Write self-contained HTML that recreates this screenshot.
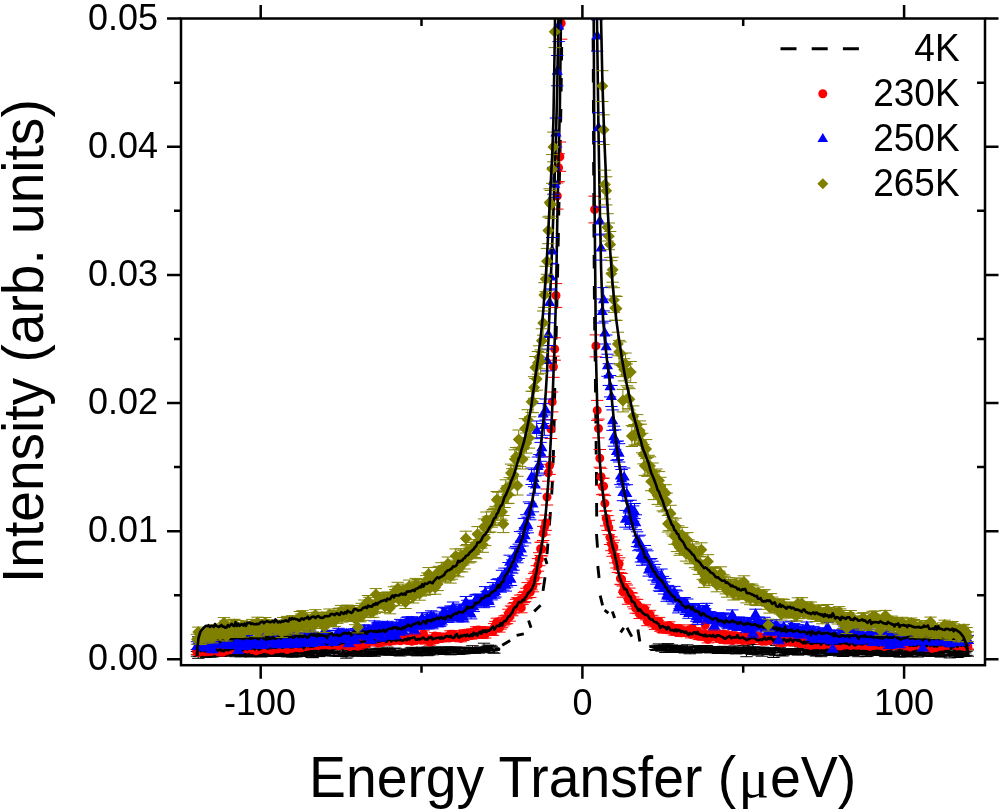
<!DOCTYPE html>
<html><head><meta charset="utf-8"><title>Intensity vs Energy Transfer</title>
<style>
html,body{margin:0;padding:0;background:#fff;}
svg{display:block;will-change:transform;}
text{font-family:"Liberation Sans",Arial,sans-serif;fill:#000;}
</style></head>
<body>
<svg width="1000" height="811" viewBox="0 0 1000 811">
<rect width="1000" height="811" fill="#fff"/>
<defs><clipPath id="c"><rect x="181.0" y="18.5" width="804.0" height="646.7"/></clipPath></defs>
<g clip-path="url(#c)">
<path d="M197 651.4V656.2M190.8 651.4h12.4M190.8 656.2h12.4M198.3 651.9V658.3M192.1 651.9h12.4M192.1 658.3h12.4M199.6 653.4V656.6M193.4 653.4h12.4M193.4 656.6h12.4M200.9 650.6V655.9M194.7 650.6h12.4M194.7 655.9h12.4M202.2 650.5V656.3M196 650.5h12.4M196 656.3h12.4M203.4 650.6V655.8M197.2 650.6h12.4M197.2 655.8h12.4M204.7 652.3V656.2M198.5 652.3h12.4M198.5 656.2h12.4M206 649.8V657.4M199.8 649.8h12.4M199.8 657.4h12.4M207.3 652.8V656M201.1 652.8h12.4M201.1 656h12.4M208.6 649.2V654.4M202.4 649.2h12.4M202.4 654.4h12.4M209.9 653.4V657.1M203.7 653.4h12.4M203.7 657.1h12.4M211.2 650.8V656.3M205 650.8h12.4M205 656.3h12.4M212.4 651.7V657M206.2 651.7h12.4M206.2 657h12.4M213.7 651.2V655.8M207.5 651.2h12.4M207.5 655.8h12.4M215 651.3V655.1M208.8 651.3h12.4M208.8 655.1h12.4M216.3 651.9V656.2M210.1 651.9h12.4M210.1 656.2h12.4M217.6 652.6V656.3M211.4 652.6h12.4M211.4 656.3h12.4M218.9 650.6V656.2M212.7 650.6h12.4M212.7 656.2h12.4M220.2 651.7V655.2M214 651.7h12.4M214 655.2h12.4M221.5 652.3V656.2M215.3 652.3h12.4M215.3 656.2h12.4M222.7 649.8V655.6M216.5 649.8h12.4M216.5 655.6h12.4M224 649.3V654.8M217.8 649.3h12.4M217.8 654.8h12.4M225.3 651.6V656.2M219.1 651.6h12.4M219.1 656.2h12.4M226.6 651V654.7M220.4 651h12.4M220.4 654.7h12.4M227.9 649.8V653.4M221.7 649.8h12.4M221.7 653.4h12.4M229.2 650.1V655.3M223 650.1h12.4M223 655.3h12.4M230.5 650.4V655.7M224.3 650.4h12.4M224.3 655.7h12.4M231.7 649.9V654.7M225.5 649.9h12.4M225.5 654.7h12.4M233 650.1V653.9M226.8 650.1h12.4M226.8 653.9h12.4M234.3 651.7V655.3M228.1 651.7h12.4M228.1 655.3h12.4M235.6 652V656.7M229.4 652h12.4M229.4 656.7h12.4M236.9 650.9V655.5M230.7 650.9h12.4M230.7 655.5h12.4M238.2 650.3V655.1M232 650.3h12.4M232 655.1h12.4M239.5 652.1V655.5M233.3 652.1h12.4M233.3 655.5h12.4M240.8 651.5V656.8M234.6 651.5h12.4M234.6 656.8h12.4M242 651.3V654.9M235.8 651.3h12.4M235.8 654.9h12.4M243.3 652.3V655.6M237.1 652.3h12.4M237.1 655.6h12.4M244.6 652.4V656.5M238.4 652.4h12.4M238.4 656.5h12.4M245.9 651.6V654.7M239.7 651.6h12.4M239.7 654.7h12.4M247.2 650.2V654.9M241 650.2h12.4M241 654.9h12.4M248.5 650.8V656.6M242.3 650.8h12.4M242.3 656.6h12.4M249.8 650.5V656.7M243.6 650.5h12.4M243.6 656.7h12.4M251 652.1V656.8M244.8 652.1h12.4M244.8 656.8h12.4M252.3 650.4V653.7M246.1 650.4h12.4M246.1 653.7h12.4M253.6 649.7V655.7M247.4 649.7h12.4M247.4 655.7h12.4M254.9 650.3V654.7M248.7 650.3h12.4M248.7 654.7h12.4M256.2 648.7V654.5M250 648.7h12.4M250 654.5h12.4M257.5 650.8V656.1M251.3 650.8h12.4M251.3 656.1h12.4M258.8 651.4V656.2M252.6 651.4h12.4M252.6 656.2h12.4M260.1 649.3V655.8M253.9 649.3h12.4M253.9 655.8h12.4M261.3 652.3V657M255.1 652.3h12.4M255.1 657h12.4M262.6 652.1V656.1M256.4 652.1h12.4M256.4 656.1h12.4M263.9 651.4V656.4M257.7 651.4h12.4M257.7 656.4h12.4M265.2 650.9V656.4M259 650.9h12.4M259 656.4h12.4M266.5 652.5V655.9M260.3 652.5h12.4M260.3 655.9h12.4M267.8 650.4V653.4M261.6 650.4h12.4M261.6 653.4h12.4M269.1 651.8V655.9M262.9 651.8h12.4M262.9 655.9h12.4M270.4 651.3V656.4M264.2 651.3h12.4M264.2 656.4h12.4M271.6 648.9V653.9M265.4 648.9h12.4M265.4 653.9h12.4M272.9 651.1V656M266.7 651.1h12.4M266.7 656h12.4M274.2 650.9V655M268 650.9h12.4M268 655h12.4M275.5 652.1V655.8M269.3 652.1h12.4M269.3 655.8h12.4M276.8 650.6V654.9M270.6 650.6h12.4M270.6 654.9h12.4M278.1 650.5V655.8M271.9 650.5h12.4M271.9 655.8h12.4M279.4 650.5V656.5M273.2 650.5h12.4M273.2 656.5h12.4M280.6 650.1V654.4M274.4 650.1h12.4M274.4 654.4h12.4M281.9 652.1V655.4M275.7 652.1h12.4M275.7 655.4h12.4M283.2 650V656M277 650h12.4M277 656h12.4M284.5 651.5V655.7M278.3 651.5h12.4M278.3 655.7h12.4M285.8 650V655.2M279.6 650h12.4M279.6 655.2h12.4M287.1 651.5V656.9M280.9 651.5h12.4M280.9 656.9h12.4M288.4 651V656.4M282.2 651h12.4M282.2 656.4h12.4M289.7 651.3V654.4M283.5 651.3h12.4M283.5 654.4h12.4M290.9 652V655.4M284.7 652h12.4M284.7 655.4h12.4M292.2 651.6V657M286 651.6h12.4M286 657h12.4M293.5 652.9V656.7M287.3 652.9h12.4M287.3 656.7h12.4M294.8 649.6V653.3M288.6 649.6h12.4M288.6 653.3h12.4M296.1 651V656.9M289.9 651h12.4M289.9 656.9h12.4M297.4 651.6V655.4M291.2 651.6h12.4M291.2 655.4h12.4M298.7 650.7V655.1M292.5 650.7h12.4M292.5 655.1h12.4M299.9 650.5V653.5M293.7 650.5h12.4M293.7 653.5h12.4M301.2 652.1V656.4M295 652.1h12.4M295 656.4h12.4M302.5 649.7V653.7M296.3 649.7h12.4M296.3 653.7h12.4M303.8 651.8V655.2M297.6 651.8h12.4M297.6 655.2h12.4M305.1 652.1V656.4M298.9 652.1h12.4M298.9 656.4h12.4M306.4 648.1V654.6M300.2 648.1h12.4M300.2 654.6h12.4M307.7 650.2V655.1M301.5 650.2h12.4M301.5 655.1h12.4M309 649.9V653.3M302.8 649.9h12.4M302.8 653.3h12.4M310.2 650.6V655.6M304 650.6h12.4M304 655.6h12.4M311.5 651.4V657.4M305.3 651.4h12.4M305.3 657.4h12.4M312.8 652V657.7M306.6 652h12.4M306.6 657.7h12.4M314.1 648.5V653.6M307.9 648.5h12.4M307.9 653.6h12.4M315.4 650.5V653.9M309.2 650.5h12.4M309.2 653.9h12.4M316.7 650.9V656.1M310.5 650.9h12.4M310.5 656.1h12.4M318 652.6V656.1M311.8 652.6h12.4M311.8 656.1h12.4M319.2 649.8V656.6M313 649.8h12.4M313 656.6h12.4M320.5 650.3V653.7M314.3 650.3h12.4M314.3 653.7h12.4M321.8 650.1V655.9M315.6 650.1h12.4M315.6 655.9h12.4M323.1 650.9V654.5M316.9 650.9h12.4M316.9 654.5h12.4M324.4 649.8V655.2M318.2 649.8h12.4M318.2 655.2h12.4M325.7 650.2V653.7M319.5 650.2h12.4M319.5 653.7h12.4M327 650.5V655.6M320.8 650.5h12.4M320.8 655.6h12.4M328.3 650.6V655.3M322.1 650.6h12.4M322.1 655.3h12.4M329.5 649.8V655.3M323.3 649.8h12.4M323.3 655.3h12.4M330.8 649.5V655.4M324.6 649.5h12.4M324.6 655.4h12.4M332.1 649.2V653.5M325.9 649.2h12.4M325.9 653.5h12.4M333.4 648.4V655.8M327.2 648.4h12.4M327.2 655.8h12.4M334.7 651.4V656.2M328.5 651.4h12.4M328.5 656.2h12.4M336 649.2V655.6M329.8 649.2h12.4M329.8 655.6h12.4M337.3 648.7V653.5M331.1 648.7h12.4M331.1 653.5h12.4M338.6 651.3V656.5M332.4 651.3h12.4M332.4 656.5h12.4M339.8 649.6V656.5M333.6 649.6h12.4M333.6 656.5h12.4M341.1 652.8V656.4M334.9 652.8h12.4M334.9 656.4h12.4M342.4 649.2V655.9M336.2 649.2h12.4M336.2 655.9h12.4M343.7 650V654M337.5 650h12.4M337.5 654h12.4M345 647.5V654.5M338.8 647.5h12.4M338.8 654.5h12.4M346.3 649.4V658.2M340.1 649.4h12.4M340.1 658.2h12.4M347.6 653.1V656.9M341.4 653.1h12.4M341.4 656.9h12.4M348.8 647.6V655.6M342.6 647.6h12.4M342.6 655.6h12.4M350.1 649.6V653.9M343.9 649.6h12.4M343.9 653.9h12.4M351.4 650.6V655.4M345.2 650.6h12.4M345.2 655.4h12.4M352.7 649.9V653.2M346.5 649.9h12.4M346.5 653.2h12.4M354 650.2V653.9M347.8 650.2h12.4M347.8 653.9h12.4M355.3 649.8V654.2M349.1 649.8h12.4M349.1 654.2h12.4M356.6 649.2V655.8M350.4 649.2h12.4M350.4 655.8h12.4M357.9 650.5V656.3M351.7 650.5h12.4M351.7 656.3h12.4M359.1 650.2V654.4M352.9 650.2h12.4M352.9 654.4h12.4M360.4 651.3V655.1M354.2 651.3h12.4M354.2 655.1h12.4M361.7 648.8V654.9M355.5 648.8h12.4M355.5 654.9h12.4M363 649.3V655.8M356.8 649.3h12.4M356.8 655.8h12.4M364.3 646.4V653.7M358.1 646.4h12.4M358.1 653.7h12.4M365.6 648.2V653.3M359.4 648.2h12.4M359.4 653.3h12.4M366.9 649.6V656.4M360.7 649.6h12.4M360.7 656.4h12.4M368.1 650V653.2M361.9 650h12.4M361.9 653.2h12.4M369.4 651.1V654.4M363.2 651.1h12.4M363.2 654.4h12.4M370.7 649.5V655.8M364.5 649.5h12.4M364.5 655.8h12.4M372 651.7V655.2M365.8 651.7h12.4M365.8 655.2h12.4M373.3 651.1V654.8M367.1 651.1h12.4M367.1 654.8h12.4M374.6 650V656.3M368.4 650h12.4M368.4 656.3h12.4M375.9 649.1V654.9M369.7 649.1h12.4M369.7 654.9h12.4M377.2 648.9V653.9M371 648.9h12.4M371 653.9h12.4M378.4 648.3V654.4M372.2 648.3h12.4M372.2 654.4h12.4M379.7 648.3V654.8M373.5 648.3h12.4M373.5 654.8h12.4M381 648.2V653.6M374.8 648.2h12.4M374.8 653.6h12.4M382.3 648.9V654M376.1 648.9h12.4M376.1 654h12.4M383.6 650.2V653.6M377.4 650.2h12.4M377.4 653.6h12.4M384.9 649.6V654.9M378.7 649.6h12.4M378.7 654.9h12.4M386.2 649.9V653.3M380 649.9h12.4M380 653.3h12.4M387.4 647.1V652.9M381.2 647.1h12.4M381.2 652.9h12.4M388.7 648.6V655.2M382.5 648.6h12.4M382.5 655.2h12.4M390 649.5V654.8M383.8 649.5h12.4M383.8 654.8h12.4M391.3 651.4V654.6M385.1 651.4h12.4M385.1 654.6h12.4M392.6 650.8V654.2M386.4 650.8h12.4M386.4 654.2h12.4M393.9 648.4V654.1M387.7 648.4h12.4M387.7 654.1h12.4M395.2 648.1V654.2M389 648.1h12.4M389 654.2h12.4M396.5 652.3V655.4M390.3 652.3h12.4M390.3 655.4h12.4M397.7 650.9V654.3M391.5 650.9h12.4M391.5 654.3h12.4M399 651.6V655.7M392.8 651.6h12.4M392.8 655.7h12.4M400.3 651.9V655.9M394.1 651.9h12.4M394.1 655.9h12.4M401.6 648.9V653M395.4 648.9h12.4M395.4 653h12.4M402.9 650.3V653.9M396.7 650.3h12.4M396.7 653.9h12.4M404.2 650.2V654.1M398 650.2h12.4M398 654.1h12.4M405.5 650.2V654.2M399.3 650.2h12.4M399.3 654.2h12.4M406.8 650.6V653.8M400.6 650.6h12.4M400.6 653.8h12.4M408 649.6V654M401.8 649.6h12.4M401.8 654h12.4M409.3 650.2V653.3M403.1 650.2h12.4M403.1 653.3h12.4M410.6 648.1V651.9M404.4 648.1h12.4M404.4 651.9h12.4M411.9 647.3V655.3M405.7 647.3h12.4M405.7 655.3h12.4M413.2 648.7V652.8M407 648.7h12.4M407 652.8h12.4M414.5 649.7V653.4M408.3 649.7h12.4M408.3 653.4h12.4M415.8 647.8V654M409.6 647.8h12.4M409.6 654h12.4M417 648.2V655.8M410.8 648.2h12.4M410.8 655.8h12.4M418.3 648.7V655.6M412.1 648.7h12.4M412.1 655.6h12.4M419.6 648.8V654.4M413.4 648.8h12.4M413.4 654.4h12.4M420.9 650V653.2M414.7 650h12.4M414.7 653.2h12.4M422.2 647.2V655.5M416 647.2h12.4M416 655.5h12.4M423.5 648.8V652.7M417.3 648.8h12.4M417.3 652.7h12.4M424.8 648.2V653.8M418.6 648.2h12.4M418.6 653.8h12.4M426.1 648.9V652.4M419.9 648.9h12.4M419.9 652.4h12.4M427.3 647.3V655.7M421.1 647.3h12.4M421.1 655.7h12.4M428.6 647.1V655.1M422.4 647.1h12.4M422.4 655.1h12.4M429.9 649V654.3M423.7 649h12.4M423.7 654.3h12.4M431.2 648V651.4M425 648h12.4M425 651.4h12.4M432.5 648.9V654.8M426.3 648.9h12.4M426.3 654.8h12.4M433.8 647.5V652.9M427.6 647.5h12.4M427.6 652.9h12.4M435.1 647V653.4M428.9 647h12.4M428.9 653.4h12.4M436.3 647.9V653.4M430.1 647.9h12.4M430.1 653.4h12.4M437.6 647.2V653.4M431.4 647.2h12.4M431.4 653.4h12.4M438.9 648.8V653.5M432.7 648.8h12.4M432.7 653.5h12.4M440.2 647.5V652.9M434 647.5h12.4M434 652.9h12.4M441.5 647.3V652.1M435.3 647.3h12.4M435.3 652.1h12.4M442.8 647.2V652.6M436.6 647.2h12.4M436.6 652.6h12.4M444.1 649.6V654.5M437.9 649.6h12.4M437.9 654.5h12.4M445.4 647.9V653.5M439.2 647.9h12.4M439.2 653.5h12.4M446.6 647.1V651.9M440.4 647.1h12.4M440.4 651.9h12.4M447.9 649V652.2M441.7 649h12.4M441.7 652.2h12.4M449.2 647V651M443 647h12.4M443 651h12.4M450.5 649.8V654.8M444.3 649.8h12.4M444.3 654.8h12.4M451.8 647.2V650.7M445.6 647.2h12.4M445.6 650.7h12.4M453.1 647.4V654.5M446.9 647.4h12.4M446.9 654.5h12.4M454.4 649.2V652.8M448.2 649.2h12.4M448.2 652.8h12.4M455.7 647V650.9M449.5 647h12.4M449.5 650.9h12.4M456.9 648.4V652.9M450.7 648.4h12.4M450.7 652.9h12.4M458.2 648.5V654.2M452 648.5h12.4M452 654.2h12.4M459.5 647.4V654.2M453.3 647.4h12.4M453.3 654.2h12.4M460.8 648.7V652.4M454.6 648.7h12.4M454.6 652.4h12.4M462.1 648.4V653.9M455.9 648.4h12.4M455.9 653.9h12.4M463.4 647.4V653.4M457.2 647.4h12.4M457.2 653.4h12.4M464.7 647.2V653.8M458.5 647.2h12.4M458.5 653.8h12.4M465.9 648.3V651.7M459.7 648.3h12.4M459.7 651.7h12.4M467.2 648.3V653.2M461 648.3h12.4M461 653.2h12.4M468.5 647.6V650.7M462.3 647.6h12.4M462.3 650.7h12.4M469.8 648.6V653.1M463.6 648.6h12.4M463.6 653.1h12.4M471.1 647.7V651.4M464.9 647.7h12.4M464.9 651.4h12.4M472.4 645.7V652.1M466.2 645.7h12.4M466.2 652.1h12.4M473.7 648.4V652.3M467.5 648.4h12.4M467.5 652.3h12.4M475 650V653.3M468.8 650h12.4M468.8 653.3h12.4M476.2 649V652.7M470 649h12.4M470 652.7h12.4M477.5 647.8V650.9M471.3 647.8h12.4M471.3 650.9h12.4M478.8 648.1V653M472.6 648.1h12.4M472.6 653h12.4M480.1 646.9V651.8M473.9 646.9h12.4M473.9 651.8h12.4M481.4 647.7V651.5M475.2 647.7h12.4M475.2 651.5h12.4M482.7 648.2V651.4M476.5 648.2h12.4M476.5 651.4h12.4M484 643.2V651.5M477.8 643.2h12.4M477.8 651.5h12.4M485.2 647.9V651.8M479 647.9h12.4M479 651.8h12.4M486.5 646.9V650.3M480.3 646.9h12.4M480.3 650.3h12.4M487.8 645.2V652.7M481.6 645.2h12.4M481.6 652.7h12.4M489.1 646.6V649.6M482.9 646.6h12.4M482.9 649.6h12.4M490.4 645.3V650.7M484.2 645.3h12.4M484.2 650.7h12.4M491.7 646.3V650.8M485.5 646.3h12.4M485.5 650.8h12.4M493 647.8V652.8M486.8 647.8h12.4M486.8 652.8h12.4M494.3 649.1V653.2M488.1 649.1h12.4M488.1 653.2h12.4M655.1 645.9V649.6M648.9 645.9h12.4M648.9 649.6h12.4M656.4 647.2V650.5M650.2 647.2h12.4M650.2 650.5h12.4M657.7 645.2V649.9M651.5 645.2h12.4M651.5 649.9h12.4M659 643.9V648.1M652.8 643.9h12.4M652.8 648.1h12.4M660.3 645.9V650.2M654.1 645.9h12.4M654.1 650.2h12.4M661.5 645.7V651.2M655.3 645.7h12.4M655.3 651.2h12.4M662.8 645.3V649.9M656.6 645.3h12.4M656.6 649.9h12.4M664.1 646.3V650.5M657.9 646.3h12.4M657.9 650.5h12.4M665.4 645V652.5M659.2 645h12.4M659.2 652.5h12.4M666.7 645.2V649.4M660.5 645.2h12.4M660.5 649.4h12.4M668 643.6V649.9M661.8 643.6h12.4M661.8 649.9h12.4M669.3 645.1V651M663.1 645.1h12.4M663.1 651h12.4M670.5 646.5V649.8M664.3 646.5h12.4M664.3 649.8h12.4M671.8 645V651.1M665.6 645h12.4M665.6 651.1h12.4M673.1 647.4V651.4M666.9 647.4h12.4M666.9 651.4h12.4M674.4 648V652.5M668.2 648h12.4M668.2 652.5h12.4M675.7 645.6V650.7M669.5 645.6h12.4M669.5 650.7h12.4M677 647.7V650.9M670.8 647.7h12.4M670.8 650.9h12.4M678.3 646.8V652.4M672.1 646.8h12.4M672.1 652.4h12.4M679.6 646.4V652.4M673.4 646.4h12.4M673.4 652.4h12.4M680.8 647.1V652.5M674.6 647.1h12.4M674.6 652.5h12.4M682.1 645.3V651.5M675.9 645.3h12.4M675.9 651.5h12.4M683.4 647.9V651.3M677.2 647.9h12.4M677.2 651.3h12.4M684.7 648.8V653M678.5 648.8h12.4M678.5 653h12.4M686 647.9V651.6M679.8 647.9h12.4M679.8 651.6h12.4M687.3 644.8V651.9M681.1 644.8h12.4M681.1 651.9h12.4M688.6 647.1V652.2M682.4 647.1h12.4M682.4 652.2h12.4M689.8 646.9V653.8M683.6 646.9h12.4M683.6 653.8h12.4M691.1 647.9V651.1M684.9 647.9h12.4M684.9 651.1h12.4M692.4 647V650.3M686.2 647h12.4M686.2 650.3h12.4M693.7 649.1V652.5M687.5 649.1h12.4M687.5 652.5h12.4M695 646V650.1M688.8 646h12.4M688.8 650.1h12.4M696.3 646.8V653M690.1 646.8h12.4M690.1 653h12.4M697.6 646.9V651.8M691.4 646.9h12.4M691.4 651.8h12.4M698.9 645.7V650.8M692.7 645.7h12.4M692.7 650.8h12.4M700.1 648.8V652.6M693.9 648.8h12.4M693.9 652.6h12.4M701.4 647.7V652M695.2 647.7h12.4M695.2 652h12.4M702.7 646.1V650.7M696.5 646.1h12.4M696.5 650.7h12.4M704 647.9V652.5M697.8 647.9h12.4M697.8 652.5h12.4M705.3 647.3V651.1M699.1 647.3h12.4M699.1 651.1h12.4M706.6 645.5V650M700.4 645.5h12.4M700.4 650h12.4M707.9 646.4V651.5M701.7 646.4h12.4M701.7 651.5h12.4M709.1 647.9V652M702.9 647.9h12.4M702.9 652h12.4M710.4 647.8V652.9M704.2 647.8h12.4M704.2 652.9h12.4M711.7 648.3V651.5M705.5 648.3h12.4M705.5 651.5h12.4M713 648V651.6M706.8 648h12.4M706.8 651.6h12.4M714.3 648.4V652.1M708.1 648.4h12.4M708.1 652.1h12.4M715.6 647.8V651.4M709.4 647.8h12.4M709.4 651.4h12.4M716.9 649.3V652.8M710.7 649.3h12.4M710.7 652.8h12.4M718.2 646.5V653.5M712 646.5h12.4M712 653.5h12.4M719.4 646.9V653.5M713.2 646.9h12.4M713.2 653.5h12.4M720.7 648.1V652.8M714.5 648.1h12.4M714.5 652.8h12.4M722 646.8V651M715.8 646.8h12.4M715.8 651h12.4M723.3 646.3V652.2M717.1 646.3h12.4M717.1 652.2h12.4M724.6 649.8V653.3M718.4 649.8h12.4M718.4 653.3h12.4M725.9 648.8V651.9M719.7 648.8h12.4M719.7 651.9h12.4M727.2 647.6V651.9M721 647.6h12.4M721 651.9h12.4M728.5 647.2V653.6M722.3 647.2h12.4M722.3 653.6h12.4M729.7 647.9V651.3M723.5 647.9h12.4M723.5 651.3h12.4M731 647.6V653.2M724.8 647.6h12.4M724.8 653.2h12.4M732.3 647V652M726.1 647h12.4M726.1 652h12.4M733.6 647.4V653.4M727.4 647.4h12.4M727.4 653.4h12.4M734.9 645.9V651.4M728.7 645.9h12.4M728.7 651.4h12.4M736.2 649.2V653.9M730 649.2h12.4M730 653.9h12.4M737.5 647.7V651.8M731.3 647.7h12.4M731.3 651.8h12.4M738.7 647.2V650.2M732.5 647.2h12.4M732.5 650.2h12.4M740 647.8V652.3M733.8 647.8h12.4M733.8 652.3h12.4M741.3 647.6V652.3M735.1 647.6h12.4M735.1 652.3h12.4M742.6 647.9V653.1M736.4 647.9h12.4M736.4 653.1h12.4M743.9 645.7V652.8M737.7 645.7h12.4M737.7 652.8h12.4M745.2 648V653.6M739 648h12.4M739 653.6h12.4M746.5 651.4V656.7M740.3 651.4h12.4M740.3 656.7h12.4M747.8 646.1V652.2M741.6 646.1h12.4M741.6 652.2h12.4M749 649V652.7M742.8 649h12.4M742.8 652.7h12.4M750.3 648V652.4M744.1 648h12.4M744.1 652.4h12.4M751.6 647V654.4M745.4 647h12.4M745.4 654.4h12.4M752.9 644.5V653M746.7 644.5h12.4M746.7 653h12.4M754.2 647V651.8M748 647h12.4M748 651.8h12.4M755.5 648.2V653.9M749.3 648.2h12.4M749.3 653.9h12.4M756.8 647.7V653.4M750.6 647.7h12.4M750.6 653.4h12.4M758 649.5V655.1M751.8 649.5h12.4M751.8 655.1h12.4M759.3 647.2V652.7M753.1 647.2h12.4M753.1 652.7h12.4M760.6 647.7V654M754.4 647.7h12.4M754.4 654h12.4M761.9 651V656.2M755.7 651h12.4M755.7 656.2h12.4M763.2 647.2V652.7M757 647.2h12.4M757 652.7h12.4M764.5 648V651.7M758.3 648h12.4M758.3 651.7h12.4M765.8 648.4V653.1M759.6 648.4h12.4M759.6 653.1h12.4M767.1 649.2V652.3M760.9 649.2h12.4M760.9 652.3h12.4M768.3 648.8V654.5M762.1 648.8h12.4M762.1 654.5h12.4M769.6 648V654M763.4 648h12.4M763.4 654h12.4M770.9 648.2V652M764.7 648.2h12.4M764.7 652h12.4M772.2 648.1V654.1M766 648.1h12.4M766 654.1h12.4M773.5 649.7V657.5M767.3 649.7h12.4M767.3 657.5h12.4M774.8 648.7V655.7M768.6 648.7h12.4M768.6 655.7h12.4M776.1 645.6V650.7M769.9 645.6h12.4M769.9 650.7h12.4M777.4 649.2V652.5M771.2 649.2h12.4M771.2 652.5h12.4M778.6 647.9V652.4M772.4 647.9h12.4M772.4 652.4h12.4M779.9 647.8V655.5M773.7 647.8h12.4M773.7 655.5h12.4M781.2 649.1V652.7M775 649.1h12.4M775 652.7h12.4M782.5 650V656M776.3 650h12.4M776.3 656h12.4M783.8 649.1V655M777.6 649.1h12.4M777.6 655h12.4M785.1 649.7V654.3M778.9 649.7h12.4M778.9 654.3h12.4M786.4 649.5V653.2M780.2 649.5h12.4M780.2 653.2h12.4M787.6 649V653.3M781.4 649h12.4M781.4 653.3h12.4M788.9 649.3V653.8M782.7 649.3h12.4M782.7 653.8h12.4M790.2 650.7V654.3M784 650.7h12.4M784 654.3h12.4M791.5 649.2V654.3M785.3 649.2h12.4M785.3 654.3h12.4M792.8 648.7V653.2M786.6 648.7h12.4M786.6 653.2h12.4M794.1 650.9V654.2M787.9 650.9h12.4M787.9 654.2h12.4M795.4 648.7V654.3M789.2 648.7h12.4M789.2 654.3h12.4M796.7 648.8V653.8M790.5 648.8h12.4M790.5 653.8h12.4M797.9 646V655.1M791.7 646h12.4M791.7 655.1h12.4M799.2 648.8V652.8M793 648.8h12.4M793 652.8h12.4M800.5 646.9V654.6M794.3 646.9h12.4M794.3 654.6h12.4M801.8 646.6V650.7M795.6 646.6h12.4M795.6 650.7h12.4M803.1 650.8V654.2M796.9 650.8h12.4M796.9 654.2h12.4M804.4 649.6V654.5M798.2 649.6h12.4M798.2 654.5h12.4M805.7 649.2V653.3M799.5 649.2h12.4M799.5 653.3h12.4M806.9 650.6V654.6M800.7 650.6h12.4M800.7 654.6h12.4M808.2 649.9V654.1M802 649.9h12.4M802 654.1h12.4M809.5 650.4V653.5M803.3 650.4h12.4M803.3 653.5h12.4M810.8 647.4V650.8M804.6 647.4h12.4M804.6 650.8h12.4M812.1 649.2V653.6M805.9 649.2h12.4M805.9 653.6h12.4M813.4 649.4V654.9M807.2 649.4h12.4M807.2 654.9h12.4M814.7 651.6V654.9M808.5 651.6h12.4M808.5 654.9h12.4M816 651V656.1M809.8 651h12.4M809.8 656.1h12.4M817.2 650.9V655.3M811 650.9h12.4M811 655.3h12.4M818.5 648.5V652.6M812.3 648.5h12.4M812.3 652.6h12.4M819.8 647.5V651.6M813.6 647.5h12.4M813.6 651.6h12.4M821.1 648V656.7M814.9 648h12.4M814.9 656.7h12.4M822.4 650V653.6M816.2 650h12.4M816.2 653.6h12.4M823.7 650.1V655.4M817.5 650.1h12.4M817.5 655.4h12.4M825 648.1V655.4M818.8 648.1h12.4M818.8 655.4h12.4M826.2 650.5V653.7M820 650.5h12.4M820 653.7h12.4M827.5 648.6V652.2M821.3 648.6h12.4M821.3 652.2h12.4M828.8 649.7V655M822.6 649.7h12.4M822.6 655h12.4M830.1 648.1V654.9M823.9 648.1h12.4M823.9 654.9h12.4M831.4 650.5V654.2M825.2 650.5h12.4M825.2 654.2h12.4M832.7 650.5V654.3M826.5 650.5h12.4M826.5 654.3h12.4M834 650.3V653.5M827.8 650.3h12.4M827.8 653.5h12.4M835.3 649.5V655.2M829.1 649.5h12.4M829.1 655.2h12.4M836.5 649.3V654.8M830.3 649.3h12.4M830.3 654.8h12.4M837.8 651.1V654.6M831.6 651.1h12.4M831.6 654.6h12.4M839.1 649.2V656M832.9 649.2h12.4M832.9 656h12.4M840.4 649.9V653.2M834.2 649.9h12.4M834.2 653.2h12.4M841.7 648.2V655M835.5 648.2h12.4M835.5 655h12.4M843 651.3V656.5M836.8 651.3h12.4M836.8 656.5h12.4M844.3 650.6V653.6M838.1 650.6h12.4M838.1 653.6h12.4M845.6 650.7V655.7M839.4 650.7h12.4M839.4 655.7h12.4M846.8 650V655.3M840.6 650h12.4M840.6 655.3h12.4M848.1 648.6V654.8M841.9 648.6h12.4M841.9 654.8h12.4M849.4 649.7V653.3M843.2 649.7h12.4M843.2 653.3h12.4M850.7 650.3V654.5M844.5 650.3h12.4M844.5 654.5h12.4M852 649.5V655.7M845.8 649.5h12.4M845.8 655.7h12.4M853.3 650.4V655.5M847.1 650.4h12.4M847.1 655.5h12.4M854.6 649.3V652.8M848.4 649.3h12.4M848.4 652.8h12.4M855.8 650.1V653.3M849.6 650.1h12.4M849.6 653.3h12.4M857.1 650.7V653.8M850.9 650.7h12.4M850.9 653.8h12.4M858.4 651.2V656.7M852.2 651.2h12.4M852.2 656.7h12.4M859.7 647.8V652.2M853.5 647.8h12.4M853.5 652.2h12.4M861 650.7V654.9M854.8 650.7h12.4M854.8 654.9h12.4M862.3 650.3V653.4M856.1 650.3h12.4M856.1 653.4h12.4M863.6 651.1V654.6M857.4 651.1h12.4M857.4 654.6h12.4M864.9 650.1V653.7M858.7 650.1h12.4M858.7 653.7h12.4M866.1 648.9V656.6M859.9 648.9h12.4M859.9 656.6h12.4M867.4 651.8V656.2M861.2 651.8h12.4M861.2 656.2h12.4M868.7 651V654.6M862.5 651h12.4M862.5 654.6h12.4M870 651.1V654.7M863.8 651.1h12.4M863.8 654.7h12.4M871.3 650.6V655M865.1 650.6h12.4M865.1 655h12.4M872.6 649.7V653.7M866.4 649.7h12.4M866.4 653.7h12.4M873.9 651V655M867.7 651h12.4M867.7 655h12.4M875.1 649.7V654.9M868.9 649.7h12.4M868.9 654.9h12.4M876.4 648.5V654.8M870.2 648.5h12.4M870.2 654.8h12.4M877.7 650.9V654M871.5 650.9h12.4M871.5 654h12.4M879 649.4V655.1M872.8 649.4h12.4M872.8 655.1h12.4M880.3 651.5V655M874.1 651.5h12.4M874.1 655h12.4M881.6 649.7V655.3M875.4 649.7h12.4M875.4 655.3h12.4M882.9 649.5V654.5M876.7 649.5h12.4M876.7 654.5h12.4M884.2 652.4V655.6M878 652.4h12.4M878 655.6h12.4M885.4 650.5V656.6M879.2 650.5h12.4M879.2 656.6h12.4M886.7 651.7V656M880.5 651.7h12.4M880.5 656h12.4M888 651.3V655M881.8 651.3h12.4M881.8 655h12.4M889.3 649.4V655.5M883.1 649.4h12.4M883.1 655.5h12.4M890.6 649.6V654.7M884.4 649.6h12.4M884.4 654.7h12.4M891.9 648.5V656.1M885.7 648.5h12.4M885.7 656.1h12.4M893.2 651.6V655.5M887 651.6h12.4M887 655.5h12.4M894.4 650.9V654.5M888.2 650.9h12.4M888.2 654.5h12.4M895.7 648.3V654M889.5 648.3h12.4M889.5 654h12.4M897 648.7V656.5M890.8 648.7h12.4M890.8 656.5h12.4M898.3 648.3V654.2M892.1 648.3h12.4M892.1 654.2h12.4M899.6 648.6V657.1M893.4 648.6h12.4M893.4 657.1h12.4M900.9 648.2V654.7M894.7 648.2h12.4M894.7 654.7h12.4M902.2 649V653.8M896 649h12.4M896 653.8h12.4M903.5 650.9V654.7M897.3 650.9h12.4M897.3 654.7h12.4M904.7 648.4V656.8M898.5 648.4h12.4M898.5 656.8h12.4M906 649.4V652.6M899.8 649.4h12.4M899.8 652.6h12.4M907.3 651.5V655.5M901.1 651.5h12.4M901.1 655.5h12.4M908.6 653.2V656.6M902.4 653.2h12.4M902.4 656.6h12.4M909.9 648.3V654.2M903.7 648.3h12.4M903.7 654.2h12.4M911.2 652.5V656.6M905 652.5h12.4M905 656.6h12.4M912.5 650.5V653.7M906.3 650.5h12.4M906.3 653.7h12.4M913.8 650.4V654.1M907.6 650.4h12.4M907.6 654.1h12.4M915 650.7V654.5M908.8 650.7h12.4M908.8 654.5h12.4M916.3 648.7V654M910.1 648.7h12.4M910.1 654h12.4M917.6 651.1V657M911.4 651.1h12.4M911.4 657h12.4M918.9 650.7V655.9M912.7 650.7h12.4M912.7 655.9h12.4M920.2 649.6V654.5M914 649.6h12.4M914 654.5h12.4M921.5 649.3V655.8M915.3 649.3h12.4M915.3 655.8h12.4M922.8 649.4V653.2M916.6 649.4h12.4M916.6 653.2h12.4M924 650.1V654.9M917.8 650.1h12.4M917.8 654.9h12.4M925.3 652.2V655.3M919.1 652.2h12.4M919.1 655.3h12.4M926.6 648.9V653.3M920.4 648.9h12.4M920.4 653.3h12.4M927.9 648.5V656.3M921.7 648.5h12.4M921.7 656.3h12.4M929.2 650.3V655.7M923 650.3h12.4M923 655.7h12.4M930.5 652.3V655.5M924.3 652.3h12.4M924.3 655.5h12.4M931.8 652V656.4M925.6 652h12.4M925.6 656.4h12.4M933.1 649.3V655.5M926.9 649.3h12.4M926.9 655.5h12.4M934.3 648.3V656M928.1 648.3h12.4M928.1 656h12.4M935.6 650.9V655.8M929.4 650.9h12.4M929.4 655.8h12.4M936.9 650.8V654.3M930.7 650.8h12.4M930.7 654.3h12.4M938.2 650.4V654.8M932 650.4h12.4M932 654.8h12.4M939.5 651.7V656.4M933.3 651.7h12.4M933.3 656.4h12.4M940.8 652.2V657.1M934.6 652.2h12.4M934.6 657.1h12.4M942.1 650.6V655.8M935.9 650.6h12.4M935.9 655.8h12.4M943.3 650.4V655.1M937.1 650.4h12.4M937.1 655.1h12.4M944.6 651V656.1M938.4 651h12.4M938.4 656.1h12.4M945.9 649.5V652.7M939.7 649.5h12.4M939.7 652.7h12.4M947.2 651.3V654.7M941 651.3h12.4M941 654.7h12.4M948.5 648.9V655M942.3 648.9h12.4M942.3 655h12.4M949.8 652.9V657.9M943.6 652.9h12.4M943.6 657.9h12.4M951.1 652.1V655.4M944.9 652.1h12.4M944.9 655.4h12.4M952.4 651.2V655.2M946.2 651.2h12.4M946.2 655.2h12.4M953.6 649.8V655.9M947.4 649.8h12.4M947.4 655.9h12.4M954.9 648.2V652.9M948.7 648.2h12.4M948.7 652.9h12.4M956.2 651.3V656.2M950 651.3h12.4M950 656.2h12.4M957.5 651.9V657.5M951.3 651.9h12.4M951.3 657.5h12.4M958.8 650V654.7M952.6 650h12.4M952.6 654.7h12.4M960.1 650.9V656.7M953.9 650.9h12.4M953.9 656.7h12.4M961.4 651.9V655.7M955.2 651.9h12.4M955.2 655.7h12.4M962.6 648.9V654.2M956.4 648.9h12.4M956.4 654.2h12.4M963.9 651.7V656.4M957.7 651.7h12.4M957.7 656.4h12.4M965.2 652.9V656M959 652.9h12.4M959 656h12.4M966.5 651.4V655.3M960.3 651.4h12.4M960.3 655.3h12.4M967.8 650V656.2M961.6 650h12.4M961.6 656.2h12.4" fill="none" stroke="#000" stroke-width="1"/>
<path d="M197 653.8L199.6 655L202.2 653.4L204.7 654.3L207.3 654.4L209.9 655.2L212.4 654.3L215 653.2L217.6 654.4L220.2 653.4L222.7 652.7L225.3 653.9L227.9 651.6L230.5 653L233 652L235.6 654.4L238.2 652.7L240.8 654.1L243.3 654L245.9 653.2L248.5 653.7L251 654.5L253.6 652.7L256.2 651.6L258.8 653.8L261.3 654.7L263.9 653.9L266.5 654.2L269.1 653.8L271.6 651.4L274.2 652.9L276.8 652.7L279.4 653.5L281.9 653.7L284.5 653.6L287.1 654.2L289.7 652.9L292.2 654.3L294.8 651.5L297.4 653.5L299.9 652L302.5 651.7L305.1 654.2L307.7 652.6L310.2 653.1L312.8 654.9L315.4 652.2L318 654.4L320.5 652L323.1 652.7L325.7 652L328.3 653L330.8 652.4L333.4 652.1L336 652.4L338.6 653.9L341.1 654.6L343.7 652L346.3 653.8L348.8 651.6L351.4 653L354 652.1L356.6 652.5L359.1 652.3L361.7 651.8L364.3 650.1L366.9 653L369.4 652.7L372 653.5L374.6 653.1L377.2 651.4L379.7 651.6L382.3 651.5L384.9 652.2L387.4 650L390 652.1L392.6 652.5L395.2 651.1L397.7 652.6L400.3 653.9L402.9 652.1L405.5 652.2L408 651.8L410.6 650L413.2 650.7L415.8 650.9L418.3 652.2L420.9 651.6L423.5 650.8L426.1 650.7L428.6 651.1L431.2 649.7L433.8 650.2L436.3 650.7L438.9 651.1L441.5 649.7L444.1 652L446.6 649.5L449.2 649L451.8 649L454.4 651L456.9 650.7L459.5 650.8L462.1 651.2L464.7 650.5L467.2 650.8L469.8 650.8L472.4 648.9L475 651.6L477.5 649.3L480.1 649.3L482.7 649.8L485.2 649.9L487.8 648.9L490.4 648L493 650.3L499.8 649.3M649.5 646.5L655.1 647.7L657.7 647.6L660.3 648.1L662.8 647.6L665.4 648.7L668 646.8L670.5 648.1L673.1 649.4L675.7 648.1L678.3 649.6L680.8 649.8L683.4 649.6L686 649.8L688.6 649.7L691.1 649.5L693.7 650.8L696.3 649.9L698.9 648.3L701.4 649.9L704 650.2L706.6 647.7L709.1 649.9L711.7 649.9L714.3 650.3L716.9 651L719.4 650.2L722 648.9L724.6 651.5L727.2 649.8L729.7 649.6L732.3 649.5L734.9 648.6L737.5 649.7L740 650.1L742.6 650.5L745.2 650.8L747.8 649.2L750.3 650.2L752.9 648.7L755.5 651.1L758 652.3L760.6 650.9L763.2 650L765.8 650.7L768.3 651.7L770.9 650.1L773.5 653.6L776.1 648.2L778.6 650.1L781.2 650.9L783.8 652L786.4 651.3L788.9 651.5L791.5 651.8L794.1 652.6L796.7 651.3L799.2 650.8L801.8 648.6L804.4 652L806.9 652.6L809.5 651.9L812.1 651.4L814.7 653.3L817.2 653.1L819.8 649.6L822.4 651.8L825 651.7L827.5 650.4L830.1 651.5L832.7 652.4L835.3 652.4L837.8 652.8L840.4 651.6L843 653.9L845.6 653.2L848.1 651.7L850.7 652.4L853.3 652.9L855.8 651.7L858.4 654L861 652.8L863.6 652.8L866.1 652.8L868.7 652.8L871.3 652.8L873.9 653L876.4 651.7L879 652.3L881.6 652.5L884.2 654L886.7 653.8L889.3 652.5L891.9 652.3L894.4 652.7L897 652.6L899.6 652.8L902.2 651.4L904.7 652.6L907.3 653.5L909.9 651.2L912.5 652.1L915 652.6L917.6 654.1L920.2 652.1L922.8 651.3L925.3 653.8L927.9 652.4L930.5 653.9L933.1 652.4L935.6 653.4L938.2 652.6L940.8 654.6L943.3 652.8L945.9 651.1L948.5 651.9L951.1 653.7L953.6 652.9L956.2 653.8L958.8 652.4L961.4 653.8L963.9 654.1L966.5 653.4" fill="none" stroke="#000" stroke-width="2.8" stroke-linejoin="round"/>
<path d="M499.8 649.3L495 648.9M510.2 640.5L502.2 645.3M523.8 633.8L516.6 635.4M528.6 620.5L531 627.7M540.6 605.3L534.2 611.4M545 577.3L543 590.9M545.1 558L547 564M547.9 543.6L547 554M596.5 534L597.5 547.6M597.8 566L599.1 578M600.2 595.7L602.6 605.4M604.6 610.2L608.4 613.2M612.3 611.4L614.7 617.9M620.6 632.3L623.8 627.8M627 627.8L631.8 636.6M637.9 629.4L639.8 641.4M550.4 512L549.4 525.5M552.4 481L551.7 494.5M553.5 450L553.1 463.5M554.2 419L553.9 432.5M554.8 388L554.5 401.5M555.6 357L555.2 370.5M556.4 326L556 339.5M557.1 295L556.8 308.5M557.8 264L557.5 277.5M558.4 233L558.1 246.5M559 202L558.7 215.5M559.6 171L559.3 184.5M560.3 140L560 153.5M560.9 109L560.6 122.5M561.3 78L561.1 91.5M561.7 47L561.5 60.5M562 16L561.9 29.5M596.6 503L596.7 516.5M596.4 472L596.5 485.5M596.1 441L596.2 454.5M595.7 410L595.9 423.5M595.4 379L595.5 392.5M595 348L595.2 361.5M594.6 317L594.7 330.5M594.3 286L594.4 299.5M594.1 255L594.2 268.5M593.9 224L594 237.5M593.8 193L593.8 206.5M593.6 162L593.7 175.5M593.5 131L593.6 144.5M593.4 100L593.5 113.5M593.3 69L593.3 82.5M593.1 38L593.2 51.5M593 7L593 20.5" fill="none" stroke="#000" stroke-width="2.9"/>
<path d="M197 649.5V654.4M190.8 649.5h12.4M190.8 654.4h12.4M198.3 650.2V655M192.1 650.2h12.4M192.1 655h12.4M199.6 647.8V652.7M193.4 647.8h12.4M193.4 652.7h12.4M200.9 649V653.8M194.7 649h12.4M194.7 653.8h12.4M202.2 648.5V653.4M196 648.5h12.4M196 653.4h12.4M203.4 647.6V652.6M197.2 647.6h12.4M197.2 652.6h12.4M204.7 649.3V654.2M198.5 649.3h12.4M198.5 654.2h12.4M206 648.3V653.2M199.8 648.3h12.4M199.8 653.2h12.4M207.3 646.8V651.7M201.1 646.8h12.4M201.1 651.7h12.4M208.6 649V654M202.4 649h12.4M202.4 654h12.4M209.9 647.3V652.2M203.7 647.3h12.4M203.7 652.2h12.4M211.2 648.9V653.9M205 648.9h12.4M205 653.9h12.4M212.4 645.7V650.7M206.2 645.7h12.4M206.2 650.7h12.4M213.7 647.4V652.3M207.5 647.4h12.4M207.5 652.3h12.4M215 646.3V651.2M208.8 646.3h12.4M208.8 651.2h12.4M216.3 646.2V651.2M210.1 646.2h12.4M210.1 651.2h12.4M217.6 645.1V650.1M211.4 645.1h12.4M211.4 650.1h12.4M218.9 649.6V654.6M212.7 649.6h12.4M212.7 654.6h12.4M220.2 646.9V652M214 646.9h12.4M214 652h12.4M221.5 647.3V652.3M215.3 647.3h12.4M215.3 652.3h12.4M222.7 649.6V654.7M216.5 649.6h12.4M216.5 654.7h12.4M224 646.8V651.8M217.8 646.8h12.4M217.8 651.8h12.4M225.3 647.5V652.5M219.1 647.5h12.4M219.1 652.5h12.4M226.6 645.3V650.3M220.4 645.3h12.4M220.4 650.3h12.4M227.9 647V652.1M221.7 647h12.4M221.7 652.1h12.4M229.2 646.3V651.3M223 646.3h12.4M223 651.3h12.4M230.5 647.3V652.3M224.3 647.3h12.4M224.3 652.3h12.4M231.7 646.8V651.9M225.5 646.8h12.4M225.5 651.9h12.4M233 645V650.1M226.8 645h12.4M226.8 650.1h12.4M234.3 644.4V649.5M228.1 644.4h12.4M228.1 649.5h12.4M235.6 645.3V650.4M229.4 645.3h12.4M229.4 650.4h12.4M236.9 647.3V652.4M230.7 647.3h12.4M230.7 652.4h12.4M238.2 646.9V652M232 646.9h12.4M232 652h12.4M239.5 646.8V651.9M233.3 646.8h12.4M233.3 651.9h12.4M240.8 643.9V649.1M234.6 643.9h12.4M234.6 649.1h12.4M242 643.1V648.2M235.8 643.1h12.4M235.8 648.2h12.4M243.3 645.4V650.6M237.1 645.4h12.4M237.1 650.6h12.4M244.6 645.3V650.5M238.4 645.3h12.4M238.4 650.5h12.4M245.9 645.3V650.5M239.7 645.3h12.4M239.7 650.5h12.4M247.2 646.4V651.6M241 646.4h12.4M241 651.6h12.4M248.5 645.7V650.9M242.3 645.7h12.4M242.3 650.9h12.4M249.8 644.5V649.7M243.6 644.5h12.4M243.6 649.7h12.4M251 644.8V650M244.8 644.8h12.4M244.8 650h12.4M252.3 645.9V651.1M246.1 645.9h12.4M246.1 651.1h12.4M253.6 645.8V651M247.4 645.8h12.4M247.4 651h12.4M254.9 645.5V650.8M248.7 645.5h12.4M248.7 650.8h12.4M256.2 648.2V653.5M250 648.2h12.4M250 653.5h12.4M257.5 645.2V650.4M251.3 645.2h12.4M251.3 650.4h12.4M258.8 645.6V650.8M252.6 645.6h12.4M252.6 650.8h12.4M260.1 644.2V649.5M253.9 644.2h12.4M253.9 649.5h12.4M261.3 644.9V650.1M255.1 644.9h12.4M255.1 650.1h12.4M262.6 645.9V651.1M256.4 645.9h12.4M256.4 651.1h12.4M263.9 645.8V651.1M257.7 645.8h12.4M257.7 651.1h12.4M265.2 644.9V650.2M259 644.9h12.4M259 650.2h12.4M266.5 645.5V650.8M260.3 645.5h12.4M260.3 650.8h12.4M267.8 645V650.3M261.6 645h12.4M261.6 650.3h12.4M269.1 642.6V648M262.9 642.6h12.4M262.9 648h12.4M270.4 636.6V641.9M264.2 636.6h12.4M264.2 641.9h12.4M271.6 647.5V652.9M265.4 647.5h12.4M265.4 652.9h12.4M272.9 645.7V651M266.7 645.7h12.4M266.7 651h12.4M274.2 644.5V649.9M268 644.5h12.4M268 649.9h12.4M275.5 642.4V647.8M269.3 642.4h12.4M269.3 647.8h12.4M276.8 642.9V648.3M270.6 642.9h12.4M270.6 648.3h12.4M278.1 646V651.4M271.9 646h12.4M271.9 651.4h12.4M279.4 640.9V646.3M273.2 640.9h12.4M273.2 646.3h12.4M280.6 643.8V649.2M274.4 643.8h12.4M274.4 649.2h12.4M281.9 645.2V650.6M275.7 645.2h12.4M275.7 650.6h12.4M283.2 644.3V649.7M277 644.3h12.4M277 649.7h12.4M284.5 644.9V650.4M278.3 644.9h12.4M278.3 650.4h12.4M285.8 643.8V649.2M279.6 643.8h12.4M279.6 649.2h12.4M287.1 646.8V652.2M280.9 646.8h12.4M280.9 652.2h12.4M288.4 642.5V648M282.2 642.5h12.4M282.2 648h12.4M289.7 642V647.5M283.5 642h12.4M283.5 647.5h12.4M290.9 644V649.4M284.7 644h12.4M284.7 649.4h12.4M292.2 645.3V650.8M286 645.3h12.4M286 650.8h12.4M293.5 643.4V648.9M287.3 643.4h12.4M287.3 648.9h12.4M294.8 644.7V650.2M288.6 644.7h12.4M288.6 650.2h12.4M296.1 642.6V648.2M289.9 642.6h12.4M289.9 648.2h12.4M297.4 641.7V647.3M291.2 641.7h12.4M291.2 647.3h12.4M298.7 644.9V650.4M292.5 644.9h12.4M292.5 650.4h12.4M299.9 645V650.6M293.7 645h12.4M293.7 650.6h12.4M301.2 644.9V650.5M295 644.9h12.4M295 650.5h12.4M302.5 642.3V647.9M296.3 642.3h12.4M296.3 647.9h12.4M303.8 639.7V645.3M297.6 639.7h12.4M297.6 645.3h12.4M305.1 641.2V646.8M298.9 641.2h12.4M298.9 646.8h12.4M306.4 642.3V648M300.2 642.3h12.4M300.2 648h12.4M307.7 643.3V648.9M301.5 643.3h12.4M301.5 648.9h12.4M309 643.1V648.7M302.8 643.1h12.4M302.8 648.7h12.4M310.2 640.6V646.2M304 640.6h12.4M304 646.2h12.4M311.5 642.5V648.2M305.3 642.5h12.4M305.3 648.2h12.4M312.8 642.2V647.9M306.6 642.2h12.4M306.6 647.9h12.4M314.1 642.2V647.9M307.9 642.2h12.4M307.9 647.9h12.4M315.4 642V647.7M309.2 642h12.4M309.2 647.7h12.4M316.7 641.7V647.4M310.5 641.7h12.4M310.5 647.4h12.4M318 642.6V648.3M311.8 642.6h12.4M311.8 648.3h12.4M319.2 641.9V647.7M313 641.9h12.4M313 647.7h12.4M320.5 642V647.7M314.3 642h12.4M314.3 647.7h12.4M321.8 639.7V645.5M315.6 639.7h12.4M315.6 645.5h12.4M323.1 642V647.8M316.9 642h12.4M316.9 647.8h12.4M324.4 641.3V647M318.2 641.3h12.4M318.2 647h12.4M325.7 638.6V644.4M319.5 638.6h12.4M319.5 644.4h12.4M327 641.9V647.7M320.8 641.9h12.4M320.8 647.7h12.4M328.3 640.8V646.6M322.1 640.8h12.4M322.1 646.6h12.4M329.5 642.3V648.1M323.3 642.3h12.4M323.3 648.1h12.4M330.8 640.8V646.6M324.6 640.8h12.4M324.6 646.6h12.4M332.1 640.8V646.6M325.9 640.8h12.4M325.9 646.6h12.4M333.4 641.1V646.9M327.2 641.1h12.4M327.2 646.9h12.4M334.7 640.7V646.6M328.5 640.7h12.4M328.5 646.6h12.4M336 639.4V645.2M329.8 639.4h12.4M329.8 645.2h12.4M337.3 635.5V641.4M331.1 635.5h12.4M331.1 641.4h12.4M338.6 642.9V648.8M332.4 642.9h12.4M332.4 648.8h12.4M339.8 638.2V644.1M333.6 638.2h12.4M333.6 644.1h12.4M341.1 639.8V645.7M334.9 639.8h12.4M334.9 645.7h12.4M342.4 641V646.9M336.2 641h12.4M336.2 646.9h12.4M343.7 640.5V646.5M337.5 640.5h12.4M337.5 646.5h12.4M345 640.7V646.7M338.8 640.7h12.4M338.8 646.7h12.4M346.3 640.9V646.8M340.1 640.9h12.4M340.1 646.8h12.4M347.6 641.4V647.4M341.4 641.4h12.4M341.4 647.4h12.4M348.8 640.1V646M342.6 640.1h12.4M342.6 646h12.4M350.1 643.5V649.5M343.9 643.5h12.4M343.9 649.5h12.4M351.4 638.1V644.1M345.2 638.1h12.4M345.2 644.1h12.4M352.7 639.7V645.7M346.5 639.7h12.4M346.5 645.7h12.4M354 638.8V644.8M347.8 638.8h12.4M347.8 644.8h12.4M355.3 638.4V644.5M349.1 638.4h12.4M349.1 644.5h12.4M356.6 639.5V645.5M350.4 639.5h12.4M350.4 645.5h12.4M357.9 643.2V649.2M351.7 643.2h12.4M351.7 649.2h12.4M359.1 637.9V644M352.9 637.9h12.4M352.9 644h12.4M360.4 637.8V643.9M354.2 637.8h12.4M354.2 643.9h12.4M361.7 639.7V645.8M355.5 639.7h12.4M355.5 645.8h12.4M363 639.4V645.5M356.8 639.4h12.4M356.8 645.5h12.4M364.3 641.2V647.4M358.1 641.2h12.4M358.1 647.4h12.4M365.6 639.9V646M359.4 639.9h12.4M359.4 646h12.4M366.9 638.7V644.8M360.7 638.7h12.4M360.7 644.8h12.4M368.1 637.8V644M361.9 637.8h12.4M361.9 644h12.4M369.4 638.5V644.6M363.2 638.5h12.4M363.2 644.6h12.4M370.7 637.9V644M364.5 637.9h12.4M364.5 644h12.4M372 636.1V642.3M365.8 636.1h12.4M365.8 642.3h12.4M373.3 638V644.1M367.1 638h12.4M367.1 644.1h12.4M374.6 637.6V643.8M368.4 637.6h12.4M368.4 643.8h12.4M375.9 637.5V643.7M369.7 637.5h12.4M369.7 643.7h12.4M377.2 636.5V642.7M371 636.5h12.4M371 642.7h12.4M378.4 640V646.2M372.2 640h12.4M372.2 646.2h12.4M379.7 638.5V644.8M373.5 638.5h12.4M373.5 644.8h12.4M381 638.8V645.1M374.8 638.8h12.4M374.8 645.1h12.4M382.3 636.6V642.8M376.1 636.6h12.4M376.1 642.8h12.4M383.6 634.3V640.6M377.4 634.3h12.4M377.4 640.6h12.4M384.9 636.9V643.2M378.7 636.9h12.4M378.7 643.2h12.4M386.2 637.6V643.8M380 637.6h12.4M380 643.8h12.4M387.4 636.7V642.9M381.2 636.7h12.4M381.2 642.9h12.4M388.7 636.8V643.1M382.5 636.8h12.4M382.5 643.1h12.4M390 638.4V644.7M383.8 638.4h12.4M383.8 644.7h12.4M391.3 637.4V643.7M385.1 637.4h12.4M385.1 643.7h12.4M392.6 635.5V641.8M386.4 635.5h12.4M386.4 641.8h12.4M393.9 636.2V642.5M387.7 636.2h12.4M387.7 642.5h12.4M395.2 634.8V641.1M389 634.8h12.4M389 641.1h12.4M396.5 636.9V643.3M390.3 636.9h12.4M390.3 643.3h12.4M397.7 635V641.3M391.5 635h12.4M391.5 641.3h12.4M399 636.3V642.7M392.8 636.3h12.4M392.8 642.7h12.4M400.3 637.5V643.8M394.1 637.5h12.4M394.1 643.8h12.4M401.6 636.5V642.8M395.4 636.5h12.4M395.4 642.8h12.4M402.9 635V641.4M396.7 635h12.4M396.7 641.4h12.4M404.2 635.4V641.8M398 635.4h12.4M398 641.8h12.4M405.5 636.4V642.8M399.3 636.4h12.4M399.3 642.8h12.4M406.8 636.9V643.3M400.6 636.9h12.4M400.6 643.3h12.4M408 637.3V643.7M401.8 637.3h12.4M401.8 643.7h12.4M409.3 635.8V642.2M403.1 635.8h12.4M403.1 642.2h12.4M410.6 634.1V640.5M404.4 634.1h12.4M404.4 640.5h12.4M411.9 638V644.4M405.7 638h12.4M405.7 644.4h12.4M413.2 636.7V643.2M407 636.7h12.4M407 643.2h12.4M414.5 636.4V642.8M408.3 636.4h12.4M408.3 642.8h12.4M415.8 636.1V642.6M409.6 636.1h12.4M409.6 642.6h12.4M417 634.1V640.6M410.8 634.1h12.4M410.8 640.6h12.4M418.3 635.1V641.6M412.1 635.1h12.4M412.1 641.6h12.4M419.6 635.9V642.4M413.4 635.9h12.4M413.4 642.4h12.4M420.9 637V643.4M414.7 637h12.4M414.7 643.4h12.4M422.2 635.6V642.1M416 635.6h12.4M416 642.1h12.4M423.5 630.8V637.3M417.3 630.8h12.4M417.3 637.3h12.4M424.8 634.9V641.4M418.6 634.9h12.4M418.6 641.4h12.4M426.1 635.7V642.2M419.9 635.7h12.4M419.9 642.2h12.4M427.3 637.1V643.6M421.1 637.1h12.4M421.1 643.6h12.4M428.6 637.3V643.8M422.4 637.3h12.4M422.4 643.8h12.4M429.9 638.7V645.2M423.7 638.7h12.4M423.7 645.2h12.4M431.2 637.1V643.6M425 637.1h12.4M425 643.6h12.4M432.5 636.9V643.4M426.3 636.9h12.4M426.3 643.4h12.4M433.8 636.2V642.8M427.6 636.2h12.4M427.6 642.8h12.4M435.1 632.7V639.3M428.9 632.7h12.4M428.9 639.3h12.4M436.3 636V642.5M430.1 636h12.4M430.1 642.5h12.4M437.6 635.5V642.1M431.4 635.5h12.4M431.4 642.1h12.4M438.9 633.8V640.4M432.7 633.8h12.4M432.7 640.4h12.4M440.2 635.3V641.9M434 635.3h12.4M434 641.9h12.4M441.5 635V641.6M435.3 635h12.4M435.3 641.6h12.4M442.8 633.6V640.2M436.6 633.6h12.4M436.6 640.2h12.4M444.1 634V640.7M437.9 634h12.4M437.9 640.7h12.4M445.4 633.7V640.4M439.2 633.7h12.4M439.2 640.4h12.4M446.6 634.4V641M440.4 634.4h12.4M440.4 641h12.4M447.9 633.3V639.9M441.7 633.3h12.4M441.7 639.9h12.4M449.2 634.6V641.3M443 634.6h12.4M443 641.3h12.4M450.5 630.8V637.5M444.3 630.8h12.4M444.3 637.5h12.4M451.8 633.2V639.9M445.6 633.2h12.4M445.6 639.9h12.4M453.1 630.9V637.6M446.9 630.9h12.4M446.9 637.6h12.4M454.4 632.6V639.3M448.2 632.6h12.4M448.2 639.3h12.4M455.7 634V640.7M449.5 634h12.4M449.5 640.7h12.4M456.9 633.1V639.8M450.7 633.1h12.4M450.7 639.8h12.4M458.2 632.8V639.5M452 632.8h12.4M452 639.5h12.4M459.5 632.9V639.6M453.3 632.9h12.4M453.3 639.6h12.4M460.8 635V641.8M454.6 635h12.4M454.6 641.8h12.4M462.1 630.8V637.6M455.9 630.8h12.4M455.9 637.6h12.4M463.4 633.6V640.5M457.2 633.6h12.4M457.2 640.5h12.4M464.7 629.8V636.6M458.5 629.8h12.4M458.5 636.6h12.4M465.9 631.2V638M459.7 631.2h12.4M459.7 638h12.4M467.2 631.9V638.8M461 631.9h12.4M461 638.8h12.4M468.5 630.1V637M462.3 630.1h12.4M462.3 637h12.4M469.8 631.5V638.5M463.6 631.5h12.4M463.6 638.5h12.4M471.1 632.1V639.1M464.9 632.1h12.4M464.9 639.1h12.4M472.4 628.8V635.8M466.2 628.8h12.4M466.2 635.8h12.4M473.7 630.3V637.3M467.5 630.3h12.4M467.5 637.3h12.4M475 629.5V636.6M468.8 629.5h12.4M468.8 636.6h12.4M476.2 626.8V633.8M470 626.8h12.4M470 633.8h12.4M477.5 629.2V636.3M471.3 629.2h12.4M471.3 636.3h12.4M478.8 626.5V633.7M472.6 626.5h12.4M472.6 633.7h12.4M480.1 631.1V638.2M473.9 631.1h12.4M473.9 638.2h12.4M481.4 627.1V634.3M475.2 627.1h12.4M475.2 634.3h12.4M482.7 631V638.2M476.5 631h12.4M476.5 638.2h12.4M484 627V634.3M477.8 627h12.4M477.8 634.3h12.4M485.2 630.7V638M479 630.7h12.4M479 638h12.4M486.5 628V635.3M480.3 628h12.4M480.3 635.3h12.4M487.8 627.4V634.8M481.6 627.4h12.4M481.6 634.8h12.4M489.1 627.6V635M482.9 627.6h12.4M482.9 635h12.4M490.4 627.3V634.8M484.2 627.3h12.4M484.2 634.8h12.4M491.7 627.7V635.2M485.5 627.7h12.4M485.5 635.2h12.4M493 627.7V635.3M486.8 627.7h12.4M486.8 635.3h12.4M494.3 623.6V631.3M488.1 623.6h12.4M488.1 631.3h12.4M495.5 621.4V629.1M489.3 621.4h12.4M489.3 629.1h12.4M496.8 618.2V626M490.6 618.2h12.4M490.6 626h12.4M498.1 621.5V629.3M491.9 621.5h12.4M491.9 629.3h12.4M499.4 624.1V632.1M493.2 624.1h12.4M493.2 632.1h12.4M500.7 621.1V629.1M494.5 621.1h12.4M494.5 629.1h12.4M502 619.6V627.7M495.8 619.6h12.4M495.8 627.7h12.4M503.3 617.7V625.9M497.1 617.7h12.4M497.1 625.9h12.4M504.5 616V624.3M498.3 616h12.4M498.3 624.3h12.4M505.8 615.4V623.8M499.6 615.4h12.4M499.6 623.8h12.4M507.1 615.2V623.7M500.9 615.2h12.4M500.9 623.7h12.4M508.4 609.2V617.9M502.2 609.2h12.4M502.2 617.9h12.4M509.7 612.4V621.2M503.5 612.4h12.4M503.5 621.2h12.4M511 605.9V614.9M504.8 605.9h12.4M504.8 614.9h12.4M512.3 606.7V615.8M506.1 606.7h12.4M506.1 615.8h12.4M513.6 603.7V613M507.4 603.7h12.4M507.4 613h12.4M514.8 602.5V611.9M508.6 602.5h12.4M508.6 611.9h12.4M516.1 599.3V608.8M509.9 599.3h12.4M509.9 608.8h12.4M517.4 597.6V607.2M511.2 597.6h12.4M511.2 607.2h12.4M518.7 598.5V608.2M512.5 598.5h12.4M512.5 608.2h12.4M520 595.1V605M513.8 595.1h12.4M513.8 605h12.4M521.3 602.9V612.8M515.1 602.9h12.4M515.1 612.8h12.4M522.6 594.4V604.4M516.4 594.4h12.4M516.4 604.4h12.4M523.9 592.5V602.6M517.7 592.5h12.4M517.7 602.6h12.4M525.1 591.3V601.6M518.9 591.3h12.4M518.9 601.6h12.4M526.4 588.3V598.7M520.2 588.3h12.4M520.2 598.7h12.4M527.7 582.6V593.1M521.5 582.6h12.4M521.5 593.1h12.4M529 587V597.6M522.8 587h12.4M522.8 597.6h12.4M530.3 586.6V597.4M524.1 586.6h12.4M524.1 597.4h12.4M531.6 578.9V589.8M525.4 578.9h12.4M525.4 589.8h12.4M532.9 580.8V591.8M526.7 580.8h12.4M526.7 591.8h12.4M534.1 573.4V584.7M527.9 573.4h12.4M527.9 584.7h12.4M535.4 571.9V583.5M529.2 571.9h12.4M529.2 583.5h12.4M536.7 565.7V577.8M530.5 565.7h12.4M530.5 577.8h12.4M538 558.6V571.2M531.8 558.6h12.4M531.8 571.2h12.4M539.3 552.7V565.7M533.1 552.7h12.4M533.1 565.7h12.4M540.6 542.2V555.5M534.4 542.2h12.4M534.4 555.5h12.4M541.9 542.3V556M535.7 542.3h12.4M535.7 556h12.4M543.2 526.4V540.5M537 526.4h12.4M537 540.5h12.4M544.4 520.2V534.9M538.2 520.2h12.4M538.2 534.9h12.4M545.7 515.1V530.4M539.5 515.1h12.4M539.5 530.4h12.4M547 489V505M540.8 489h12.4M540.8 505h12.4M548.3 464.3V481.2M542.1 464.3h12.4M542.1 481.2h12.4M549.6 456.7V474.4M543.4 456.7h12.4M543.4 474.4h12.4M550.9 419.7V438.5M544.7 419.7h12.4M544.7 438.5h12.4M552.2 392V411.9M546 392h12.4M546 411.9h12.4M553.4 356.2V377.3M547.2 356.2h12.4M547.2 377.3h12.4M554.7 337.8V360.2M548.5 337.8h12.4M548.5 360.2h12.4M556 283.6V307.4M549.8 283.6h12.4M549.8 307.4h12.4M557.3 182.9V209.1M551.1 182.9h12.4M551.1 209.1h12.4M558.6 153.7V181.6M552.4 153.7h12.4M552.4 181.6h12.4M559.9 142V171.3M553.7 142h12.4M553.7 171.3h12.4M561.2 7.2V39.2M555 7.2h12.4M555 39.2h12.4M594.6 196.2V222.9M588.4 196.2h12.4M588.4 222.9h12.4M595.9 334.9V356.9M589.7 334.9h12.4M589.7 356.9h12.4M597.2 400.4V420.4M591 400.4h12.4M591 420.4h12.4M598.5 419.1V437.9M592.3 419.1h12.4M592.3 437.9h12.4M599.8 449.5V467.2M593.6 449.5h12.4M593.6 467.2h12.4M601.1 468.3V485.3M594.9 468.3h12.4M594.9 485.3h12.4M602.3 478.3V494.7M596.1 478.3h12.4M596.1 494.7h12.4M603.6 478.2V494.2M597.4 478.2h12.4M597.4 494.2h12.4M604.9 495.6V511.2M598.7 495.6h12.4M598.7 511.2h12.4M606.2 510.7V525.9M600 510.7h12.4M600 525.9h12.4M607.5 515.6V530.4M601.3 515.6h12.4M601.3 530.4h12.4M608.8 520.3V534.7M602.6 520.3h12.4M602.6 534.7h12.4M610.1 530.4V544.5M603.9 530.4h12.4M603.9 544.5h12.4M611.4 536.9V550.7M605.2 536.9h12.4M605.2 550.7h12.4M612.6 542.7V556.3M606.4 542.7h12.4M606.4 556.3h12.4M613.9 540.2V553.6M607.7 540.2h12.4M607.7 553.6h12.4M615.2 549.9V562.9M609 549.9h12.4M609 562.9h12.4M616.5 555.4V568M610.3 555.4h12.4M610.3 568h12.4M617.8 560.2V572.4M611.6 560.2h12.4M611.6 572.4h12.4M619.1 557.8V569.7M612.9 557.8h12.4M612.9 569.7h12.4M620.4 572.8V584.3M614.2 572.8h12.4M614.2 584.3h12.4M621.6 573.5V584.8M615.4 573.5h12.4M615.4 584.8h12.4M622.9 586V597.2M616.7 586h12.4M616.7 597.2h12.4M624.2 581.4V592.4M618 581.4h12.4M618 592.4h12.4M625.5 583.3V594.1M619.3 583.3h12.4M619.3 594.1h12.4M626.8 585V595.7M620.6 585h12.4M620.6 595.7h12.4M628.1 593.7V604.3M621.9 593.7h12.4M621.9 604.3h12.4M629.4 588.1V598.5M623.2 588.1h12.4M623.2 598.5h12.4M630.7 592.5V602.7M624.5 592.5h12.4M624.5 602.7h12.4M631.9 593.1V603.2M625.7 593.1h12.4M625.7 603.2h12.4M633.2 596.9V606.8M627 596.9h12.4M627 606.8h12.4M634.5 599.1V608.8M628.3 599.1h12.4M628.3 608.8h12.4M635.8 603.6V613.2M629.6 603.6h12.4M629.6 613.2h12.4M637.1 599.4V608.9M630.9 599.4h12.4M630.9 608.9h12.4M638.4 604.2V613.6M632.2 604.2h12.4M632.2 613.6h12.4M639.7 609.3V618.5M633.5 609.3h12.4M633.5 618.5h12.4M640.9 605.9V615M634.7 605.9h12.4M634.7 615h12.4M642.2 607.8V616.8M636 607.8h12.4M636 616.8h12.4M643.5 607.3V616.3M637.3 607.3h12.4M637.3 616.3h12.4M644.8 604.8V613.7M638.6 604.8h12.4M638.6 613.7h12.4M646.1 611V619.8M639.9 611h12.4M639.9 619.8h12.4M647.4 617V625.7M641.2 617h12.4M641.2 625.7h12.4M648.7 612.1V620.7M642.5 612.1h12.4M642.5 620.7h12.4M650 610.3V618.9M643.8 610.3h12.4M643.8 618.9h12.4M651.2 615.3V623.8M645 615.3h12.4M645 623.8h12.4M652.5 615.9V624.3M646.3 615.9h12.4M646.3 624.3h12.4M653.8 618.6V626.9M647.6 618.6h12.4M647.6 626.9h12.4M655.1 621.2V629.4M648.9 621.2h12.4M648.9 629.4h12.4M656.4 618.2V626.3M650.2 618.2h12.4M650.2 626.3h12.4M657.7 620.4V628.4M651.5 620.4h12.4M651.5 628.4h12.4M659 617.4V625.3M652.8 617.4h12.4M652.8 625.3h12.4M660.3 623.5V631.3M654.1 623.5h12.4M654.1 631.3h12.4M661.5 622.6V630.4M655.3 622.6h12.4M655.3 630.4h12.4M662.8 624.9V632.6M656.6 624.9h12.4M656.6 632.6h12.4M664.1 625.4V633.1M657.9 625.4h12.4M657.9 633.1h12.4M665.4 623.6V631.2M659.2 623.6h12.4M659.2 631.2h12.4M666.7 624.3V631.9M660.5 624.3h12.4M660.5 631.9h12.4M668 623.4V631M661.8 623.4h12.4M661.8 631h12.4M669.3 621.8V629.3M663.1 621.8h12.4M663.1 629.3h12.4M670.5 625.4V632.9M664.3 625.4h12.4M664.3 632.9h12.4M671.8 626.3V633.7M665.6 626.3h12.4M665.6 633.7h12.4M673.1 624.5V631.9M666.9 624.5h12.4M666.9 631.9h12.4M674.4 627.8V635.2M668.2 627.8h12.4M668.2 635.2h12.4M675.7 627.1V634.4M669.5 627.1h12.4M669.5 634.4h12.4M677 627.9V635.3M670.8 627.9h12.4M670.8 635.3h12.4M678.3 626.2V633.5M672.1 626.2h12.4M672.1 633.5h12.4M679.6 624.8V632.1M673.4 624.8h12.4M673.4 632.1h12.4M680.8 629.2V636.5M674.6 629.2h12.4M674.6 636.5h12.4M682.1 629.1V636.4M675.9 629.1h12.4M675.9 636.4h12.4M683.4 628.2V635.4M677.2 628.2h12.4M677.2 635.4h12.4M684.7 627.9V635.1M678.5 627.9h12.4M678.5 635.1h12.4M686 628.3V635.5M679.8 628.3h12.4M679.8 635.5h12.4M687.3 628.8V635.9M681.1 628.8h12.4M681.1 635.9h12.4M688.6 628.4V635.5M682.4 628.4h12.4M682.4 635.5h12.4M689.8 626.2V633.3M683.6 626.2h12.4M683.6 633.3h12.4M691.1 630.8V637.9M684.9 630.8h12.4M684.9 637.9h12.4M692.4 624.8V631.8M686.2 624.8h12.4M686.2 631.8h12.4M693.7 629.4V636.5M687.5 629.4h12.4M687.5 636.5h12.4M695 629.7V636.7M688.8 629.7h12.4M688.8 636.7h12.4M696.3 630.7V637.8M690.1 630.7h12.4M690.1 637.8h12.4M697.6 628V635M691.4 628h12.4M691.4 635h12.4M698.9 632.6V639.6M692.7 632.6h12.4M692.7 639.6h12.4M700.1 631.9V638.8M693.9 631.9h12.4M693.9 638.8h12.4M701.4 632.2V639.2M695.2 632.2h12.4M695.2 639.2h12.4M702.7 633.1V640.1M696.5 633.1h12.4M696.5 640.1h12.4M704 630.1V637M697.8 630.1h12.4M697.8 637h12.4M705.3 621.2V628.1M699.1 621.2h12.4M699.1 628.1h12.4M706.6 632.1V639M700.4 632.1h12.4M700.4 639h12.4M707.9 636V642.9M701.7 636h12.4M701.7 642.9h12.4M709.1 633.7V640.6M702.9 633.7h12.4M702.9 640.6h12.4M710.4 631.2V638.1M704.2 631.2h12.4M704.2 638.1h12.4M711.7 632V638.9M705.5 632h12.4M705.5 638.9h12.4M713 632.7V639.6M706.8 632.7h12.4M706.8 639.6h12.4M714.3 629.7V636.5M708.1 629.7h12.4M708.1 636.5h12.4M715.6 631.5V638.3M709.4 631.5h12.4M709.4 638.3h12.4M716.9 631.7V638.5M710.7 631.7h12.4M710.7 638.5h12.4M718.2 635.2V642M712 635.2h12.4M712 642h12.4M719.4 631.9V638.7M713.2 631.9h12.4M713.2 638.7h12.4M720.7 635.4V642.2M714.5 635.4h12.4M714.5 642.2h12.4M722 633.2V639.9M715.8 633.2h12.4M715.8 639.9h12.4M723.3 630.7V637.4M717.1 630.7h12.4M717.1 637.4h12.4M724.6 636.7V643.4M718.4 636.7h12.4M718.4 643.4h12.4M725.9 632V638.7M719.7 632h12.4M719.7 638.7h12.4M727.2 634.5V641.2M721 634.5h12.4M721 641.2h12.4M728.5 636.3V642.9M722.3 636.3h12.4M722.3 642.9h12.4M729.7 633V639.7M723.5 633h12.4M723.5 639.7h12.4M731 632.1V638.7M724.8 632.1h12.4M724.8 638.7h12.4M732.3 637.3V643.9M726.1 637.3h12.4M726.1 643.9h12.4M733.6 634.2V640.8M727.4 634.2h12.4M727.4 640.8h12.4M734.9 632.4V639M728.7 632.4h12.4M728.7 639h12.4M736.2 632.7V639.3M730 632.7h12.4M730 639.3h12.4M737.5 633.8V640.4M731.3 633.8h12.4M731.3 640.4h12.4M738.7 635.9V642.5M732.5 635.9h12.4M732.5 642.5h12.4M740 634.1V640.7M733.8 634.1h12.4M733.8 640.7h12.4M741.3 635.6V642.2M735.1 635.6h12.4M735.1 642.2h12.4M742.6 637.2V643.7M736.4 637.2h12.4M736.4 643.7h12.4M743.9 636.7V643.2M737.7 636.7h12.4M737.7 643.2h12.4M745.2 637V643.6M739 637h12.4M739 643.6h12.4M746.5 636.8V643.3M740.3 636.8h12.4M740.3 643.3h12.4M747.8 630.1V636.7M741.6 630.1h12.4M741.6 636.7h12.4M749 637V643.5M742.8 637h12.4M742.8 643.5h12.4M750.3 636.3V642.8M744.1 636.3h12.4M744.1 642.8h12.4M751.6 635.2V641.7M745.4 635.2h12.4M745.4 641.7h12.4M752.9 633.9V640.3M746.7 633.9h12.4M746.7 640.3h12.4M754.2 633.2V639.7M748 633.2h12.4M748 639.7h12.4M755.5 632.2V638.7M749.3 632.2h12.4M749.3 638.7h12.4M756.8 635.6V642.1M750.6 635.6h12.4M750.6 642.1h12.4M758 634.1V640.5M751.8 634.1h12.4M751.8 640.5h12.4M759.3 634.7V641.1M753.1 634.7h12.4M753.1 641.1h12.4M760.6 634V640.5M754.4 634h12.4M754.4 640.5h12.4M761.9 638V644.4M755.7 638h12.4M755.7 644.4h12.4M763.2 635.6V642.1M757 635.6h12.4M757 642.1h12.4M764.5 635.9V642.3M758.3 635.9h12.4M758.3 642.3h12.4M765.8 638.1V644.5M759.6 638.1h12.4M759.6 644.5h12.4M767.1 635.8V642.2M760.9 635.8h12.4M760.9 642.2h12.4M768.3 637.2V643.6M762.1 637.2h12.4M762.1 643.6h12.4M769.6 634.9V641.3M763.4 634.9h12.4M763.4 641.3h12.4M770.9 637V643.3M764.7 637h12.4M764.7 643.3h12.4M772.2 636.8V643.1M766 636.8h12.4M766 643.1h12.4M773.5 636.9V643.3M767.3 636.9h12.4M767.3 643.3h12.4M774.8 636.1V642.4M768.6 636.1h12.4M768.6 642.4h12.4M776.1 635.4V641.7M769.9 635.4h12.4M769.9 641.7h12.4M777.4 636.5V642.8M771.2 636.5h12.4M771.2 642.8h12.4M778.6 636.3V642.6M772.4 636.3h12.4M772.4 642.6h12.4M779.9 638.5V644.8M773.7 638.5h12.4M773.7 644.8h12.4M781.2 639.8V646.1M775 639.8h12.4M775 646.1h12.4M782.5 635.5V641.8M776.3 635.5h12.4M776.3 641.8h12.4M783.8 639.1V645.4M777.6 639.1h12.4M777.6 645.4h12.4M785.1 636.7V643M778.9 636.7h12.4M778.9 643h12.4M786.4 638.1V644.3M780.2 638.1h12.4M780.2 644.3h12.4M787.6 636.9V643.1M781.4 636.9h12.4M781.4 643.1h12.4M788.9 635.6V641.8M782.7 635.6h12.4M782.7 641.8h12.4M790.2 639.1V645.4M784 639.1h12.4M784 645.4h12.4M791.5 638.4V644.6M785.3 638.4h12.4M785.3 644.6h12.4M792.8 636.2V642.4M786.6 636.2h12.4M786.6 642.4h12.4M794.1 635.4V641.5M787.9 635.4h12.4M787.9 641.5h12.4M795.4 637.3V643.5M789.2 637.3h12.4M789.2 643.5h12.4M796.7 636.5V642.7M790.5 636.5h12.4M790.5 642.7h12.4M797.9 637.8V643.9M791.7 637.8h12.4M791.7 643.9h12.4M799.2 639.2V645.3M793 639.2h12.4M793 645.3h12.4M800.5 640.5V646.6M794.3 640.5h12.4M794.3 646.6h12.4M801.8 638V644.2M795.6 638h12.4M795.6 644.2h12.4M803.1 640.5V646.6M796.9 640.5h12.4M796.9 646.6h12.4M804.4 640.3V646.4M798.2 640.3h12.4M798.2 646.4h12.4M805.7 638.2V644.3M799.5 638.2h12.4M799.5 644.3h12.4M806.9 636.6V642.7M800.7 636.6h12.4M800.7 642.7h12.4M808.2 640.1V646.2M802 640.1h12.4M802 646.2h12.4M809.5 639.9V645.9M803.3 639.9h12.4M803.3 645.9h12.4M810.8 642.3V648.4M804.6 642.3h12.4M804.6 648.4h12.4M812.1 641.2V647.2M805.9 641.2h12.4M805.9 647.2h12.4M813.4 640.4V646.4M807.2 640.4h12.4M807.2 646.4h12.4M814.7 641.7V647.7M808.5 641.7h12.4M808.5 647.7h12.4M816 638.1V644.1M809.8 638.1h12.4M809.8 644.1h12.4M817.2 639.8V645.8M811 639.8h12.4M811 645.8h12.4M818.5 639.3V645.2M812.3 639.3h12.4M812.3 645.2h12.4M819.8 642V648M813.6 642h12.4M813.6 648h12.4M821.1 640.5V646.5M814.9 640.5h12.4M814.9 646.5h12.4M822.4 635.7V641.7M816.2 635.7h12.4M816.2 641.7h12.4M823.7 641.7V647.7M817.5 641.7h12.4M817.5 647.7h12.4M825 637.4V643.4M818.8 637.4h12.4M818.8 643.4h12.4M826.2 641.1V647M820 641.1h12.4M820 647h12.4M827.5 639.5V645.4M821.3 639.5h12.4M821.3 645.4h12.4M828.8 640.5V646.4M822.6 640.5h12.4M822.6 646.4h12.4M830.1 641.1V647M823.9 641.1h12.4M823.9 647h12.4M831.4 640.5V646.5M825.2 640.5h12.4M825.2 646.5h12.4M832.7 639.1V645M826.5 639.1h12.4M826.5 645h12.4M834 642.2V648.1M827.8 642.2h12.4M827.8 648.1h12.4M835.3 641V646.9M829.1 641h12.4M829.1 646.9h12.4M836.5 640.5V646.3M830.3 640.5h12.4M830.3 646.3h12.4M837.8 642.5V648.4M831.6 642.5h12.4M831.6 648.4h12.4M839.1 639.8V645.7M832.9 639.8h12.4M832.9 645.7h12.4M840.4 643.1V649M834.2 643.1h12.4M834.2 649h12.4M841.7 640.9V646.8M835.5 640.9h12.4M835.5 646.8h12.4M843 641.1V647M836.8 641.1h12.4M836.8 647h12.4M844.3 641.1V647M838.1 641.1h12.4M838.1 647h12.4M845.6 639.5V645.4M839.4 639.5h12.4M839.4 645.4h12.4M846.8 639.2V645.1M840.6 639.2h12.4M840.6 645.1h12.4M848.1 641.4V647.3M841.9 641.4h12.4M841.9 647.3h12.4M849.4 641.3V647.1M843.2 641.3h12.4M843.2 647.1h12.4M850.7 642.6V648.4M844.5 642.6h12.4M844.5 648.4h12.4M852 641.4V647.3M845.8 641.4h12.4M845.8 647.3h12.4M853.3 639.4V645.3M847.1 639.4h12.4M847.1 645.3h12.4M854.6 641.6V647.4M848.4 641.6h12.4M848.4 647.4h12.4M855.8 642V647.8M849.6 642h12.4M849.6 647.8h12.4M857.1 642.3V648.1M850.9 642.3h12.4M850.9 648.1h12.4M858.4 641.4V647.2M852.2 641.4h12.4M852.2 647.2h12.4M859.7 639.4V645.2M853.5 639.4h12.4M853.5 645.2h12.4M861 642.5V648.4M854.8 642.5h12.4M854.8 648.4h12.4M862.3 640.1V645.9M856.1 640.1h12.4M856.1 645.9h12.4M863.6 641.8V647.6M857.4 641.8h12.4M857.4 647.6h12.4M864.9 639V644.8M858.7 639h12.4M858.7 644.8h12.4M866.1 642.1V647.9M859.9 642.1h12.4M859.9 647.9h12.4M867.4 640.1V645.9M861.2 640.1h12.4M861.2 645.9h12.4M868.7 642.5V648.4M862.5 642.5h12.4M862.5 648.4h12.4M870 643.5V649.3M863.8 643.5h12.4M863.8 649.3h12.4M871.3 642.7V648.5M865.1 642.7h12.4M865.1 648.5h12.4M872.6 639.7V645.5M866.4 639.7h12.4M866.4 645.5h12.4M873.9 640V645.8M867.7 640h12.4M867.7 645.8h12.4M875.1 640.1V645.9M868.9 640.1h12.4M868.9 645.9h12.4M876.4 642.1V647.9M870.2 642.1h12.4M870.2 647.9h12.4M877.7 642.2V648M871.5 642.2h12.4M871.5 648h12.4M879 641.5V647.3M872.8 641.5h12.4M872.8 647.3h12.4M880.3 641.7V647.5M874.1 641.7h12.4M874.1 647.5h12.4M881.6 642.1V647.8M875.4 642.1h12.4M875.4 647.8h12.4M882.9 642.2V648M876.7 642.2h12.4M876.7 648h12.4M884.2 643.5V649.3M878 643.5h12.4M878 649.3h12.4M885.4 641.3V647.1M879.2 641.3h12.4M879.2 647.1h12.4M886.7 641.6V647.4M880.5 641.6h12.4M880.5 647.4h12.4M888 639V644.8M881.8 639h12.4M881.8 644.8h12.4M889.3 639.7V645.5M883.1 639.7h12.4M883.1 645.5h12.4M890.6 640.5V646.3M884.4 640.5h12.4M884.4 646.3h12.4M891.9 639.9V645.7M885.7 639.9h12.4M885.7 645.7h12.4M893.2 641.7V647.5M887 641.7h12.4M887 647.5h12.4M894.4 642.8V648.6M888.2 642.8h12.4M888.2 648.6h12.4M895.7 640.9V646.7M889.5 640.9h12.4M889.5 646.7h12.4M897 640.9V646.6M890.8 640.9h12.4M890.8 646.6h12.4M898.3 640.9V646.6M892.1 640.9h12.4M892.1 646.6h12.4M899.6 641.7V647.5M893.4 641.7h12.4M893.4 647.5h12.4M900.9 640.9V646.6M894.7 640.9h12.4M894.7 646.6h12.4M902.2 642.2V647.9M896 642.2h12.4M896 647.9h12.4M903.5 642V647.8M897.3 642h12.4M897.3 647.8h12.4M904.7 642.1V647.8M898.5 642.1h12.4M898.5 647.8h12.4M906 642.7V648.4M899.8 642.7h12.4M899.8 648.4h12.4M907.3 641.7V647.5M901.1 641.7h12.4M901.1 647.5h12.4M908.6 641.9V647.6M902.4 641.9h12.4M902.4 647.6h12.4M909.9 644V649.7M903.7 644h12.4M903.7 649.7h12.4M911.2 641.7V647.4M905 641.7h12.4M905 647.4h12.4M912.5 642.8V648.6M906.3 642.8h12.4M906.3 648.6h12.4M913.8 641.9V647.6M907.6 641.9h12.4M907.6 647.6h12.4M915 641.3V647M908.8 641.3h12.4M908.8 647h12.4M916.3 641.3V647M910.1 641.3h12.4M910.1 647h12.4M917.6 640.9V646.6M911.4 640.9h12.4M911.4 646.6h12.4M918.9 642V647.7M912.7 642h12.4M912.7 647.7h12.4M920.2 641.2V646.9M914 641.2h12.4M914 646.9h12.4M921.5 641.5V647.2M915.3 641.5h12.4M915.3 647.2h12.4M922.8 643.6V649.3M916.6 643.6h12.4M916.6 649.3h12.4M924 641.9V647.6M917.8 641.9h12.4M917.8 647.6h12.4M925.3 643.5V649.2M919.1 643.5h12.4M919.1 649.2h12.4M926.6 642.5V648.1M920.4 642.5h12.4M920.4 648.1h12.4M927.9 643.2V648.9M921.7 643.2h12.4M921.7 648.9h12.4M929.2 641.4V647.1M923 641.4h12.4M923 647.1h12.4M930.5 642.4V648.1M924.3 642.4h12.4M924.3 648.1h12.4M931.8 645.6V651.3M925.6 645.6h12.4M925.6 651.3h12.4M933.1 643.3V649M926.9 643.3h12.4M926.9 649h12.4M934.3 645V650.6M928.1 645h12.4M928.1 650.6h12.4M935.6 642.6V648.3M929.4 642.6h12.4M929.4 648.3h12.4M936.9 643.4V649.1M930.7 643.4h12.4M930.7 649.1h12.4M938.2 640.9V646.6M932 640.9h12.4M932 646.6h12.4M939.5 641.3V647M933.3 641.3h12.4M933.3 647h12.4M940.8 643V648.6M934.6 643h12.4M934.6 648.6h12.4M942.1 643.5V649.1M935.9 643.5h12.4M935.9 649.1h12.4M943.3 642V647.6M937.1 642h12.4M937.1 647.6h12.4M944.6 642V647.6M938.4 642h12.4M938.4 647.6h12.4M945.9 642.1V647.7M939.7 642.1h12.4M939.7 647.7h12.4M947.2 642.3V648M941 642.3h12.4M941 648h12.4M948.5 641.1V646.7M942.3 641.1h12.4M942.3 646.7h12.4M949.8 640.8V646.4M943.6 640.8h12.4M943.6 646.4h12.4M951.1 642.6V648.2M944.9 642.6h12.4M944.9 648.2h12.4M952.4 640.5V646.1M946.2 640.5h12.4M946.2 646.1h12.4M953.6 641.5V647.1M947.4 641.5h12.4M947.4 647.1h12.4M954.9 641.9V647.5M948.7 641.9h12.4M948.7 647.5h12.4M956.2 641.4V647M950 641.4h12.4M950 647h12.4M957.5 643.1V648.7M951.3 643.1h12.4M951.3 648.7h12.4M958.8 642.3V647.8M952.6 642.3h12.4M952.6 647.8h12.4M960.1 642.7V648.3M953.9 642.7h12.4M953.9 648.3h12.4M961.4 641.6V647.2M955.2 641.6h12.4M955.2 647.2h12.4M962.6 640.9V646.5M956.4 640.9h12.4M956.4 646.5h12.4M963.9 643.6V649.1M957.7 643.6h12.4M957.7 649.1h12.4M965.2 643.4V649M959 643.4h12.4M959 649h12.4M966.5 642.4V648M960.3 642.4h12.4M960.3 648h12.4M967.8 643.5V649M961.6 643.5h12.4M961.6 649h12.4" fill="none" stroke="#f00" stroke-width="1"/>
<path d="M197 652h0M198.3 652.6h0M199.6 650.2h0M200.9 651.4h0M202.2 650.9h0M203.4 650.1h0M204.7 651.7h0M206 650.7h0M207.3 649.3h0M208.6 651.5h0M209.9 649.7h0M211.2 651.4h0M212.4 648.2h0M213.7 649.8h0M215 648.8h0M216.3 648.7h0M217.6 647.6h0M218.9 652.1h0M220.2 649.4h0M221.5 649.8h0M222.7 652.2h0M224 649.3h0M225.3 650h0M226.6 647.8h0M227.9 649.5h0M229.2 648.8h0M230.5 649.8h0M231.7 649.4h0M233 647.5h0M234.3 647h0M235.6 647.9h0M236.9 649.8h0M238.2 649.4h0M239.5 649.3h0M240.8 646.5h0M242 645.7h0M243.3 648h0M244.6 647.9h0M245.9 647.9h0M247.2 649h0M248.5 648.3h0M249.8 647.1h0M251 647.4h0M252.3 648.5h0M253.6 648.4h0M254.9 648.2h0M256.2 650.8h0M257.5 647.8h0M258.8 648.2h0M260.1 646.8h0M261.3 647.5h0M262.6 648.5h0M263.9 648.5h0M265.2 647.6h0M266.5 648.2h0M267.8 647.7h0M269.1 645.3h0M270.4 639.2h0M271.6 650.2h0M272.9 648.4h0M274.2 647.2h0M275.5 645.1h0M276.8 645.6h0M278.1 648.7h0M279.4 643.6h0M280.6 646.5h0M281.9 647.9h0M283.2 647h0M284.5 647.6h0M285.8 646.5h0M287.1 649.5h0M288.4 645.2h0M289.7 644.8h0M290.9 646.7h0M292.2 648.1h0M293.5 646.1h0M294.8 647.4h0M296.1 645.4h0M297.4 644.5h0M298.7 647.7h0M299.9 647.8h0M301.2 647.7h0M302.5 645.1h0M303.8 642.5h0M305.1 644h0M306.4 645.2h0M307.7 646.1h0M309 645.9h0M310.2 643.4h0M311.5 645.4h0M312.8 645.1h0M314.1 645.1h0M315.4 644.8h0M316.7 644.5h0M318 645.5h0M319.2 644.8h0M320.5 644.9h0M321.8 642.6h0M323.1 644.9h0M324.4 644.2h0M325.7 641.5h0M327 644.8h0M328.3 643.7h0M329.5 645.2h0M330.8 643.7h0M332.1 643.7h0M333.4 644h0M334.7 643.6h0M336 642.3h0M337.3 638.5h0M338.6 645.8h0M339.8 641.2h0M341.1 642.7h0M342.4 644h0M343.7 643.5h0M345 643.7h0M346.3 643.9h0M347.6 644.4h0M348.8 643h0M350.1 646.5h0M351.4 641.1h0M352.7 642.7h0M354 641.8h0M355.3 641.5h0M356.6 642.5h0M357.9 646.2h0M359.1 641h0M360.4 640.9h0M361.7 642.8h0M363 642.4h0M364.3 644.3h0M365.6 642.9h0M366.9 641.7h0M368.1 640.9h0M369.4 641.6h0M370.7 640.9h0M372 639.2h0M373.3 641.1h0M374.6 640.7h0M375.9 640.6h0M377.2 639.6h0M378.4 643.1h0M379.7 641.7h0M381 641.9h0M382.3 639.7h0M383.6 637.5h0M384.9 640h0M386.2 640.7h0M387.4 639.8h0M388.7 640h0M390 641.5h0M391.3 640.5h0M392.6 638.6h0M393.9 639.4h0M395.2 637.9h0M396.5 640.1h0M397.7 638.1h0M399 639.5h0M400.3 640.7h0M401.6 639.6h0M402.9 638.2h0M404.2 638.6h0M405.5 639.6h0M406.8 640.1h0M408 640.5h0M409.3 639h0M410.6 637.3h0M411.9 641.2h0M413.2 640h0M414.5 639.6h0M415.8 639.4h0M417 637.4h0M418.3 638.3h0M419.6 639.1h0M420.9 640.2h0M422.2 638.8h0M423.5 634h0M424.8 638.2h0M426.1 639h0M427.3 640.3h0M428.6 640.5h0M429.9 642h0M431.2 640.3h0M432.5 640.2h0M433.8 639.5h0M435.1 636h0M436.3 639.2h0M437.6 638.8h0M438.9 637.1h0M440.2 638.6h0M441.5 638.3h0M442.8 636.9h0M444.1 637.3h0M445.4 637.1h0M446.6 637.7h0M447.9 636.6h0M449.2 638h0M450.5 634.2h0M451.8 636.5h0M453.1 634.3h0M454.4 636h0M455.7 637.4h0M456.9 636.5h0M458.2 636.1h0M459.5 636.3h0M460.8 638.4h0M462.1 634.2h0M463.4 637h0M464.7 633.2h0M465.9 634.6h0M467.2 635.4h0M468.5 633.6h0M469.8 635h0M471.1 635.6h0M472.4 632.3h0M473.7 633.8h0M475 633.1h0M476.2 630.3h0M477.5 632.8h0M478.8 630.1h0M480.1 634.6h0M481.4 630.7h0M482.7 634.6h0M484 630.6h0M485.2 634.3h0M486.5 631.7h0M487.8 631.1h0M489.1 631.3h0M490.4 631.1h0M491.7 631.4h0M493 631.5h0M494.3 627.4h0M495.5 625.3h0M496.8 622.1h0M498.1 625.4h0M499.4 628.1h0M500.7 625.1h0M502 623.7h0M503.3 621.8h0M504.5 620.2h0M505.8 619.6h0M507.1 619.4h0M508.4 613.6h0M509.7 616.8h0M511 610.4h0M512.3 611.3h0M513.6 608.3h0M514.8 607.2h0M516.1 604.1h0M517.4 602.4h0M518.7 603.4h0M520 600h0M521.3 607.9h0M522.6 599.4h0M523.9 597.5h0M525.1 596.4h0M526.4 593.5h0M527.7 587.9h0M529 592.3h0M530.3 592h0M531.6 584.4h0M532.9 586.3h0M534.1 579.1h0M535.4 577.7h0M536.7 571.8h0M538 564.9h0M539.3 559.2h0M540.6 548.8h0M541.9 549.1h0M543.2 533.4h0M544.4 527.6h0M545.7 522.7h0M547 497h0M548.3 472.8h0M549.6 465.6h0M550.9 429.1h0M552.2 401.9h0M553.4 366.7h0M554.7 349h0M556 295.5h0M557.3 196h0M558.6 167.7h0M559.9 156.7h0M561.2 23.2h0M594.6 209.5h0M595.9 345.9h0M597.2 410.4h0M598.5 428.5h0M599.8 458.3h0M601.1 476.8h0M602.3 486.5h0M603.6 486.2h0M604.9 503.4h0M606.2 518.3h0M607.5 523h0M608.8 527.5h0M610.1 537.5h0M611.4 543.8h0M612.6 549.5h0M613.9 546.9h0M615.2 556.4h0M616.5 561.7h0M617.8 566.3h0M619.1 563.7h0M620.4 578.5h0M621.6 579.2h0M622.9 591.6h0M624.2 586.9h0M625.5 588.7h0M626.8 590.4h0M628.1 599h0M629.4 593.3h0M630.7 597.6h0M631.9 598.1h0M633.2 601.8h0M634.5 603.9h0M635.8 608.4h0M637.1 604.2h0M638.4 608.9h0M639.7 613.9h0M640.9 610.4h0M642.2 612.3h0M643.5 611.8h0M644.8 609.2h0M646.1 615.4h0M647.4 621.4h0M648.7 616.4h0M650 614.6h0M651.2 619.6h0M652.5 620.1h0M653.8 622.7h0M655.1 625.3h0M656.4 622.3h0M657.7 624.4h0M659 621.4h0M660.3 627.4h0M661.5 626.5h0M662.8 628.8h0M664.1 629.3h0M665.4 627.4h0M666.7 628.1h0M668 627.2h0M669.3 625.6h0M670.5 629.2h0M671.8 630h0M673.1 628.2h0M674.4 631.5h0M675.7 630.8h0M677 631.6h0M678.3 629.8h0M679.6 628.4h0M680.8 632.8h0M682.1 632.8h0M683.4 631.8h0M684.7 631.5h0M686 631.9h0M687.3 632.3h0M688.6 631.9h0M689.8 629.7h0M691.1 634.4h0M692.4 628.3h0M693.7 633h0M695 633.2h0M696.3 634.3h0M697.6 631.5h0M698.9 636.1h0M700.1 635.4h0M701.4 635.7h0M702.7 636.6h0M704 633.5h0M705.3 624.7h0M706.6 635.6h0M707.9 639.4h0M709.1 637.1h0M710.4 634.6h0M711.7 635.4h0M713 636.1h0M714.3 633.1h0M715.6 634.9h0M716.9 635.1h0M718.2 638.6h0M719.4 635.3h0M720.7 638.8h0M722 636.5h0M723.3 634.1h0M724.6 640.1h0M725.9 635.4h0M727.2 637.9h0M728.5 639.6h0M729.7 636.3h0M731 635.4h0M732.3 640.6h0M733.6 637.5h0M734.9 635.7h0M736.2 636h0M737.5 637.1h0M738.7 639.2h0M740 637.4h0M741.3 638.9h0M742.6 640.5h0M743.9 640h0M745.2 640.3h0M746.5 640.1h0M747.8 633.4h0M749 640.2h0M750.3 639.5h0M751.6 638.4h0M752.9 637.1h0M754.2 636.4h0M755.5 635.4h0M756.8 638.8h0M758 637.3h0M759.3 637.9h0M760.6 637.3h0M761.9 641.2h0M763.2 638.9h0M764.5 639.1h0M765.8 641.3h0M767.1 639h0M768.3 640.4h0M769.6 638.1h0M770.9 640.2h0M772.2 639.9h0M773.5 640.1h0M774.8 639.2h0M776.1 638.5h0M777.4 639.6h0M778.6 639.5h0M779.9 641.7h0M781.2 643h0M782.5 638.6h0M783.8 642.3h0M785.1 639.8h0M786.4 641.2h0M787.6 640h0M788.9 638.7h0M790.2 642.2h0M791.5 641.5h0M792.8 639.3h0M794.1 638.4h0M795.4 640.4h0M796.7 639.6h0M797.9 640.8h0M799.2 642.3h0M800.5 643.5h0M801.8 641.1h0M803.1 643.6h0M804.4 643.4h0M805.7 641.2h0M806.9 639.6h0M808.2 643.2h0M809.5 642.9h0M810.8 645.4h0M812.1 644.2h0M813.4 643.4h0M814.7 644.7h0M816 641.1h0M817.2 642.8h0M818.5 642.3h0M819.8 645h0M821.1 643.5h0M822.4 638.7h0M823.7 644.7h0M825 640.4h0M826.2 644.1h0M827.5 642.4h0M828.8 643.5h0M830.1 644h0M831.4 643.5h0M832.7 642h0M834 645.2h0M835.3 643.9h0M836.5 643.4h0M837.8 645.4h0M839.1 642.8h0M840.4 646h0M841.7 643.9h0M843 644.1h0M844.3 644.1h0M845.6 642.4h0M846.8 642.1h0M848.1 644.3h0M849.4 644.2h0M850.7 645.5h0M852 644.4h0M853.3 642.4h0M854.6 644.5h0M855.8 644.9h0M857.1 645.2h0M858.4 644.3h0M859.7 642.3h0M861 645.4h0M862.3 643h0M863.6 644.7h0M864.9 641.9h0M866.1 645h0M867.4 643h0M868.7 645.4h0M870 646.4h0M871.3 645.6h0M872.6 642.6h0M873.9 642.9h0M875.1 643h0M876.4 645h0M877.7 645.1h0M879 644.4h0M880.3 644.6h0M881.6 644.9h0M882.9 645.1h0M884.2 646.4h0M885.4 644.2h0M886.7 644.5h0M888 641.9h0M889.3 642.6h0M890.6 643.4h0M891.9 642.8h0M893.2 644.6h0M894.4 645.7h0M895.7 643.8h0M897 643.8h0M898.3 643.8h0M899.6 644.6h0M900.9 643.8h0M902.2 645h0M903.5 644.9h0M904.7 645h0M906 645.5h0M907.3 644.6h0M908.6 644.8h0M909.9 646.9h0M911.2 644.6h0M912.5 645.7h0M913.8 644.8h0M915 644.1h0M916.3 644.2h0M917.6 643.7h0M918.9 644.8h0M920.2 644h0M921.5 644.3h0M922.8 646.4h0M924 644.7h0M925.3 646.4h0M926.6 645.3h0M927.9 646.1h0M929.2 644.2h0M930.5 645.2h0M931.8 648.4h0M933.1 646.2h0M934.3 647.8h0M935.6 645.4h0M936.9 646.3h0M938.2 643.7h0M939.5 644.2h0M940.8 645.8h0M942.1 646.3h0M943.3 644.8h0M944.6 644.8h0M945.9 644.9h0M947.2 645.2h0M948.5 643.9h0M949.8 643.6h0M951.1 645.4h0M952.4 643.3h0M953.6 644.3h0M954.9 644.7h0M956.2 644.2h0M957.5 645.9h0M958.8 645.1h0M960.1 645.5h0M961.4 644.4h0M962.6 643.7h0M963.9 646.4h0M965.2 646.2h0M966.5 645.2h0M967.8 646.2h0" fill="none" stroke="#f00" stroke-width="9" stroke-linecap="round"/>
<path d="M197 656L197.3 653L198.3 649.6L199.6 648.8L200.9 651.2L202.2 650L203.4 649.9L204.7 651.4L206 650.9L207.3 649.9L208.6 648L209.9 650.7L211.2 649.7L212.4 649.5L213.7 650.6L215 649.2L216.3 649.7L217.6 650.6L218.9 650.2L220.2 649L221.5 651L222.7 650.6L224 651.3L225.3 649.3L226.6 649.6L227.9 650.4L229.2 649.7L230.5 649.3L231.7 649.1L233 648.8L234.3 648.4L235.6 648.4L236.9 649.4L238.2 648.6L239.5 647.5L240.8 648.9L242 650.4L243.3 650.1L244.6 646.7L245.9 647.8L247.2 649.3L248.5 648.6L249.8 648.5L251 648.3L252.3 648.4L253.6 647.3L254.9 649.4L256.2 647.1L257.5 648L258.8 649.6L260.1 649.1L261.3 647.9L262.6 647.9L263.9 647.2L265.2 647.3L266.5 647.5L267.8 648.9L269.1 647.1L270.4 648.1L271.6 647.9L272.9 647.8L274.2 647L275.5 648L276.8 647.3L278.1 647.2L279.4 646.6L280.6 644.8L281.9 647.6L283.2 647.6L284.5 646.2L285.8 646.5L287.1 646.9L288.4 645.6L289.7 647.2L290.9 647.1L292.2 647.1L293.5 647.1L294.8 644.3L296.1 646.6L297.4 645.6L298.7 647L299.9 646.9L301.2 646.6L302.5 645.6L303.8 648.4L305.1 645.5L306.4 644.4L307.7 646.3L309 643.9L310.2 647.1L311.5 646.2L312.8 646.4L314.1 646L315.4 645.3L316.7 643.5L318 644.2L319.2 645.2L320.5 644.4L321.8 644.9L323.1 643.8L324.4 643.6L325.7 644.6L327 644.9L328.3 644.1L329.5 643.1L330.8 642.3L332.1 645.8L333.4 642.6L334.7 642.8L336 642.9L337.3 644.4L338.6 642.7L339.8 643.9L341.1 643.5L342.4 642L343.7 643.2L345 641.7L346.3 642.7L347.6 643.5L348.8 642.4L350.1 641.7L351.4 642.1L352.7 642.2L354 642.6L355.3 640L356.6 640.3L357.9 642.5L359.1 641.8L360.4 641.9L361.7 642L363 641.5L364.3 641.2L365.6 641.6L366.9 642.1L368.1 641.7L369.4 641.3L370.7 640.2L372 641.3L373.3 639.9L374.6 640.3L375.9 641L377.2 640.9L378.4 641.8L379.7 641.5L381 641.1L382.3 640.2L383.6 640.5L384.9 640.2L386.2 642L387.4 640.7L388.7 639.6L390 639.3L391.3 641.3L392.6 639.2L393.9 640.3L395.2 640.1L396.5 640.9L397.7 638.9L399 640.2L400.3 639.9L401.6 640.4L402.9 640.9L404.2 639.6L405.5 639.2L406.8 640.2L408 637.9L409.3 639.4L410.6 638.2L411.9 637.9L413.2 637.5L414.5 637.4L415.8 639.7L417 639.7L418.3 638.9L419.6 639.8L420.9 638.7L422.2 638.2L423.5 637.5L424.8 639.3L426.1 639.3L427.3 639.7L428.6 637.6L429.9 638L431.2 636.9L432.5 639.3L433.8 638.8L435.1 638.6L436.3 638L437.6 637.8L438.9 637.5L440.2 638.9L441.5 637.1L442.8 638.5L444.1 637.8L445.4 636.5L446.6 636L447.9 636.5L449.2 637.1L450.5 635.8L451.8 637.6L453.1 638L454.4 637.3L455.7 634.9L456.9 634.2L458.2 637.2L459.5 637.6L460.8 635.6L462.1 636.4L463.4 635.4L464.7 634.9L465.9 636.3L467.2 634.6L468.5 635.8L469.8 636.4L471.1 634.4L472.4 636L473.7 632.7L475 634.6L476.2 633.4L477.5 635.6L478.8 632.8L480.1 631.7L481.4 633.7L482.7 630.4L484 631.9L485.2 630.4L486.5 632.1L487.8 630.3L489.1 630.8L490.4 629.5L491.7 628.1L493 626.6L494.3 629.7L495.5 627.7L496.8 625.8L498.1 625.8L499.4 626.2L500.7 623.1L502 625.5L503.3 622.2L504.5 621L505.8 621.2L507.1 618.9L508.4 616.2L509.7 616.1L511 613.8L512.3 612.5L513.6 609L514.8 607.1L516.1 607.1L517.4 604.8L518.7 602.1L520 602.3L521.3 602.2L522.6 599.8L523.9 600.4L525.1 597.5L526.4 596.4L527.7 593.4L529 592.4L530.3 591L531.6 589.4L532.9 586.4L534.1 583.8L535.4 576.6L536.7 570.4L538 562.9L539.3 556.7L540.6 552.1L541.9 544.5L543.2 536L544.4 525.4L545.7 514L547 498.7L548.3 481.9L549.6 461.4L550.9 438L552.2 409.1L553.4 376L554.7 341.6L556 297.1L557.3 219.5L558.6 159.6L559.9 105.8L561.2 0.3L562.5 -60L563.7 -60L565 -60L566.3 -60L567.6 -60L568.9 -60L570.2 -60L571.5 -60L572.7 -60L574 -60L575.3 -60L576.6 -60L577.9 -60L579.2 -60L580.5 -60L581.8 -60L583 -60L584.3 -60L585.6 -60L586.9 -60L588.2 -60L589.5 -60L590.8 -60L592.1 -60L593.3 -60L594.6 202.1L595.9 352.6L597.2 405.9L598.5 434.9L599.8 461L601.1 478L602.3 488.6L603.6 499.6L604.9 509.2L606.2 516L607.5 524.5L608.8 529.9L610.1 534.5L611.4 540.8L612.6 546.7L613.9 550.3L615.2 556.7L616.5 562.6L617.8 569.3L619.1 575.2L620.4 579.3L621.6 582.4L622.9 585L624.2 589.1L625.5 588.6L626.8 590.1L628.1 594.2L629.4 596.1L630.7 596.9L631.9 601.6L633.2 601.6L634.5 602.9L635.8 606.2L637.1 608.1L638.4 611L639.7 609L640.9 610.5L642.2 612.5L643.5 613.3L644.8 614.6L646.1 615L647.4 615.1L648.7 617L650 618.9L651.2 619.8L652.5 619.4L653.8 621.4L655.1 622.2L656.4 622.3L657.7 623.4L659 624.7L660.3 628L661.5 626.4L662.8 626.1L664.1 627.3L665.4 627.4L666.7 629.5L668 626.7L669.3 628L670.5 630.3L671.8 630.2L673.1 630.1L674.4 631.1L675.7 629.3L677 631.2L678.3 630L679.6 630.1L680.8 632.1L682.1 631L683.4 631.7L684.7 632.8L686 631.4L687.3 633.2L688.6 635L689.8 632.8L691.1 634.1L692.4 634.1L693.7 632.3L695 632.4L696.3 633.9L697.6 631.9L698.9 634.3L700.1 634.6L701.4 635L702.7 635.1L704 636.1L705.3 634.6L706.6 636.4L707.9 635.8L709.1 635.9L710.4 635.3L711.7 636.6L713 635L714.3 636.6L715.6 637.1L716.9 635.4L718.2 635.3L719.4 635.6L720.7 636.4L722 636.9L723.3 637.5L724.6 638.7L725.9 638.5L727.2 637.2L728.5 636.7L729.7 635.9L731 638.1L732.3 637.9L733.6 637.2L734.9 637.4L736.2 637.5L737.5 635.1L738.7 637.7L740 638.2L741.3 637.8L742.6 637L743.9 638.2L745.2 638.7L746.5 640.1L747.8 639.4L749 639.1L750.3 638.5L751.6 637.3L752.9 638.2L754.2 637.4L755.5 638.8L756.8 640L758 640.1L759.3 640L760.6 639.2L761.9 640.2L763.2 639L764.5 637.4L765.8 639.6L767.1 639.5L768.3 637.8L769.6 639.1L770.9 637.3L772.2 639.3L773.5 641.1L774.8 639.3L776.1 641.3L777.4 640.3L778.6 639.4L779.9 638.4L781.2 641L782.5 641L783.8 639L785.1 640.1L786.4 641.7L787.6 639.9L788.9 641.2L790.2 638.9L791.5 640L792.8 641.7L794.1 639.9L795.4 639.7L796.7 639.9L797.9 641L799.2 639.9L800.5 641.4L801.8 642.2L803.1 643.2L804.4 641.4L805.7 643.5L806.9 642.5L808.2 641.8L809.5 642.6L810.8 643.7L812.1 643.8L813.4 643.1L814.7 642.3L816 643.3L817.2 642.8L818.5 642.8L819.8 643L821.1 644.6L822.4 641.6L823.7 642.8L825 641.9L826.2 643.9L827.5 644.2L828.8 644.5L830.1 642.8L831.4 643.3L832.7 644.1L834 643.5L835.3 643.7L836.5 643.6L837.8 643.7L839.1 643.4L840.4 644L841.7 642.1L843 643.2L844.3 642.3L845.6 643.6L846.8 642.9L848.1 644.2L849.4 645L850.7 642.5L852 643L853.3 644.1L854.6 645.3L855.8 644.6L857.1 644.3L858.4 643.8L859.7 643.5L861 644.3L862.3 644.5L863.6 644.1L864.9 643.4L866.1 642.4L867.4 643.2L868.7 643.7L870 642.9L871.3 644.4L872.6 642.6L873.9 643.8L875.1 644.5L876.4 645L877.7 644.4L879 645.4L880.3 643.6L881.6 643.4L882.9 645.3L884.2 643.3L885.4 644.1L886.7 642.5L888 645.4L889.3 645L890.6 643.6L891.9 642.6L893.2 644.6L894.4 644.6L895.7 645.6L897 646.3L898.3 644.7L899.6 644.2L900.9 644.2L902.2 644.2L903.5 643.1L904.7 643.6L906 644.5L907.3 642.9L908.6 643.3L909.9 645.9L911.2 644L912.5 645.5L913.8 645.8L915 644.7L916.3 645.6L917.6 644.6L918.9 643.9L920.2 644.7L921.5 644.9L922.8 645L924 645L925.3 644.6L926.6 646.1L927.9 644.8L929.2 644.6L930.5 646L931.8 644.1L933.1 645.1L934.3 646.6L935.6 645.3L936.9 646.6L938.2 645L939.5 644.8L940.8 645.1L942.1 644.8L943.3 645L944.6 644.9L945.9 646.2L947.2 645.8L948.5 645.3L949.8 644.7L951.1 648.7L952.4 645.3L953.6 647L954.9 644.4L956.2 644.9L957.5 646.9L958.8 644.6L960.1 644.6L961.4 645.7L962.6 645L963.9 645.5L965.2 646L967.6 649L968.2 656" fill="none" stroke="#000" stroke-width="2.6" stroke-linejoin="round"/>
<path d="M197 641.7V649.4M190.8 641.7h12.4M190.8 649.4h12.4M198.3 636.5V644.2M192.1 636.5h12.4M192.1 644.2h12.4M199.6 642V649.7M193.4 642h12.4M193.4 649.7h12.4M200.9 641.4V649.1M194.7 641.4h12.4M194.7 649.1h12.4M202.2 638.8V646.6M196 638.8h12.4M196 646.6h12.4M203.4 640.8V648.6M197.2 640.8h12.4M197.2 648.6h12.4M204.7 643.2V650.9M198.5 643.2h12.4M198.5 650.9h12.4M206 639.3V647.1M199.8 639.3h12.4M199.8 647.1h12.4M207.3 637.9V645.7M201.1 637.9h12.4M201.1 645.7h12.4M208.6 643V650.8M202.4 643h12.4M202.4 650.8h12.4M209.9 640.4V648.2M203.7 640.4h12.4M203.7 648.2h12.4M211.2 639.3V647.1M205 639.3h12.4M205 647.1h12.4M212.4 645V652.8M206.2 645h12.4M206.2 652.8h12.4M213.7 639.9V647.7M207.5 639.9h12.4M207.5 647.7h12.4M215 639V646.8M208.8 639h12.4M208.8 646.8h12.4M216.3 639.9V647.8M210.1 639.9h12.4M210.1 647.8h12.4M217.6 638.2V646.1M211.4 638.2h12.4M211.4 646.1h12.4M218.9 639.6V647.5M212.7 639.6h12.4M212.7 647.5h12.4M220.2 639.3V647.2M214 639.3h12.4M214 647.2h12.4M221.5 637.3V645.2M215.3 637.3h12.4M215.3 645.2h12.4M222.7 638.2V646.1M216.5 638.2h12.4M216.5 646.1h12.4M224 639.4V647.4M217.8 639.4h12.4M217.8 647.4h12.4M225.3 639.5V647.4M219.1 639.5h12.4M219.1 647.4h12.4M226.6 639.9V647.8M220.4 639.9h12.4M220.4 647.8h12.4M227.9 640.3V648.2M221.7 640.3h12.4M221.7 648.2h12.4M229.2 639V646.9M223 639h12.4M223 646.9h12.4M230.5 639.5V647.5M224.3 639.5h12.4M224.3 647.5h12.4M231.7 637.3V645.3M225.5 637.3h12.4M225.5 645.3h12.4M233 637.5V645.5M226.8 637.5h12.4M226.8 645.5h12.4M234.3 640.6V648.5M228.1 640.6h12.4M228.1 648.5h12.4M235.6 633.3V641.3M229.4 633.3h12.4M229.4 641.3h12.4M236.9 638.8V646.8M230.7 638.8h12.4M230.7 646.8h12.4M238.2 645.5V653.4M232 645.5h12.4M232 653.4h12.4M239.5 633.4V641.4M233.3 633.4h12.4M233.3 641.4h12.4M240.8 641.4V649.4M234.6 641.4h12.4M234.6 649.4h12.4M242 633.5V641.5M235.8 633.5h12.4M235.8 641.5h12.4M243.3 639.7V647.7M237.1 639.7h12.4M237.1 647.7h12.4M244.6 641.5V649.5M238.4 641.5h12.4M238.4 649.5h12.4M245.9 641.1V649.1M239.7 641.1h12.4M239.7 649.1h12.4M247.2 635.3V643.3M241 635.3h12.4M241 643.3h12.4M248.5 634.3V642.3M242.3 634.3h12.4M242.3 642.3h12.4M249.8 633.9V641.9M243.6 633.9h12.4M243.6 641.9h12.4M251 639V647.1M244.8 639h12.4M244.8 647.1h12.4M252.3 636.3V644.3M246.1 636.3h12.4M246.1 644.3h12.4M253.6 637.2V645.2M247.4 637.2h12.4M247.4 645.2h12.4M254.9 637.8V645.8M248.7 637.8h12.4M248.7 645.8h12.4M256.2 638.1V646.1M250 638.1h12.4M250 646.1h12.4M257.5 639.9V648M251.3 639.9h12.4M251.3 648h12.4M258.8 637.8V645.8M252.6 637.8h12.4M252.6 645.8h12.4M260.1 633.1V641.2M253.9 633.1h12.4M253.9 641.2h12.4M261.3 640.5V648.5M255.1 640.5h12.4M255.1 648.5h12.4M262.6 630.3V638.3M256.4 630.3h12.4M256.4 638.3h12.4M263.9 639.8V647.9M257.7 639.8h12.4M257.7 647.9h12.4M265.2 635.4V643.4M259 635.4h12.4M259 643.4h12.4M266.5 636.3V644.4M260.3 636.3h12.4M260.3 644.4h12.4M267.8 635.5V643.5M261.6 635.5h12.4M261.6 643.5h12.4M269.1 635.8V643.9M262.9 635.8h12.4M262.9 643.9h12.4M270.4 636.6V644.7M264.2 636.6h12.4M264.2 644.7h12.4M271.6 635.9V644M265.4 635.9h12.4M265.4 644h12.4M272.9 633.9V642M266.7 633.9h12.4M266.7 642h12.4M274.2 638.6V646.7M268 638.6h12.4M268 646.7h12.4M275.5 635.1V643.2M269.3 635.1h12.4M269.3 643.2h12.4M276.8 639.7V647.8M270.6 639.7h12.4M270.6 647.8h12.4M278.1 636V644.1M271.9 636h12.4M271.9 644.1h12.4M279.4 632.8V640.9M273.2 632.8h12.4M273.2 640.9h12.4M280.6 637.4V645.5M274.4 637.4h12.4M274.4 645.5h12.4M281.9 638.4V646.5M275.7 638.4h12.4M275.7 646.5h12.4M283.2 633.9V642.1M277 633.9h12.4M277 642.1h12.4M284.5 635.5V643.6M278.3 635.5h12.4M278.3 643.6h12.4M285.8 639.6V647.7M279.6 639.6h12.4M279.6 647.7h12.4M287.1 633.6V641.7M280.9 633.6h12.4M280.9 641.7h12.4M288.4 633.9V642.1M282.2 633.9h12.4M282.2 642.1h12.4M289.7 636.4V644.5M283.5 636.4h12.4M283.5 644.5h12.4M290.9 629.8V637.9M284.7 629.8h12.4M284.7 637.9h12.4M292.2 629.8V638M286 629.8h12.4M286 638h12.4M293.5 631.7V639.9M287.3 631.7h12.4M287.3 639.9h12.4M294.8 637.8V645.9M288.6 637.8h12.4M288.6 645.9h12.4M296.1 639.2V647.3M289.9 639.2h12.4M289.9 647.3h12.4M297.4 637.1V645.3M291.2 637.1h12.4M291.2 645.3h12.4M298.7 636.6V644.7M292.5 636.6h12.4M292.5 644.7h12.4M299.9 632.5V640.7M293.7 632.5h12.4M293.7 640.7h12.4M301.2 637.1V645.3M295 637.1h12.4M295 645.3h12.4M302.5 638.2V646.3M296.3 638.2h12.4M296.3 646.3h12.4M303.8 633.5V641.7M297.6 633.5h12.4M297.6 641.7h12.4M305.1 637.4V645.6M298.9 637.4h12.4M298.9 645.6h12.4M306.4 634.1V642.3M300.2 634.1h12.4M300.2 642.3h12.4M307.7 635.4V643.6M301.5 635.4h12.4M301.5 643.6h12.4M309 635.7V643.9M302.8 635.7h12.4M302.8 643.9h12.4M310.2 631V639.2M304 631h12.4M304 639.2h12.4M311.5 638.2V646.4M305.3 638.2h12.4M305.3 646.4h12.4M312.8 632.3V640.5M306.6 632.3h12.4M306.6 640.5h12.4M314.1 634.1V642.3M307.9 634.1h12.4M307.9 642.3h12.4M315.4 633V641.2M309.2 633h12.4M309.2 641.2h12.4M316.7 635.2V643.4M310.5 635.2h12.4M310.5 643.4h12.4M318 635V643.3M311.8 635h12.4M311.8 643.3h12.4M319.2 633.9V642.1M313 633.9h12.4M313 642.1h12.4M320.5 637.2V645.5M314.3 637.2h12.4M314.3 645.5h12.4M321.8 634.3V642.5M315.6 634.3h12.4M315.6 642.5h12.4M323.1 632.5V640.7M316.9 632.5h12.4M316.9 640.7h12.4M324.4 626.2V634.4M318.2 626.2h12.4M318.2 634.4h12.4M325.7 632.5V640.8M319.5 632.5h12.4M319.5 640.8h12.4M327 632.3V640.6M320.8 632.3h12.4M320.8 640.6h12.4M328.3 630.8V639M322.1 630.8h12.4M322.1 639h12.4M329.5 630.6V638.9M323.3 630.6h12.4M323.3 638.9h12.4M330.8 634.1V642.4M324.6 634.1h12.4M324.6 642.4h12.4M332.1 635.1V643.4M325.9 635.1h12.4M325.9 643.4h12.4M333.4 637.1V645.4M327.2 637.1h12.4M327.2 645.4h12.4M334.7 635.1V643.4M328.5 635.1h12.4M328.5 643.4h12.4M336 630.3V638.6M329.8 630.3h12.4M329.8 638.6h12.4M337.3 633.4V641.7M331.1 633.4h12.4M331.1 641.7h12.4M338.6 628.3V636.7M332.4 628.3h12.4M332.4 636.7h12.4M339.8 633.4V641.8M333.6 633.4h12.4M333.6 641.8h12.4M341.1 632.3V640.7M334.9 632.3h12.4M334.9 640.7h12.4M342.4 629.8V638.1M336.2 629.8h12.4M336.2 638.1h12.4M343.7 630.9V639.2M337.5 630.9h12.4M337.5 639.2h12.4M345 630.3V638.7M338.8 630.3h12.4M338.8 638.7h12.4M346.3 629.2V637.6M340.1 629.2h12.4M340.1 637.6h12.4M347.6 634V642.4M341.4 634h12.4M341.4 642.4h12.4M348.8 638.3V646.7M342.6 638.3h12.4M342.6 646.7h12.4M350.1 632.4V640.8M343.9 632.4h12.4M343.9 640.8h12.4M351.4 632.8V641.3M345.2 632.8h12.4M345.2 641.3h12.4M352.7 630.4V638.8M346.5 630.4h12.4M346.5 638.8h12.4M354 628.9V637.4M347.8 628.9h12.4M347.8 637.4h12.4M355.3 635.2V643.7M349.1 635.2h12.4M349.1 643.7h12.4M356.6 628.5V637M350.4 628.5h12.4M350.4 637h12.4M357.9 630.3V638.7M351.7 630.3h12.4M351.7 638.7h12.4M359.1 628.8V637.3M352.9 628.8h12.4M352.9 637.3h12.4M360.4 630.4V638.9M354.2 630.4h12.4M354.2 638.9h12.4M361.7 628.5V637.1M355.5 628.5h12.4M355.5 637.1h12.4M363 630V638.5M356.8 630h12.4M356.8 638.5h12.4M364.3 625V633.6M358.1 625h12.4M358.1 633.6h12.4M365.6 627.8V636.4M359.4 627.8h12.4M359.4 636.4h12.4M366.9 631.4V639.9M360.7 631.4h12.4M360.7 639.9h12.4M368.1 625V633.6M361.9 625h12.4M361.9 633.6h12.4M369.4 625.7V634.3M363.2 625.7h12.4M363.2 634.3h12.4M370.7 634.8V643.4M364.5 634.8h12.4M364.5 643.4h12.4M372 628.1V636.7M365.8 628.1h12.4M365.8 636.7h12.4M373.3 629.7V638.3M367.1 629.7h12.4M367.1 638.3h12.4M374.6 620.9V629.6M368.4 620.9h12.4M368.4 629.6h12.4M375.9 626.9V635.6M369.7 626.9h12.4M369.7 635.6h12.4M377.2 623V631.7M371 623h12.4M371 631.7h12.4M378.4 622.5V631.2M372.2 622.5h12.4M372.2 631.2h12.4M379.7 627.1V635.8M373.5 627.1h12.4M373.5 635.8h12.4M381 632.4V641.2M374.8 632.4h12.4M374.8 641.2h12.4M382.3 621.7V630.4M376.1 621.7h12.4M376.1 630.4h12.4M383.6 622.5V631.3M377.4 622.5h12.4M377.4 631.3h12.4M384.9 623.7V632.4M378.7 623.7h12.4M378.7 632.4h12.4M386.2 624.7V633.5M380 624.7h12.4M380 633.5h12.4M387.4 621.3V630.1M381.2 621.3h12.4M381.2 630.1h12.4M388.7 630.6V639.4M382.5 630.6h12.4M382.5 639.4h12.4M390 625.9V634.8M383.8 625.9h12.4M383.8 634.8h12.4M391.3 623.2V632.1M385.1 623.2h12.4M385.1 632.1h12.4M392.6 622.6V631.5M386.4 622.6h12.4M386.4 631.5h12.4M393.9 630V638.9M387.7 630h12.4M387.7 638.9h12.4M395.2 629.5V638.5M389 629.5h12.4M389 638.5h12.4M396.5 622V630.9M390.3 622h12.4M390.3 630.9h12.4M397.7 624V633M391.5 624h12.4M391.5 633h12.4M399 626.2V635.2M392.8 626.2h12.4M392.8 635.2h12.4M400.3 619.4V628.4M394.1 619.4h12.4M394.1 628.4h12.4M401.6 620.8V629.8M395.4 620.8h12.4M395.4 629.8h12.4M402.9 625.8V634.8M396.7 625.8h12.4M396.7 634.8h12.4M404.2 620V629M398 620h12.4M398 629h12.4M405.5 620.4V629.5M399.3 620.4h12.4M399.3 629.5h12.4M406.8 617.7V626.8M400.6 617.7h12.4M400.6 626.8h12.4M408 616.8V625.9M401.8 616.8h12.4M401.8 625.9h12.4M409.3 622.7V631.9M403.1 622.7h12.4M403.1 631.9h12.4M410.6 618.3V627.4M404.4 618.3h12.4M404.4 627.4h12.4M411.9 616.7V625.8M405.7 616.7h12.4M405.7 625.8h12.4M413.2 618.3V627.5M407 618.3h12.4M407 627.5h12.4M414.5 624.6V633.9M408.3 624.6h12.4M408.3 633.9h12.4M415.8 619.9V629.2M409.6 619.9h12.4M409.6 629.2h12.4M417 617.6V626.8M410.8 617.6h12.4M410.8 626.8h12.4M418.3 619.3V628.6M412.1 619.3h12.4M412.1 628.6h12.4M419.6 619.8V629.1M413.4 619.8h12.4M413.4 629.1h12.4M420.9 618.6V627.9M414.7 618.6h12.4M414.7 627.9h12.4M422.2 612.8V622.2M416 612.8h12.4M416 622.2h12.4M423.5 619.4V628.8M417.3 619.4h12.4M417.3 628.8h12.4M424.8 616.7V626.1M418.6 616.7h12.4M418.6 626.1h12.4M426.1 619.4V628.8M419.9 619.4h12.4M419.9 628.8h12.4M427.3 612.8V622.3M421.1 612.8h12.4M421.1 622.3h12.4M428.6 619.3V628.8M422.4 619.3h12.4M422.4 628.8h12.4M429.9 614.6V624.1M423.7 614.6h12.4M423.7 624.1h12.4M431.2 610.8V620.3M425 610.8h12.4M425 620.3h12.4M432.5 619.2V628.8M426.3 619.2h12.4M426.3 628.8h12.4M433.8 611.9V621.5M427.6 611.9h12.4M427.6 621.5h12.4M435.1 615.8V625.4M428.9 615.8h12.4M428.9 625.4h12.4M436.3 613.9V623.5M430.1 613.9h12.4M430.1 623.5h12.4M437.6 617.2V626.9M431.4 617.2h12.4M431.4 626.9h12.4M438.9 616.9V626.6M432.7 616.9h12.4M432.7 626.6h12.4M440.2 616.6V626.3M434 616.6h12.4M434 626.3h12.4M441.5 615.1V624.8M435.3 615.1h12.4M435.3 624.8h12.4M442.8 607.8V617.6M436.6 607.8h12.4M436.6 617.6h12.4M444.1 607.2V617M437.9 607.2h12.4M437.9 617h12.4M445.4 612.5V622.3M439.2 612.5h12.4M439.2 622.3h12.4M446.6 608.6V618.5M440.4 608.6h12.4M440.4 618.5h12.4M447.9 612.5V622.4M441.7 612.5h12.4M441.7 622.4h12.4M449.2 611.2V621.1M443 611.2h12.4M443 621.1h12.4M450.5 605.9V615.9M444.3 605.9h12.4M444.3 615.9h12.4M451.8 606.7V616.7M445.6 606.7h12.4M445.6 616.7h12.4M453.1 602V612.1M446.9 602h12.4M446.9 612.1h12.4M454.4 606.2V616.3M448.2 606.2h12.4M448.2 616.3h12.4M455.7 607.9V618M449.5 607.9h12.4M449.5 618h12.4M456.9 610.2V620.4M450.7 610.2h12.4M450.7 620.4h12.4M458.2 611.9V622M452 611.9h12.4M452 622h12.4M459.5 604V614.2M453.3 604h12.4M453.3 614.2h12.4M460.8 604.8V615M454.6 604.8h12.4M454.6 615h12.4M462.1 611.1V621.4M455.9 611.1h12.4M455.9 621.4h12.4M463.4 611.7V622M457.2 611.7h12.4M457.2 622h12.4M464.7 605.7V616M458.5 605.7h12.4M458.5 616h12.4M465.9 596.5V606.9M459.7 596.5h12.4M459.7 606.9h12.4M467.2 600.3V610.7M461 600.3h12.4M461 610.7h12.4M468.5 604.1V614.6M462.3 604.1h12.4M462.3 614.6h12.4M469.8 600.2V610.7M463.6 600.2h12.4M463.6 610.7h12.4M471.1 608.3V618.9M464.9 608.3h12.4M464.9 618.9h12.4M472.4 601V611.6M466.2 601h12.4M466.2 611.6h12.4M473.7 600.8V611.5M467.5 600.8h12.4M467.5 611.5h12.4M475 595.1V605.8M468.8 595.1h12.4M468.8 605.8h12.4M476.2 594.4V605.2M470 594.4h12.4M470 605.2h12.4M477.5 594.8V605.7M471.3 594.8h12.4M471.3 605.7h12.4M478.8 594V605M472.6 594h12.4M472.6 605h12.4M480.1 594.5V605.5M473.9 594.5h12.4M473.9 605.5h12.4M481.4 595.9V606.9M475.2 595.9h12.4M475.2 606.9h12.4M482.7 594.5V605.6M476.5 594.5h12.4M476.5 605.6h12.4M484 596.5V607.7M477.8 596.5h12.4M477.8 607.7h12.4M485.2 586.6V597.8M479 586.6h12.4M479 597.8h12.4M486.5 591.7V603M480.3 591.7h12.4M480.3 603h12.4M487.8 590.9V602.2M481.6 590.9h12.4M481.6 602.2h12.4M489.1 595.3V606.7M482.9 595.3h12.4M482.9 606.7h12.4M490.4 587.1V598.6M484.2 587.1h12.4M484.2 598.6h12.4M491.7 588.3V599.9M485.5 588.3h12.4M485.5 599.9h12.4M493 582.6V594.2M486.8 582.6h12.4M486.8 594.2h12.4M494.3 586.5V598.2M488.1 586.5h12.4M488.1 598.2h12.4M495.5 585.2V597M489.3 585.2h12.4M489.3 597h12.4M496.8 579.6V591.4M490.6 579.6h12.4M490.6 591.4h12.4M498.1 578.9V590.8M491.9 578.9h12.4M491.9 590.8h12.4M499.4 579V591.1M493.2 579h12.4M493.2 591.1h12.4M500.7 580V592.2M494.5 580h12.4M494.5 592.2h12.4M502 570.3V582.6M495.8 570.3h12.4M495.8 582.6h12.4M503.3 577.6V590M497.1 577.6h12.4M497.1 590h12.4M504.5 568.1V580.7M498.3 568.1h12.4M498.3 580.7h12.4M505.8 578.4V591.1M499.6 578.4h12.4M499.6 591.1h12.4M507.1 574.2V587M500.9 574.2h12.4M500.9 587h12.4M508.4 562.5V575.5M502.2 562.5h12.4M502.2 575.5h12.4M509.7 555.2V568.3M503.5 555.2h12.4M503.5 568.3h12.4M511 572.2V585.5M504.8 572.2h12.4M504.8 585.5h12.4M512.3 559.9V573.2M506.1 559.9h12.4M506.1 573.2h12.4M513.6 556.6V570.2M507.4 556.6h12.4M507.4 570.2h12.4M514.8 548V561.7M508.6 548h12.4M508.6 561.7h12.4M516.1 546.5V560.4M509.9 546.5h12.4M509.9 560.4h12.4M517.4 548.7V562.8M511.2 548.7h12.4M511.2 562.8h12.4M518.7 544.2V558.5M512.5 544.2h12.4M512.5 558.5h12.4M520 531.6V546.1M513.8 531.6h12.4M513.8 546.1h12.4M521.3 541.1V555.8M515.1 541.1h12.4M515.1 555.8h12.4M522.6 531.2V546M516.4 531.2h12.4M516.4 546h12.4M523.9 518.4V533.4M517.7 518.4h12.4M517.7 533.4h12.4M525.1 527.6V542.9M518.9 527.6h12.4M518.9 542.9h12.4M526.4 514.7V530.2M520.2 514.7h12.4M520.2 530.2h12.4M527.7 517.1V532.8M521.5 517.1h12.4M521.5 532.8h12.4M529 501.9V517.8M522.8 501.9h12.4M522.8 517.8h12.4M530.3 503.6V519.8M524.1 503.6h12.4M524.1 519.8h12.4M531.6 468V484.5M525.4 468h12.4M525.4 484.5h12.4M532.9 495.1V511.8M526.7 495.1h12.4M526.7 511.8h12.4M534.1 469.6V486.6M527.9 469.6h12.4M527.9 486.6h12.4M535.4 475.9V493.3M529.2 475.9h12.4M529.2 493.3h12.4M536.7 421V438.7M530.5 421h12.4M530.5 438.7h12.4M538 457V475.1M531.8 457h12.4M531.8 475.1h12.4M539.3 454.6V473.1M533.1 454.6h12.4M533.1 473.1h12.4M540.6 442.4V461.3M534.4 442.4h12.4M534.4 461.3h12.4M541.9 437.7V457M535.7 437.7h12.4M535.7 457h12.4M543.2 403.6V423.5M537 403.6h12.4M537 423.5h12.4M544.4 415V435.3M538.2 415h12.4M538.2 435.3h12.4M545.7 399V420M539.5 399h12.4M539.5 420h12.4M547 349.1V370.9M540.8 349.1h12.4M540.8 370.9h12.4M548.3 322.8V345.5M542.1 322.8h12.4M542.1 345.5h12.4M549.6 290V313.9M543.4 290h12.4M543.4 313.9h12.4M550.9 264V288.9M544.7 264h12.4M544.7 288.9h12.4M552.2 237.5V263.3M546 237.5h12.4M546 263.3h12.4M553.4 167.4V194.2M547.2 167.4h12.4M547.2 194.2h12.4M554.7 169.8V197.6M548.5 169.8h12.4M548.5 197.6h12.4M556 118V146.9M549.8 118h12.4M549.8 146.9h12.4M557.3 55.5V85.8M551.1 55.5h12.4M551.1 85.8h12.4M558.6 9.6V41.6M552.4 9.6h12.4M552.4 41.6h12.4M597.2 19.7V51.1M591 19.7h12.4M591 51.1h12.4M598.5 112.7V141.7M592.3 112.7h12.4M592.3 141.7h12.4M599.8 207.1V234.1M593.6 207.1h12.4M593.6 234.1h12.4M601.1 235V260.1M594.9 235h12.4M594.9 260.1h12.4M602.3 299V323M596.1 299h12.4M596.1 323h12.4M603.6 287.6V310.9M597.4 287.6h12.4M597.4 310.9h12.4M604.9 321.2V344M598.7 321.2h12.4M598.7 344h12.4M606.2 335V357.4M600 335h12.4M600 357.4h12.4M607.5 354.2V376.3M601.3 354.2h12.4M601.3 376.3h12.4M608.8 363.7V385.4M602.6 363.7h12.4M602.6 385.4h12.4M610.1 375.5V396.9M603.9 375.5h12.4M603.9 396.9h12.4M611.4 385.5V406.5M605.2 385.5h12.4M605.2 406.5h12.4M612.6 409.9V430.4M606.4 409.9h12.4M606.4 430.4h12.4M613.9 426.2V446.2M607.7 426.2h12.4M607.7 446.2h12.4M615.2 429.9V449.3M609 429.9h12.4M609 449.3h12.4M616.5 441.4V460.4M610.3 441.4h12.4M610.3 460.4h12.4M617.8 441V459.6M611.6 441h12.4M611.6 459.6h12.4M619.1 443.7V462M612.9 443.7h12.4M612.9 462h12.4M620.4 466.6V484.6M614.2 466.6h12.4M614.2 484.6h12.4M621.6 469.5V487.1M615.4 469.5h12.4M615.4 487.1h12.4M622.9 483.4V500.7M616.7 483.4h12.4M616.7 500.7h12.4M624.2 468V485M618 468h12.4M618 485h12.4M625.5 510.4V527.2M619.3 510.4h12.4M619.3 527.2h12.4M626.8 484.7V501.2M620.6 484.7h12.4M620.6 501.2h12.4M628.1 500.5V516.7M621.9 500.5h12.4M621.9 516.7h12.4M629.4 513.1V529.1M623.2 513.1h12.4M623.2 529.1h12.4M630.7 500.2V516M624.5 500.2h12.4M624.5 516h12.4M631.9 511.6V527.1M625.7 511.6h12.4M625.7 527.1h12.4M633.2 505.9V521.2M627 505.9h12.4M627 521.2h12.4M634.5 503.5V518.6M628.3 503.5h12.4M628.3 518.6h12.4M635.8 514.8V529.7M629.6 514.8h12.4M629.6 529.7h12.4M637.1 531.8V546.6M630.9 531.8h12.4M630.9 546.6h12.4M638.4 536.1V550.7M632.2 536.1h12.4M632.2 550.7h12.4M639.7 535.2V549.6M633.5 535.2h12.4M633.5 549.6h12.4M640.9 547.8V562M634.7 547.8h12.4M634.7 562h12.4M642.2 551.2V565.3M636 551.2h12.4M636 565.3h12.4M643.5 545.5V559.5M637.3 545.5h12.4M637.3 559.5h12.4M644.8 545.5V559.4M638.6 545.5h12.4M638.6 559.4h12.4M646.1 549.2V562.9M639.9 549.2h12.4M639.9 562.9h12.4M647.4 550.8V564.3M641.2 550.8h12.4M641.2 564.3h12.4M648.7 562.7V576.1M642.5 562.7h12.4M642.5 576.1h12.4M650 559.2V572.5M643.8 559.2h12.4M643.8 572.5h12.4M651.2 558.5V571.6M645 558.5h12.4M645 571.6h12.4M652.5 561.2V574.2M646.3 561.2h12.4M646.3 574.2h12.4M653.8 567.1V580.1M647.6 567.1h12.4M647.6 580.1h12.4M655.1 564.4V577.2M648.9 564.4h12.4M648.9 577.2h12.4M656.4 571.5V584.2M650.2 571.5h12.4M650.2 584.2h12.4M657.7 570V582.6M651.5 570h12.4M651.5 582.6h12.4M659 578.3V590.8M652.8 578.3h12.4M652.8 590.8h12.4M660.3 579.1V591.4M654.1 579.1h12.4M654.1 591.4h12.4M661.5 569V581.3M655.3 569h12.4M655.3 581.3h12.4M662.8 576.4V588.6M656.6 576.4h12.4M656.6 588.6h12.4M664.1 582V594M657.9 582h12.4M657.9 594h12.4M665.4 578.6V590.6M659.2 578.6h12.4M659.2 590.6h12.4M666.7 589.5V601.3M660.5 589.5h12.4M660.5 601.3h12.4M668 585.4V597.1M661.8 585.4h12.4M661.8 597.1h12.4M669.3 588.1V599.8M663.1 588.1h12.4M663.1 599.8h12.4M670.5 586.9V598.4M664.3 586.9h12.4M664.3 598.4h12.4M671.8 590.2V601.7M665.6 590.2h12.4M665.6 601.7h12.4M673.1 592.6V604M666.9 592.6h12.4M666.9 604h12.4M674.4 586.4V597.7M668.2 586.4h12.4M668.2 597.7h12.4M675.7 590V601.1M669.5 590h12.4M669.5 601.1h12.4M677 590.9V601.9M670.8 590.9h12.4M670.8 601.9h12.4M678.3 601.9V612.9M672.1 601.9h12.4M672.1 612.9h12.4M679.6 597.8V608.7M673.4 597.8h12.4M673.4 608.7h12.4M680.8 599V609.8M674.6 599h12.4M674.6 609.8h12.4M682.1 599.2V609.9M675.9 599.2h12.4M675.9 609.9h12.4M683.4 597.6V608.3M677.2 597.6h12.4M677.2 608.3h12.4M684.7 597.6V608.3M678.5 597.6h12.4M678.5 608.3h12.4M686 603.9V614.5M679.8 603.9h12.4M679.8 614.5h12.4M687.3 599V609.6M681.1 599h12.4M681.1 609.6h12.4M688.6 607.7V618.3M682.4 607.7h12.4M682.4 618.3h12.4M689.8 603.7V614.2M683.6 603.7h12.4M683.6 614.2h12.4M691.1 604V614.4M684.9 604h12.4M684.9 614.4h12.4M692.4 603.6V614M686.2 603.6h12.4M686.2 614h12.4M693.7 604.7V615M687.5 604.7h12.4M687.5 615h12.4M695 605.6V615.9M688.8 605.6h12.4M688.8 615.9h12.4M696.3 611.1V621.3M690.1 611.1h12.4M690.1 621.3h12.4M697.6 614.2V624.4M691.4 614.2h12.4M691.4 624.4h12.4M698.9 603.6V613.8M692.7 603.6h12.4M692.7 613.8h12.4M700.1 608.7V618.8M693.9 608.7h12.4M693.9 618.8h12.4M701.4 610.7V620.8M695.2 610.7h12.4M695.2 620.8h12.4M702.7 606.2V616.2M696.5 606.2h12.4M696.5 616.2h12.4M704 605.5V615.5M697.8 605.5h12.4M697.8 615.5h12.4M705.3 608.7V618.7M699.1 608.7h12.4M699.1 618.7h12.4M706.6 603.3V613.2M700.4 603.3h12.4M700.4 613.2h12.4M707.9 613.1V623M701.7 613.1h12.4M701.7 623h12.4M709.1 611.5V621.3M702.9 611.5h12.4M702.9 621.3h12.4M710.4 611.8V621.6M704.2 611.8h12.4M704.2 621.6h12.4M711.7 612.8V622.5M705.5 612.8h12.4M705.5 622.5h12.4M713 613.7V623.4M706.8 613.7h12.4M706.8 623.4h12.4M714.3 620.1V629.9M708.1 620.1h12.4M708.1 629.9h12.4M715.6 614.2V623.9M709.4 614.2h12.4M709.4 623.9h12.4M716.9 616.4V626.1M710.7 616.4h12.4M710.7 626.1h12.4M718.2 612.8V622.5M712 612.8h12.4M712 622.5h12.4M719.4 615.6V625.3M713.2 615.6h12.4M713.2 625.3h12.4M720.7 614V623.6M714.5 614h12.4M714.5 623.6h12.4M722 614.8V624.3M715.8 614.8h12.4M715.8 624.3h12.4M723.3 612.9V622.4M717.1 612.9h12.4M717.1 622.4h12.4M724.6 613.4V622.9M718.4 613.4h12.4M718.4 622.9h12.4M725.9 617.3V626.8M719.7 617.3h12.4M719.7 626.8h12.4M727.2 618.3V627.9M721 618.3h12.4M721 627.9h12.4M728.5 619.2V628.7M722.3 619.2h12.4M722.3 628.7h12.4M729.7 614.8V624.2M723.5 614.8h12.4M723.5 624.2h12.4M731 617.8V627.2M724.8 617.8h12.4M724.8 627.2h12.4M732.3 609.9V619.3M726.1 609.9h12.4M726.1 619.3h12.4M733.6 620V629.4M727.4 620h12.4M727.4 629.4h12.4M734.9 617.4V626.8M728.7 617.4h12.4M728.7 626.8h12.4M736.2 618.5V627.9M730 618.5h12.4M730 627.9h12.4M737.5 621.2V630.6M731.3 621.2h12.4M731.3 630.6h12.4M738.7 617V626.3M732.5 617h12.4M732.5 626.3h12.4M740 621V630.4M733.8 621h12.4M733.8 630.4h12.4M741.3 617.3V626.6M735.1 617.3h12.4M735.1 626.6h12.4M742.6 620.3V629.6M736.4 620.3h12.4M736.4 629.6h12.4M743.9 617.8V627.1M737.7 617.8h12.4M737.7 627.1h12.4M745.2 620V629.3M739 620h12.4M739 629.3h12.4M746.5 623.4V632.7M740.3 623.4h12.4M740.3 632.7h12.4M747.8 617.8V627M741.6 617.8h12.4M741.6 627h12.4M749 618.1V627.3M742.8 618.1h12.4M742.8 627.3h12.4M750.3 619.1V628.3M744.1 619.1h12.4M744.1 628.3h12.4M751.6 621.1V630.2M745.4 621.1h12.4M745.4 630.2h12.4M752.9 628V637.2M746.7 628h12.4M746.7 637.2h12.4M754.2 619.1V628.2M748 619.1h12.4M748 628.2h12.4M755.5 609.2V618.3M749.3 609.2h12.4M749.3 618.3h12.4M756.8 619.3V628.4M750.6 619.3h12.4M750.6 628.4h12.4M758 617V626.1M751.8 617h12.4M751.8 626.1h12.4M759.3 620V629.1M753.1 620h12.4M753.1 629.1h12.4M760.6 621.9V631M754.4 621.9h12.4M754.4 631h12.4M761.9 619.3V628.4M755.7 619.3h12.4M755.7 628.4h12.4M763.2 620.3V629.3M757 620.3h12.4M757 629.3h12.4M764.5 617.3V626.3M758.3 617.3h12.4M758.3 626.3h12.4M765.8 623V632M759.6 623h12.4M759.6 632h12.4M767.1 620.7V629.7M760.9 620.7h12.4M760.9 629.7h12.4M768.3 625.9V634.9M762.1 625.9h12.4M762.1 634.9h12.4M769.6 626V634.9M763.4 626h12.4M763.4 634.9h12.4M770.9 621V630M764.7 621h12.4M764.7 630h12.4M772.2 622.6V631.5M766 622.6h12.4M766 631.5h12.4M773.5 623.9V632.8M767.3 623.9h12.4M767.3 632.8h12.4M774.8 626V634.8M768.6 626h12.4M768.6 634.8h12.4M776.1 619.7V628.5M769.9 619.7h12.4M769.9 628.5h12.4M777.4 624.1V633M771.2 624.1h12.4M771.2 633h12.4M778.6 635V643.8M772.4 635h12.4M772.4 643.8h12.4M779.9 624.4V633.3M773.7 624.4h12.4M773.7 633.3h12.4M781.2 625.4V634.2M775 625.4h12.4M775 634.2h12.4M782.5 625V633.8M776.3 625h12.4M776.3 633.8h12.4M783.8 622V630.8M777.6 622h12.4M777.6 630.8h12.4M785.1 627.9V636.6M778.9 627.9h12.4M778.9 636.6h12.4M786.4 626.2V635M780.2 626.2h12.4M780.2 635h12.4M787.6 626.1V634.9M781.4 626.1h12.4M781.4 634.9h12.4M788.9 627.8V636.5M782.7 627.8h12.4M782.7 636.5h12.4M790.2 628.1V636.8M784 628.1h12.4M784 636.8h12.4M791.5 621.2V629.9M785.3 621.2h12.4M785.3 629.9h12.4M792.8 627.6V636.3M786.6 627.6h12.4M786.6 636.3h12.4M794.1 623.4V632.1M787.9 623.4h12.4M787.9 632.1h12.4M795.4 627.1V635.8M789.2 627.1h12.4M789.2 635.8h12.4M796.7 625V633.6M790.5 625h12.4M790.5 633.6h12.4M797.9 624.7V633.4M791.7 624.7h12.4M791.7 633.4h12.4M799.2 629.6V638.2M793 629.6h12.4M793 638.2h12.4M800.5 627.3V635.9M794.3 627.3h12.4M794.3 635.9h12.4M801.8 626.7V635.3M795.6 626.7h12.4M795.6 635.3h12.4M803.1 626.2V634.8M796.9 626.2h12.4M796.9 634.8h12.4M804.4 628V636.5M798.2 628h12.4M798.2 636.5h12.4M805.7 627.9V636.4M799.5 627.9h12.4M799.5 636.4h12.4M806.9 622V630.5M800.7 622h12.4M800.7 630.5h12.4M808.2 625.9V634.5M802 625.9h12.4M802 634.5h12.4M809.5 627.7V636.2M803.3 627.7h12.4M803.3 636.2h12.4M810.8 630.4V638.9M804.6 630.4h12.4M804.6 638.9h12.4M812.1 632.1V640.6M805.9 632.1h12.4M805.9 640.6h12.4M813.4 626.4V634.9M807.2 626.4h12.4M807.2 634.9h12.4M814.7 633.8V642.3M808.5 633.8h12.4M808.5 642.3h12.4M816 629.3V637.7M809.8 629.3h12.4M809.8 637.7h12.4M817.2 630.4V638.9M811 630.4h12.4M811 638.9h12.4M818.5 628V636.4M812.3 628h12.4M812.3 636.4h12.4M819.8 627.9V636.4M813.6 627.9h12.4M813.6 636.4h12.4M821.1 633.2V641.7M814.9 633.2h12.4M814.9 641.7h12.4M822.4 629.2V637.6M816.2 629.2h12.4M816.2 637.6h12.4M823.7 629.6V638M817.5 629.6h12.4M817.5 638h12.4M825 632.9V641.3M818.8 632.9h12.4M818.8 641.3h12.4M826.2 634.5V642.8M820 634.5h12.4M820 642.8h12.4M827.5 622.6V630.9M821.3 622.6h12.4M821.3 630.9h12.4M828.8 629.9V638.3M822.6 629.9h12.4M822.6 638.3h12.4M830.1 630.5V638.8M823.9 630.5h12.4M823.9 638.8h12.4M831.4 635.2V643.5M825.2 635.2h12.4M825.2 643.5h12.4M832.7 643.9V652.2M826.5 643.9h12.4M826.5 652.2h12.4M834 630.7V639M827.8 630.7h12.4M827.8 639h12.4M835.3 631.9V640.2M829.1 631.9h12.4M829.1 640.2h12.4M836.5 633.2V641.5M830.3 633.2h12.4M830.3 641.5h12.4M837.8 634V642.3M831.6 634h12.4M831.6 642.3h12.4M839.1 630.4V638.7M832.9 630.4h12.4M832.9 638.7h12.4M840.4 633.4V641.7M834.2 633.4h12.4M834.2 641.7h12.4M841.7 629.7V637.9M835.5 629.7h12.4M835.5 637.9h12.4M843 624.8V633.1M836.8 624.8h12.4M836.8 633.1h12.4M844.3 628.1V636.4M838.1 628.1h12.4M838.1 636.4h12.4M845.6 632.2V640.4M839.4 632.2h12.4M839.4 640.4h12.4M846.8 633.6V641.9M840.6 633.6h12.4M840.6 641.9h12.4M848.1 626.2V634.4M841.9 626.2h12.4M841.9 634.4h12.4M849.4 627.4V635.6M843.2 627.4h12.4M843.2 635.6h12.4M850.7 631.8V640M844.5 631.8h12.4M844.5 640h12.4M852 623.6V631.8M845.8 623.6h12.4M845.8 631.8h12.4M853.3 633.4V641.6M847.1 633.4h12.4M847.1 641.6h12.4M854.6 634.7V642.9M848.4 634.7h12.4M848.4 642.9h12.4M855.8 624.8V633M849.6 624.8h12.4M849.6 633h12.4M857.1 634.1V642.3M850.9 634.1h12.4M850.9 642.3h12.4M858.4 631.8V640M852.2 631.8h12.4M852.2 640h12.4M859.7 635.8V644M853.5 635.8h12.4M853.5 644h12.4M861 634.2V642.4M854.8 634.2h12.4M854.8 642.4h12.4M862.3 631.9V640.1M856.1 631.9h12.4M856.1 640.1h12.4M863.6 632.8V641M857.4 632.8h12.4M857.4 641h12.4M864.9 634.9V643.1M858.7 634.9h12.4M858.7 643.1h12.4M866.1 633.1V641.3M859.9 633.1h12.4M859.9 641.3h12.4M867.4 632.8V641M861.2 632.8h12.4M861.2 641h12.4M868.7 629.2V637.4M862.5 629.2h12.4M862.5 637.4h12.4M870 634V642.1M863.8 634h12.4M863.8 642.1h12.4M871.3 632.9V641.1M865.1 632.9h12.4M865.1 641.1h12.4M872.6 637.4V645.6M866.4 637.4h12.4M866.4 645.6h12.4M873.9 632.9V641.1M867.7 632.9h12.4M867.7 641.1h12.4M875.1 632.8V640.9M868.9 632.8h12.4M868.9 640.9h12.4M876.4 631.5V639.7M870.2 631.5h12.4M870.2 639.7h12.4M877.7 634.9V643M871.5 634.9h12.4M871.5 643h12.4M879 632.5V640.6M872.8 632.5h12.4M872.8 640.6h12.4M880.3 631.5V639.6M874.1 631.5h12.4M874.1 639.6h12.4M881.6 637.2V645.3M875.4 637.2h12.4M875.4 645.3h12.4M882.9 637.6V645.7M876.7 637.6h12.4M876.7 645.7h12.4M884.2 632.2V640.3M878 632.2h12.4M878 640.3h12.4M885.4 630.9V639M879.2 630.9h12.4M879.2 639h12.4M886.7 636.2V644.3M880.5 636.2h12.4M880.5 644.3h12.4M888 629.6V637.7M881.8 629.6h12.4M881.8 637.7h12.4M889.3 640.4V648.5M883.1 640.4h12.4M883.1 648.5h12.4M890.6 633.2V641.3M884.4 633.2h12.4M884.4 641.3h12.4M891.9 638.9V647M885.7 638.9h12.4M885.7 647h12.4M893.2 630.5V638.5M887 630.5h12.4M887 638.5h12.4M894.4 633.6V641.6M888.2 633.6h12.4M888.2 641.6h12.4M895.7 636.4V644.4M889.5 636.4h12.4M889.5 644.4h12.4M897 634.8V642.9M890.8 634.8h12.4M890.8 642.9h12.4M898.3 632.5V640.5M892.1 632.5h12.4M892.1 640.5h12.4M899.6 639.8V647.8M893.4 639.8h12.4M893.4 647.8h12.4M900.9 635.6V643.7M894.7 635.6h12.4M894.7 643.7h12.4M902.2 633.3V641.4M896 633.3h12.4M896 641.4h12.4M903.5 632.5V640.5M897.3 632.5h12.4M897.3 640.5h12.4M904.7 633.3V641.4M898.5 633.3h12.4M898.5 641.4h12.4M906 637.3V645.3M899.8 637.3h12.4M899.8 645.3h12.4M907.3 632.2V640.2M901.1 632.2h12.4M901.1 640.2h12.4M908.6 634.1V642.2M902.4 634.1h12.4M902.4 642.2h12.4M909.9 632.1V640.1M903.7 632.1h12.4M903.7 640.1h12.4M911.2 637.2V645.2M905 637.2h12.4M905 645.2h12.4M912.5 633.8V641.8M906.3 633.8h12.4M906.3 641.8h12.4M913.8 636.3V644.3M907.6 636.3h12.4M907.6 644.3h12.4M915 635.6V643.6M908.8 635.6h12.4M908.8 643.6h12.4M916.3 632.9V640.9M910.1 632.9h12.4M910.1 640.9h12.4M917.6 636V644M911.4 636h12.4M911.4 644h12.4M918.9 636.6V644.6M912.7 636.6h12.4M912.7 644.6h12.4M920.2 631.6V639.6M914 631.6h12.4M914 639.6h12.4M921.5 636.1V644.1M915.3 636.1h12.4M915.3 644.1h12.4M922.8 643V651M916.6 643h12.4M916.6 651h12.4M924 633.7V641.7M917.8 633.7h12.4M917.8 641.7h12.4M925.3 636V644M919.1 636h12.4M919.1 644h12.4M926.6 631.3V639.3M920.4 631.3h12.4M920.4 639.3h12.4M927.9 635.6V643.6M921.7 635.6h12.4M921.7 643.6h12.4M929.2 633.1V641.1M923 633.1h12.4M923 641.1h12.4M930.5 636.4V644.4M924.3 636.4h12.4M924.3 644.4h12.4M931.8 634.5V642.5M925.6 634.5h12.4M925.6 642.5h12.4M933.1 631.8V639.8M926.9 631.8h12.4M926.9 639.8h12.4M934.3 637.3V645.3M928.1 637.3h12.4M928.1 645.3h12.4M935.6 634.2V642.1M929.4 634.2h12.4M929.4 642.1h12.4M936.9 632.3V640.2M930.7 632.3h12.4M930.7 640.2h12.4M938.2 634.9V642.9M932 634.9h12.4M932 642.9h12.4M939.5 632.4V640.4M933.3 632.4h12.4M933.3 640.4h12.4M940.8 635.7V643.7M934.6 635.7h12.4M934.6 643.7h12.4M942.1 634.7V642.6M935.9 634.7h12.4M935.9 642.6h12.4M943.3 633.9V641.9M937.1 633.9h12.4M937.1 641.9h12.4M944.6 636.5V644.4M938.4 636.5h12.4M938.4 644.4h12.4M945.9 631.8V639.8M939.7 631.8h12.4M939.7 639.8h12.4M947.2 637.2V645.2M941 637.2h12.4M941 645.2h12.4M948.5 630.1V638.1M942.3 630.1h12.4M942.3 638.1h12.4M949.8 638.8V646.8M943.6 638.8h12.4M943.6 646.8h12.4M951.1 635.4V643.4M944.9 635.4h12.4M944.9 643.4h12.4M952.4 634.4V642.3M946.2 634.4h12.4M946.2 642.3h12.4M953.6 633.3V641.2M947.4 633.3h12.4M947.4 641.2h12.4M954.9 636.4V644.3M948.7 636.4h12.4M948.7 644.3h12.4M956.2 634.7V642.6M950 634.7h12.4M950 642.6h12.4M957.5 634.7V642.6M951.3 634.7h12.4M951.3 642.6h12.4M958.8 637.6V645.5M952.6 637.6h12.4M952.6 645.5h12.4M960.1 634.1V642M953.9 634.1h12.4M953.9 642h12.4M961.4 634.6V642.5M955.2 634.6h12.4M955.2 642.5h12.4M962.6 636.2V644.1M956.4 636.2h12.4M956.4 644.1h12.4M963.9 637.8V645.7M957.7 637.8h12.4M957.7 645.7h12.4M965.2 634.9V642.8M959 634.9h12.4M959 642.8h12.4M966.5 635.6V643.6M960.3 635.6h12.4M960.3 643.6h12.4M967.8 635.4V643.3M961.6 635.4h12.4M961.6 643.3h12.4" fill="none" stroke="#00f" stroke-width="1"/>
<path d="M197 640l5.6 9.6h-11.2zM198.3 634.8l5.6 9.6h-11.2zM199.6 640.3l5.6 9.6h-11.2zM200.9 639.7l5.6 9.6h-11.2zM202.2 637.1l5.6 9.6h-11.2zM203.4 639.1l5.6 9.6h-11.2zM204.7 641.4l5.6 9.6h-11.2zM206 637.6l5.6 9.6h-11.2zM207.3 636.2l5.6 9.6h-11.2zM208.6 641.3l5.6 9.6h-11.2zM209.9 638.7l5.6 9.6h-11.2zM211.2 637.6l5.6 9.6h-11.2zM212.4 643.3l5.6 9.6h-11.2zM213.7 638.2l5.6 9.6h-11.2zM215 637.3l5.6 9.6h-11.2zM216.3 638.2l5.6 9.6h-11.2zM217.6 636.6l5.6 9.6h-11.2zM218.9 637.9l5.6 9.6h-11.2zM220.2 637.7l5.6 9.6h-11.2zM221.5 635.7l5.6 9.6h-11.2zM222.7 636.5l5.6 9.6h-11.2zM224 637.8l5.6 9.6h-11.2zM225.3 637.9l5.6 9.6h-11.2zM226.6 638.3l5.6 9.6h-11.2zM227.9 638.7l5.6 9.6h-11.2zM229.2 637.3l5.6 9.6h-11.2zM230.5 637.9l5.6 9.6h-11.2zM231.7 635.7l5.6 9.6h-11.2zM233 635.9l5.6 9.6h-11.2zM234.3 638.9l5.6 9.6h-11.2zM235.6 631.7l5.6 9.6h-11.2zM236.9 637.2l5.6 9.6h-11.2zM238.2 643.9l5.6 9.6h-11.2zM239.5 631.8l5.6 9.6h-11.2zM240.8 639.8l5.6 9.6h-11.2zM242 631.9l5.6 9.6h-11.2zM243.3 638.1l5.6 9.6h-11.2zM244.6 639.9l5.6 9.6h-11.2zM245.9 639.5l5.6 9.6h-11.2zM247.2 633.7l5.6 9.6h-11.2zM248.5 632.7l5.6 9.6h-11.2zM249.8 632.3l5.6 9.6h-11.2zM251 637.4l5.6 9.6h-11.2zM252.3 634.7l5.6 9.6h-11.2zM253.6 635.6l5.6 9.6h-11.2zM254.9 636.2l5.6 9.6h-11.2zM256.2 636.5l5.6 9.6h-11.2zM257.5 638.3l5.6 9.6h-11.2zM258.8 636.2l5.6 9.6h-11.2zM260.1 631.5l5.6 9.6h-11.2zM261.3 638.9l5.6 9.6h-11.2zM262.6 628.7l5.6 9.6h-11.2zM263.9 638.3l5.6 9.6h-11.2zM265.2 633.8l5.6 9.6h-11.2zM266.5 634.7l5.6 9.6h-11.2zM267.8 633.9l5.6 9.6h-11.2zM269.1 634.2l5.6 9.6h-11.2zM270.4 635l5.6 9.6h-11.2zM271.6 634.4l5.6 9.6h-11.2zM272.9 632.3l5.6 9.6h-11.2zM274.2 637l5.6 9.6h-11.2zM275.5 633.5l5.6 9.6h-11.2zM276.8 638.1l5.6 9.6h-11.2zM278.1 634.5l5.6 9.6h-11.2zM279.4 631.3l5.6 9.6h-11.2zM280.6 635.8l5.6 9.6h-11.2zM281.9 636.9l5.6 9.6h-11.2zM283.2 632.4l5.6 9.6h-11.2zM284.5 633.9l5.6 9.6h-11.2zM285.8 638l5.6 9.6h-11.2zM287.1 632.1l5.6 9.6h-11.2zM288.4 632.4l5.6 9.6h-11.2zM289.7 634.8l5.6 9.6h-11.2zM290.9 628.2l5.6 9.6h-11.2zM292.2 628.3l5.6 9.6h-11.2zM293.5 630.2l5.6 9.6h-11.2zM294.8 636.2l5.6 9.6h-11.2zM296.1 637.6l5.6 9.6h-11.2zM297.4 635.6l5.6 9.6h-11.2zM298.7 635l5.6 9.6h-11.2zM299.9 631l5.6 9.6h-11.2zM301.2 635.6l5.6 9.6h-11.2zM302.5 636.6l5.6 9.6h-11.2zM303.8 632l5.6 9.6h-11.2zM305.1 635.9l5.6 9.6h-11.2zM306.4 632.6l5.6 9.6h-11.2zM307.7 633.9l5.6 9.6h-11.2zM309 634.2l5.6 9.6h-11.2zM310.2 629.5l5.6 9.6h-11.2zM311.5 636.7l5.6 9.6h-11.2zM312.8 630.8l5.6 9.6h-11.2zM314.1 632.6l5.6 9.6h-11.2zM315.4 631.5l5.6 9.6h-11.2zM316.7 633.7l5.6 9.6h-11.2zM318 633.5l5.6 9.6h-11.2zM319.2 632.4l5.6 9.6h-11.2zM320.5 635.7l5.6 9.6h-11.2zM321.8 632.8l5.6 9.6h-11.2zM323.1 631l5.6 9.6h-11.2zM324.4 624.7l5.6 9.6h-11.2zM325.7 631l5.6 9.6h-11.2zM327 630.9l5.6 9.6h-11.2zM328.3 629.3l5.6 9.6h-11.2zM329.5 629.2l5.6 9.6h-11.2zM330.8 632.7l5.6 9.6h-11.2zM332.1 633.7l5.6 9.6h-11.2zM333.4 635.6l5.6 9.6h-11.2zM334.7 633.6l5.6 9.6h-11.2zM336 628.9l5.6 9.6h-11.2zM337.3 631.9l5.6 9.6h-11.2zM338.6 626.9l5.6 9.6h-11.2zM339.8 632l5.6 9.6h-11.2zM341.1 630.9l5.6 9.6h-11.2zM342.4 628.3l5.6 9.6h-11.2zM343.7 629.5l5.6 9.6h-11.2zM345 628.9l5.6 9.6h-11.2zM346.3 627.8l5.6 9.6h-11.2zM347.6 632.6l5.6 9.6h-11.2zM348.8 636.9l5.6 9.6h-11.2zM350.1 631l5.6 9.6h-11.2zM351.4 631.4l5.6 9.6h-11.2zM352.7 629l5.6 9.6h-11.2zM354 627.5l5.6 9.6h-11.2zM355.3 633.8l5.6 9.6h-11.2zM356.6 627.1l5.6 9.6h-11.2zM357.9 628.9l5.6 9.6h-11.2zM359.1 627.4l5.6 9.6h-11.2zM360.4 629l5.6 9.6h-11.2zM361.7 627.2l5.6 9.6h-11.2zM363 628.7l5.6 9.6h-11.2zM364.3 623.7l5.6 9.6h-11.2zM365.6 626.5l5.6 9.6h-11.2zM366.9 630.1l5.6 9.6h-11.2zM368.1 623.7l5.6 9.6h-11.2zM369.4 624.4l5.6 9.6h-11.2zM370.7 633.5l5.6 9.6h-11.2zM372 626.8l5.6 9.6h-11.2zM373.3 628.4l5.6 9.6h-11.2zM374.6 619.6l5.6 9.6h-11.2zM375.9 625.6l5.6 9.6h-11.2zM377.2 621.8l5.6 9.6h-11.2zM378.4 621.3l5.6 9.6h-11.2zM379.7 625.8l5.6 9.6h-11.2zM381 631.2l5.6 9.6h-11.2zM382.3 620.4l5.6 9.6h-11.2zM383.6 621.3l5.6 9.6h-11.2zM384.9 622.5l5.6 9.6h-11.2zM386.2 623.5l5.6 9.6h-11.2zM387.4 620.1l5.6 9.6h-11.2zM388.7 629.4l5.6 9.6h-11.2zM390 624.8l5.6 9.6h-11.2zM391.3 622l5.6 9.6h-11.2zM392.6 621.4l5.6 9.6h-11.2zM393.9 628.8l5.6 9.6h-11.2zM395.2 628.4l5.6 9.6h-11.2zM396.5 620.9l5.6 9.6h-11.2zM397.7 622.9l5.6 9.6h-11.2zM399 625.1l5.6 9.6h-11.2zM400.3 618.3l5.6 9.6h-11.2zM401.6 619.7l5.6 9.6h-11.2zM402.9 624.7l5.6 9.6h-11.2zM404.2 618.9l5.6 9.6h-11.2zM405.5 619.4l5.6 9.6h-11.2zM406.8 616.6l5.6 9.6h-11.2zM408 615.8l5.6 9.6h-11.2zM409.3 621.7l5.6 9.6h-11.2zM410.6 617.3l5.6 9.6h-11.2zM411.9 615.7l5.6 9.6h-11.2zM413.2 617.3l5.6 9.6h-11.2zM414.5 623.7l5.6 9.6h-11.2zM415.8 618.9l5.6 9.6h-11.2zM417 616.6l5.6 9.6h-11.2zM418.3 618.3l5.6 9.6h-11.2zM419.6 618.8l5.6 9.6h-11.2zM420.9 617.6l5.6 9.6h-11.2zM422.2 611.9l5.6 9.6h-11.2zM423.5 618.5l5.6 9.6h-11.2zM424.8 615.8l5.6 9.6h-11.2zM426.1 618.5l5.6 9.6h-11.2zM427.3 611.9l5.6 9.6h-11.2zM428.6 618.5l5.6 9.6h-11.2zM429.9 613.7l5.6 9.6h-11.2zM431.2 609.9l5.6 9.6h-11.2zM432.5 618.4l5.6 9.6h-11.2zM433.8 611.1l5.6 9.6h-11.2zM435.1 615l5.6 9.6h-11.2zM436.3 613.1l5.6 9.6h-11.2zM437.6 616.5l5.6 9.6h-11.2zM438.9 616.2l5.6 9.6h-11.2zM440.2 615.9l5.6 9.6h-11.2zM441.5 614.4l5.6 9.6h-11.2zM442.8 607.1l5.6 9.6h-11.2zM444.1 606.5l5.6 9.6h-11.2zM445.4 611.8l5.6 9.6h-11.2zM446.6 607.9l5.6 9.6h-11.2zM447.9 611.9l5.6 9.6h-11.2zM449.2 610.6l5.6 9.6h-11.2zM450.5 605.3l5.6 9.6h-11.2zM451.8 606.1l5.6 9.6h-11.2zM453.1 601.4l5.6 9.6h-11.2zM454.4 605.7l5.6 9.6h-11.2zM455.7 607.3l5.6 9.6h-11.2zM456.9 609.7l5.6 9.6h-11.2zM458.2 611.4l5.6 9.6h-11.2zM459.5 603.5l5.6 9.6h-11.2zM460.8 604.3l5.6 9.6h-11.2zM462.1 610.6l5.6 9.6h-11.2zM463.4 611.2l5.6 9.6h-11.2zM464.7 605.3l5.6 9.6h-11.2zM465.9 596.1l5.6 9.6h-11.2zM467.2 599.9l5.6 9.6h-11.2zM468.5 603.7l5.6 9.6h-11.2zM469.8 599.9l5.6 9.6h-11.2zM471.1 608l5.6 9.6h-11.2zM472.4 600.7l5.6 9.6h-11.2zM473.7 600.6l5.6 9.6h-11.2zM475 594.9l5.6 9.6h-11.2zM476.2 594.2l5.6 9.6h-11.2zM477.5 594.6l5.6 9.6h-11.2zM478.8 593.9l5.6 9.6h-11.2zM480.1 594.4l5.6 9.6h-11.2zM481.4 595.8l5.6 9.6h-11.2zM482.7 594.4l5.6 9.6h-11.2zM484 596.5l5.6 9.6h-11.2zM485.2 586.6l5.6 9.6h-11.2zM486.5 591.7l5.6 9.6h-11.2zM487.8 591l5.6 9.6h-11.2zM489.1 595.4l5.6 9.6h-11.2zM490.4 587.3l5.6 9.6h-11.2zM491.7 588.5l5.6 9.6h-11.2zM493 582.8l5.6 9.6h-11.2zM494.3 586.8l5.6 9.6h-11.2zM495.5 585.5l5.6 9.6h-11.2zM496.8 579.9l5.6 9.6h-11.2zM498.1 579.3l5.6 9.6h-11.2zM499.4 579.5l5.6 9.6h-11.2zM500.7 580.5l5.6 9.6h-11.2zM502 570.9l5.6 9.6h-11.2zM503.3 578.2l5.6 9.6h-11.2zM504.5 568.8l5.6 9.6h-11.2zM505.8 579.1l5.6 9.6h-11.2zM507.1 575l5.6 9.6h-11.2zM508.4 563.4l5.6 9.6h-11.2zM509.7 556.2l5.6 9.6h-11.2zM511 573.2l5.6 9.6h-11.2zM512.3 561l5.6 9.6h-11.2zM513.6 557.8l5.6 9.6h-11.2zM514.8 549.3l5.6 9.6h-11.2zM516.1 547.8l5.6 9.6h-11.2zM517.4 550.2l5.6 9.6h-11.2zM518.7 545.8l5.6 9.6h-11.2zM520 533.3l5.6 9.6h-11.2zM521.3 542.8l5.6 9.6h-11.2zM522.6 533l5.6 9.6h-11.2zM523.9 520.3l5.6 9.6h-11.2zM525.1 529.6l5.6 9.6h-11.2zM526.4 516.8l5.6 9.6h-11.2zM527.7 519.3l5.6 9.6h-11.2zM529 504.3l5.6 9.6h-11.2zM530.3 506.1l5.6 9.6h-11.2zM531.6 470.7l5.6 9.6h-11.2zM532.9 497.9l5.6 9.6h-11.2zM534.1 472.5l5.6 9.6h-11.2zM535.4 479l5.6 9.6h-11.2zM536.7 424.3l5.6 9.6h-11.2zM538 460.4l5.6 9.6h-11.2zM539.3 458.2l5.6 9.6h-11.2zM540.6 446.3l5.6 9.6h-11.2zM541.9 441.7l5.6 9.6h-11.2zM543.2 407.9l5.6 9.6h-11.2zM544.4 419.5l5.6 9.6h-11.2zM545.7 403.9l5.6 9.6h-11.2zM547 354.4l5.6 9.6h-11.2zM548.3 328.5l5.6 9.6h-11.2zM549.6 296.4l5.6 9.6h-11.2zM550.9 270.9l5.6 9.6h-11.2zM552.2 244.8l5.6 9.6h-11.2zM553.4 175.2l5.6 9.6h-11.2zM554.7 178.1l5.6 9.6h-11.2zM556 126.9l5.6 9.6h-11.2zM557.3 65.1l5.6 9.6h-11.2zM558.6 20l5.6 9.6h-11.2zM597.2 29.8l5.6 9.6h-11.2zM598.5 121.6l5.6 9.6h-11.2zM599.8 215l5.6 9.6h-11.2zM601.1 241.9l5.6 9.6h-11.2zM602.3 305.4l5.6 9.6h-11.2zM603.6 293.6l5.6 9.6h-11.2zM604.9 327l5.6 9.6h-11.2zM606.2 340.6l5.6 9.6h-11.2zM607.5 359.7l5.6 9.6h-11.2zM608.8 368.9l5.6 9.6h-11.2zM610.1 380.6l5.6 9.6h-11.2zM611.4 390.4l5.6 9.6h-11.2zM612.6 414.6l5.6 9.6h-11.2zM613.9 430.6l5.6 9.6h-11.2zM615.2 434l5.6 9.6h-11.2zM616.5 445.3l5.6 9.6h-11.2zM617.8 444.7l5.6 9.6h-11.2zM619.1 447.2l5.6 9.6h-11.2zM620.4 470l5.6 9.6h-11.2zM621.6 472.7l5.6 9.6h-11.2zM622.9 486.4l5.6 9.6h-11.2zM624.2 470.9l5.6 9.6h-11.2zM625.5 513.2l5.6 9.6h-11.2zM626.8 487.4l5.6 9.6h-11.2zM628.1 503l5.6 9.6h-11.2zM629.4 515.5l5.6 9.6h-11.2zM630.7 502.5l5.6 9.6h-11.2zM631.9 513.7l5.6 9.6h-11.2zM633.2 508l5.6 9.6h-11.2zM634.5 505.5l5.6 9.6h-11.2zM635.8 516.7l5.6 9.6h-11.2zM637.1 533.6l5.6 9.6h-11.2zM638.4 537.8l5.6 9.6h-11.2zM639.7 536.8l5.6 9.6h-11.2zM640.9 549.3l5.6 9.6h-11.2zM642.2 552.6l5.6 9.6h-11.2zM643.5 546.9l5.6 9.6h-11.2zM644.8 546.9l5.6 9.6h-11.2zM646.1 550.5l5.6 9.6h-11.2zM647.4 551.9l5.6 9.6h-11.2zM648.7 563.8l5.6 9.6h-11.2zM650 560.3l5.6 9.6h-11.2zM651.2 559.4l5.6 9.6h-11.2zM652.5 562.1l5.6 9.6h-11.2zM653.8 568l5.6 9.6h-11.2zM655.1 565.2l5.6 9.6h-11.2zM656.4 572.2l5.6 9.6h-11.2zM657.7 570.7l5.6 9.6h-11.2zM659 578.9l5.6 9.6h-11.2zM660.3 579.6l5.6 9.6h-11.2zM661.5 569.6l5.6 9.6h-11.2zM662.8 576.9l5.6 9.6h-11.2zM664.1 582.4l5.6 9.6h-11.2zM665.4 579l5.6 9.6h-11.2zM666.7 589.8l5.6 9.6h-11.2zM668 585.6l5.6 9.6h-11.2zM669.3 588.3l5.6 9.6h-11.2zM670.5 587l5.6 9.6h-11.2zM671.8 590.3l5.6 9.6h-11.2zM673.1 592.7l5.6 9.6h-11.2zM674.4 586.5l5.6 9.6h-11.2zM675.7 589.9l5.6 9.6h-11.2zM677 590.8l5.6 9.6h-11.2zM678.3 601.8l5.6 9.6h-11.2zM679.6 597.7l5.6 9.6h-11.2zM680.8 598.8l5.6 9.6h-11.2zM682.1 599l5.6 9.6h-11.2zM683.4 597.3l5.6 9.6h-11.2zM684.7 597.3l5.6 9.6h-11.2zM686 603.6l5.6 9.6h-11.2zM687.3 598.7l5.6 9.6h-11.2zM688.6 607.4l5.6 9.6h-11.2zM689.8 603.3l5.6 9.6h-11.2zM691.1 603.6l5.6 9.6h-11.2zM692.4 603.2l5.6 9.6h-11.2zM693.7 604.3l5.6 9.6h-11.2zM695 605.2l5.6 9.6h-11.2zM696.3 610.6l5.6 9.6h-11.2zM697.6 613.7l5.6 9.6h-11.2zM698.9 603.1l5.6 9.6h-11.2zM700.1 608.2l5.6 9.6h-11.2zM701.4 610.1l5.6 9.6h-11.2zM702.7 605.6l5.6 9.6h-11.2zM704 604.9l5.6 9.6h-11.2zM705.3 608.1l5.6 9.6h-11.2zM706.6 602.6l5.6 9.6h-11.2zM707.9 612.5l5.6 9.6h-11.2zM709.1 610.8l5.6 9.6h-11.2zM710.4 611.1l5.6 9.6h-11.2zM711.7 612.1l5.6 9.6h-11.2zM713 612.9l5.6 9.6h-11.2zM714.3 619.4l5.6 9.6h-11.2zM715.6 613.5l5.6 9.6h-11.2zM716.9 615.7l5.6 9.6h-11.2zM718.2 612l5.6 9.6h-11.2zM719.4 614.9l5.6 9.6h-11.2zM720.7 613.2l5.6 9.6h-11.2zM722 614l5.6 9.6h-11.2zM723.3 612l5.6 9.6h-11.2zM724.6 612.5l5.6 9.6h-11.2zM725.9 616.4l5.6 9.6h-11.2zM727.2 617.5l5.6 9.6h-11.2zM728.5 618.4l5.6 9.6h-11.2zM729.7 613.9l5.6 9.6h-11.2zM731 616.9l5.6 9.6h-11.2zM732.3 609l5.6 9.6h-11.2zM733.6 619.1l5.6 9.6h-11.2zM734.9 616.5l5.6 9.6h-11.2zM736.2 617.6l5.6 9.6h-11.2zM737.5 620.3l5.6 9.6h-11.2zM738.7 616l5.6 9.6h-11.2zM740 620.1l5.6 9.6h-11.2zM741.3 616.4l5.6 9.6h-11.2zM742.6 619.3l5.6 9.6h-11.2zM743.9 616.9l5.6 9.6h-11.2zM745.2 619l5.6 9.6h-11.2zM746.5 622.4l5.6 9.6h-11.2zM747.8 616.8l5.6 9.6h-11.2zM749 617.1l5.6 9.6h-11.2zM750.3 618.1l5.6 9.6h-11.2zM751.6 620.1l5.6 9.6h-11.2zM752.9 627l5.6 9.6h-11.2zM754.2 618l5.6 9.6h-11.2zM755.5 608.1l5.6 9.6h-11.2zM756.8 618.3l5.6 9.6h-11.2zM758 615.9l5.6 9.6h-11.2zM759.3 618.9l5.6 9.6h-11.2zM760.6 620.8l5.6 9.6h-11.2zM761.9 618.2l5.6 9.6h-11.2zM763.2 619.2l5.6 9.6h-11.2zM764.5 616.2l5.6 9.6h-11.2zM765.8 621.9l5.6 9.6h-11.2zM767.1 619.6l5.6 9.6h-11.2zM768.3 624.8l5.6 9.6h-11.2zM769.6 624.9l5.6 9.6h-11.2zM770.9 619.9l5.6 9.6h-11.2zM772.2 621.4l5.6 9.6h-11.2zM773.5 622.7l5.6 9.6h-11.2zM774.8 624.8l5.6 9.6h-11.2zM776.1 618.5l5.6 9.6h-11.2zM777.4 622.9l5.6 9.6h-11.2zM778.6 633.8l5.6 9.6h-11.2zM779.9 623.2l5.6 9.6h-11.2zM781.2 624.2l5.6 9.6h-11.2zM782.5 623.8l5.6 9.6h-11.2zM783.8 620.8l5.6 9.6h-11.2zM785.1 626.7l5.6 9.6h-11.2zM786.4 625l5.6 9.6h-11.2zM787.6 624.9l5.6 9.6h-11.2zM788.9 626.5l5.6 9.6h-11.2zM790.2 626.9l5.6 9.6h-11.2zM791.5 620l5.6 9.6h-11.2zM792.8 626.4l5.6 9.6h-11.2zM794.1 622.2l5.6 9.6h-11.2zM795.4 625.8l5.6 9.6h-11.2zM796.7 623.7l5.6 9.6h-11.2zM797.9 623.5l5.6 9.6h-11.2zM799.2 628.3l5.6 9.6h-11.2zM800.5 626l5.6 9.6h-11.2zM801.8 625.4l5.6 9.6h-11.2zM803.1 624.9l5.6 9.6h-11.2zM804.4 626.6l5.6 9.6h-11.2zM805.7 626.5l5.6 9.6h-11.2zM806.9 620.6l5.6 9.6h-11.2zM808.2 624.6l5.6 9.6h-11.2zM809.5 626.4l5.6 9.6h-11.2zM810.8 629l5.6 9.6h-11.2zM812.1 630.7l5.6 9.6h-11.2zM813.4 625l5.6 9.6h-11.2zM814.7 632.5l5.6 9.6h-11.2zM816 627.9l5.6 9.6h-11.2zM817.2 629l5.6 9.6h-11.2zM818.5 626.6l5.6 9.6h-11.2zM819.8 626.5l5.6 9.6h-11.2zM821.1 631.8l5.6 9.6h-11.2zM822.4 627.8l5.6 9.6h-11.2zM823.7 628.2l5.6 9.6h-11.2zM825 631.5l5.6 9.6h-11.2zM826.2 633.1l5.6 9.6h-11.2zM827.5 621.1l5.6 9.6h-11.2zM828.8 628.5l5.6 9.6h-11.2zM830.1 629.1l5.6 9.6h-11.2zM831.4 633.7l5.6 9.6h-11.2zM832.7 642.5l5.6 9.6h-11.2zM834 629.3l5.6 9.6h-11.2zM835.3 630.4l5.6 9.6h-11.2zM836.5 631.8l5.6 9.6h-11.2zM837.8 632.6l5.6 9.6h-11.2zM839.1 629l5.6 9.6h-11.2zM840.4 632l5.6 9.6h-11.2zM841.7 628.2l5.6 9.6h-11.2zM843 623.4l5.6 9.6h-11.2zM844.3 626.6l5.6 9.6h-11.2zM845.6 630.7l5.6 9.6h-11.2zM846.8 632.1l5.6 9.6h-11.2zM848.1 624.7l5.6 9.6h-11.2zM849.4 625.9l5.6 9.6h-11.2zM850.7 630.3l5.6 9.6h-11.2zM852 622.1l5.6 9.6h-11.2zM853.3 631.9l5.6 9.6h-11.2zM854.6 633.2l5.6 9.6h-11.2zM855.8 623.3l5.6 9.6h-11.2zM857.1 632.6l5.6 9.6h-11.2zM858.4 630.3l5.6 9.6h-11.2zM859.7 634.3l5.6 9.6h-11.2zM861 632.7l5.6 9.6h-11.2zM862.3 630.4l5.6 9.6h-11.2zM863.6 631.3l5.6 9.6h-11.2zM864.9 633.4l5.6 9.6h-11.2zM866.1 631.6l5.6 9.6h-11.2zM867.4 631.3l5.6 9.6h-11.2zM868.7 627.7l5.6 9.6h-11.2zM870 632.5l5.6 9.6h-11.2zM871.3 631.4l5.6 9.6h-11.2zM872.6 635.9l5.6 9.6h-11.2zM873.9 631.4l5.6 9.6h-11.2zM875.1 631.3l5.6 9.6h-11.2zM876.4 630l5.6 9.6h-11.2zM877.7 633.3l5.6 9.6h-11.2zM879 630.9l5.6 9.6h-11.2zM880.3 629.9l5.6 9.6h-11.2zM881.6 635.6l5.6 9.6h-11.2zM882.9 636.1l5.6 9.6h-11.2zM884.2 630.7l5.6 9.6h-11.2zM885.4 629.3l5.6 9.6h-11.2zM886.7 634.6l5.6 9.6h-11.2zM888 628l5.6 9.6h-11.2zM889.3 638.8l5.6 9.6h-11.2zM890.6 631.7l5.6 9.6h-11.2zM891.9 637.3l5.6 9.6h-11.2zM893.2 628.9l5.6 9.6h-11.2zM894.4 632l5.6 9.6h-11.2zM895.7 634.8l5.6 9.6h-11.2zM897 633.2l5.6 9.6h-11.2zM898.3 630.9l5.6 9.6h-11.2zM899.6 638.2l5.6 9.6h-11.2zM900.9 634.1l5.6 9.6h-11.2zM902.2 631.8l5.6 9.6h-11.2zM903.5 630.9l5.6 9.6h-11.2zM904.7 631.7l5.6 9.6h-11.2zM906 635.7l5.6 9.6h-11.2zM907.3 630.6l5.6 9.6h-11.2zM908.6 632.6l5.6 9.6h-11.2zM909.9 630.5l5.6 9.6h-11.2zM911.2 635.6l5.6 9.6h-11.2zM912.5 632.2l5.6 9.6h-11.2zM913.8 634.7l5.6 9.6h-11.2zM915 634l5.6 9.6h-11.2zM916.3 631.3l5.6 9.6h-11.2zM917.6 634.4l5.6 9.6h-11.2zM918.9 635l5.6 9.6h-11.2zM920.2 630l5.6 9.6h-11.2zM921.5 634.5l5.6 9.6h-11.2zM922.8 641.4l5.6 9.6h-11.2zM924 632.1l5.6 9.6h-11.2zM925.3 634.4l5.6 9.6h-11.2zM926.6 629.7l5.6 9.6h-11.2zM927.9 634l5.6 9.6h-11.2zM929.2 631.5l5.6 9.6h-11.2zM930.5 634.8l5.6 9.6h-11.2zM931.8 632.9l5.6 9.6h-11.2zM933.1 630.2l5.6 9.6h-11.2zM934.3 635.7l5.6 9.6h-11.2zM935.6 632.6l5.6 9.6h-11.2zM936.9 630.7l5.6 9.6h-11.2zM938.2 633.3l5.6 9.6h-11.2zM939.5 630.8l5.6 9.6h-11.2zM940.8 634.1l5.6 9.6h-11.2zM942.1 633l5.6 9.6h-11.2zM943.3 632.3l5.6 9.6h-11.2zM944.6 634.8l5.6 9.6h-11.2zM945.9 630.2l5.6 9.6h-11.2zM947.2 635.6l5.6 9.6h-11.2zM948.5 628.5l5.6 9.6h-11.2zM949.8 637.2l5.6 9.6h-11.2zM951.1 633.8l5.6 9.6h-11.2zM952.4 632.7l5.6 9.6h-11.2zM953.6 631.6l5.6 9.6h-11.2zM954.9 634.7l5.6 9.6h-11.2zM956.2 633.1l5.6 9.6h-11.2zM957.5 633l5.6 9.6h-11.2zM958.8 636l5.6 9.6h-11.2zM960.1 632.5l5.6 9.6h-11.2zM961.4 633l5.6 9.6h-11.2zM962.6 634.6l5.6 9.6h-11.2zM963.9 636.1l5.6 9.6h-11.2zM965.2 633.2l5.6 9.6h-11.2zM966.5 634l5.6 9.6h-11.2zM967.8 633.7l5.6 9.6h-11.2z" fill="#00f"/>
<path d="M197 656L197.3 646L198.3 641.9L199.6 641.1L200.9 641.1L202.2 642L203.4 642L204.7 640.1L206 638.5L207.3 639.3L208.6 641.2L209.9 639.6L211.2 639.3L212.4 639.4L213.7 641.3L215 639.7L216.3 639.2L217.6 638.8L218.9 638.3L220.2 642.1L221.5 639.2L222.7 639.3L224 638.7L225.3 640L226.6 637.9L227.9 636.9L229.2 638.2L230.5 639L231.7 640.9L233 638.5L234.3 637.6L235.6 638.2L236.9 637.6L238.2 637.5L239.5 638.4L240.8 638.5L242 637.5L243.3 639.2L244.6 638L245.9 638.2L247.2 637.5L248.5 638.3L249.8 638.4L251 638.6L252.3 637.1L253.6 638.5L254.9 637.2L256.2 637.9L257.5 638.5L258.8 639.2L260.1 637.2L261.3 636.5L262.6 637.7L263.9 638.8L265.2 637.2L266.5 639.9L267.8 635.6L269.1 638.9L270.4 638.6L271.6 638.5L272.9 636.5L274.2 638.6L275.5 638.4L276.8 638.4L278.1 636.9L279.4 636.9L280.6 638.4L281.9 637.4L283.2 636.6L284.5 636.1L285.8 637.2L287.1 635.5L288.4 637.4L289.7 636.9L290.9 635.2L292.2 637.1L293.5 637.8L294.8 636.8L296.1 635.2L297.4 635.9L298.7 637.3L299.9 635.1L301.2 636L302.5 637.4L303.8 636L305.1 635.6L306.4 637L307.7 637.7L309 636.4L310.2 634.7L311.5 634.3L312.8 635.6L314.1 634L315.4 635.7L316.7 636.6L318 633L319.2 635.4L320.5 635.8L321.8 634.9L323.1 635.8L324.4 635.8L325.7 636.3L327 637.9L328.3 635.4L329.5 634.1L330.8 633.9L332.1 633.6L333.4 635.5L334.7 635L336 635.1L337.3 634.7L338.6 636L339.8 635.4L341.1 635.3L342.4 633.5L343.7 633.7L345 632.7L346.3 633.2L347.6 633.9L348.8 632.4L350.1 632.9L351.4 635.5L352.7 633.2L354 631.7L355.3 631.9L356.6 632.9L357.9 633.7L359.1 632.7L360.4 633.5L361.7 632.8L363 631.3L364.3 633.2L365.6 631.6L366.9 633.8L368.1 631.2L369.4 631.5L370.7 630.9L372 631L373.3 631.6L374.6 630.8L375.9 632L377.2 631.1L378.4 632L379.7 630.3L381 631.4L382.3 631.1L383.6 629.6L384.9 632L386.2 630.8L387.4 629.7L388.7 628.8L390 628.7L391.3 628.4L392.6 628.6L393.9 627L395.2 628L396.5 627.1L397.7 629.2L399 628.1L400.3 628.7L401.6 629.2L402.9 627.1L404.2 628.4L405.5 626.5L406.8 626.5L408 624.7L409.3 625.5L410.6 626.5L411.9 625.4L413.2 624.2L414.5 624.3L415.8 623.3L417 623.1L418.3 622.1L419.6 624.3L420.9 624L422.2 622.5L423.5 621L424.8 621.8L426.1 623.7L427.3 620.1L428.6 620.6L429.9 620.4L431.2 621.3L432.5 619L433.8 620.1L435.1 618.8L436.3 618.9L437.6 617.7L438.9 619.1L440.2 617.8L441.5 617.3L442.8 618.6L444.1 617.6L445.4 619.1L446.6 616.9L447.9 616.2L449.2 615.9L450.5 618L451.8 616.2L453.1 614.3L454.4 614.4L455.7 613.2L456.9 613.9L458.2 612.3L459.5 611.8L460.8 612.2L462.1 612.6L463.4 611.6L464.7 610.9L465.9 609.6L467.2 606.7L468.5 608.1L469.8 607.4L471.1 607.3L472.4 607.7L473.7 606L475 602.8L476.2 603.6L477.5 602.5L478.8 602.5L480.1 600.9L481.4 598.3L482.7 598.4L484 598L485.2 595.6L486.5 596.5L487.8 595.4L489.1 595.8L490.4 593.7L491.7 592.3L493 591.7L494.3 590.7L495.5 590.4L496.8 587.4L498.1 584.9L499.4 587.6L500.7 584.2L502 581.8L503.3 581.8L504.5 576.8L505.8 575L507.1 573.1L508.4 571.5L509.7 568.2L511 566.6L512.3 562.9L513.6 561.3L514.8 557.7L516.1 553L517.4 551L518.7 546.8L520 544L521.3 540.4L522.6 538.1L523.9 532.3L525.1 527.1L526.4 523.8L527.7 518.3L529 515.3L530.3 509.3L531.6 504.2L532.9 497L534.1 490L535.4 483.4L536.7 474.5L538 466.1L539.3 457.1L540.6 447.4L541.9 435.6L543.2 423L544.4 410.4L545.7 393.2L547 372.5L548.3 343L549.6 308.6L550.9 276.6L552.2 245.5L553.4 212.9L554.7 176L556 136.2L557.3 85.7L558.6 10.9L559.9 -60L561.2 -60L562.5 -60L563.7 -60L565 -60L566.3 -60L567.6 -60L568.9 -60L570.2 -60L571.5 -60L572.7 -60L574 -60L575.3 -60L576.6 -60L577.9 -60L579.2 -60L580.5 -60L581.8 -60L583 -60L584.3 -60L585.6 -60L586.9 -60L588.2 -60L589.5 -60L590.8 -60L592.1 -60L593.3 -60L594.6 -60L595.9 -60L597.2 36.4L598.5 132L599.8 206L601.1 268.6L602.3 304.8L603.6 325.7L604.9 341.2L606.2 353.1L607.5 364.8L608.8 373.8L610.1 383.1L611.4 394.2L612.6 407L613.9 420.6L615.2 433.3L616.5 444.5L617.8 453.6L619.1 463.2L620.4 471.1L621.6 478.6L622.9 484.3L624.2 491.8L625.5 497.8L626.8 503.6L628.1 506.8L629.4 512.4L630.7 518.8L631.9 522.8L633.2 528.2L634.5 531.8L635.8 536L637.1 538.2L638.4 540.8L639.7 544.8L640.9 547L642.2 549L643.5 551.1L644.8 557.7L646.1 557.4L647.4 559.9L648.7 560.8L650 563.8L651.2 566.7L652.5 569.2L653.8 571.6L655.1 572.2L656.4 575.1L657.7 577.5L659 577.8L660.3 579.9L661.5 580.1L662.8 582.6L664.1 583.7L665.4 587.1L666.7 588L668 591.2L669.3 591.7L670.5 593.9L671.8 595.2L673.1 596.5L674.4 596.8L675.7 600.5L677 600.1L678.3 599.6L679.6 601.7L680.8 602.1L682.1 605.1L683.4 605.8L684.7 607L686 608.4L687.3 606.4L688.6 605.8L689.8 607.4L691.1 609.3L692.4 606.9L693.7 609.5L695 611.5L696.3 610.5L697.6 611.7L698.9 611.5L700.1 614.7L701.4 615.4L702.7 613.1L704 613.8L705.3 615.2L706.6 616.3L707.9 616.5L709.1 617.2L710.4 618L711.7 618.7L713 619.7L714.3 618.4L715.6 618.1L716.9 618.9L718.2 621.5L719.4 620.4L720.7 620.6L722 621.5L723.3 621.6L724.6 623L725.9 620L727.2 621.3L728.5 622.1L729.7 622.4L731 621.4L732.3 620.3L733.6 621.9L734.9 621.7L736.2 622.4L737.5 623.9L738.7 623.6L740 622L741.3 622.6L742.6 623.7L743.9 624.9L745.2 623.8L746.5 624.3L747.8 622.7L749 624L750.3 623.9L751.6 625.1L752.9 624.8L754.2 624.4L755.5 624.4L756.8 625.9L758 625.2L759.3 627.2L760.6 626.4L761.9 626.2L763.2 627.6L764.5 625.6L765.8 628L767.1 626.5L768.3 628.2L769.6 626.9L770.9 626.8L772.2 626.1L773.5 628.2L774.8 628.8L776.1 627.1L777.4 630.5L778.6 628.9L779.9 627.9L781.2 631.2L782.5 629L783.8 631L785.1 626.8L786.4 632.1L787.6 630.2L788.9 630.2L790.2 630.7L791.5 629.3L792.8 631.6L794.1 631.2L795.4 631.3L796.7 630.5L797.9 630L799.2 631.7L800.5 632.4L801.8 631.8L803.1 631.6L804.4 631.4L805.7 632.8L806.9 633.7L808.2 632.2L809.5 631.6L810.8 635.1L812.1 631.2L813.4 633.1L814.7 632.9L816 634.5L817.2 633.1L818.5 631.7L819.8 632.4L821.1 633.8L822.4 633.8L823.7 633.2L825 633.5L826.2 632.6L827.5 632.8L828.8 633.8L830.1 633.8L831.4 634.5L832.7 633.5L834 636.4L835.3 633.1L836.5 635.9L837.8 635.7L839.1 636.8L840.4 636.7L841.7 634L843 635.8L844.3 636.3L845.6 636.5L846.8 636.1L848.1 635.1L849.4 637.1L850.7 635.7L852 635.4L853.3 636.1L854.6 635.5L855.8 635.4L857.1 636.2L858.4 638.9L859.7 636.6L861 636.4L862.3 635.9L863.6 636.7L864.9 635.2L866.1 637L867.4 636.8L868.7 636.7L870 637.1L871.3 636.5L872.6 637.4L873.9 637.3L875.1 637.4L876.4 636.9L877.7 637.8L879 636.8L880.3 638.3L881.6 636.9L882.9 638.4L884.2 637.4L885.4 637.1L886.7 636.2L888 637.9L889.3 637.6L890.6 637.4L891.9 637.8L893.2 637.5L894.4 636.5L895.7 636.3L897 638.1L898.3 637.7L899.6 639.1L900.9 639.6L902.2 638.5L903.5 638.3L904.7 638.3L906 637.8L907.3 637.1L908.6 635.1L909.9 638.6L911.2 638.5L912.5 637.9L913.8 638.1L915 638.9L916.3 638.9L917.6 638.2L918.9 637.8L920.2 638.7L921.5 638.9L922.8 640.4L924 637.2L925.3 638.7L926.6 637.3L927.9 637.8L929.2 640.7L930.5 637.9L931.8 638.2L933.1 637.7L934.3 639.2L935.6 638L936.9 636.7L938.2 638.6L939.5 639.3L940.8 638.4L942.1 638.7L943.3 637.8L944.6 637.6L945.9 638.6L947.2 637.4L948.5 638.2L949.8 637.6L951.1 638.4L952.4 639.5L953.6 638.7L954.9 639.9L956.2 639.1L957.5 638.6L958.8 637.8L960.1 638.9L961.4 637.6L962.6 639.6L963.9 637.5L965.5 641.5L966.8 645L967.6 650L968.2 656" fill="none" stroke="#000" stroke-width="2.6" stroke-linejoin="round"/>
<path d="M197 634.3V644.2M190.8 634.3h12.4M190.8 644.2h12.4M198.3 627.1V637.1M192.1 627.1h12.4M192.1 637.1h12.4M199.6 632V642M193.4 632h12.4M193.4 642h12.4M200.9 634.4V644.5M194.7 634.4h12.4M194.7 644.5h12.4M202.2 631.3V641.4M196 631.3h12.4M196 641.4h12.4M203.4 629.9V640M197.2 629.9h12.4M197.2 640h12.4M204.7 633.1V643.2M198.5 633.1h12.4M198.5 643.2h12.4M206 629.9V640M199.8 629.9h12.4M199.8 640h12.4M207.3 628.6V638.7M201.1 628.6h12.4M201.1 638.7h12.4M208.6 627.9V638M202.4 627.9h12.4M202.4 638h12.4M209.9 631.8V641.9M203.7 631.8h12.4M203.7 641.9h12.4M211.2 630.3V640.4M205 630.3h12.4M205 640.4h12.4M212.4 632.7V642.9M206.2 632.7h12.4M206.2 642.9h12.4M213.7 626.9V637M207.5 626.9h12.4M207.5 637h12.4M215 626.8V636.9M208.8 626.8h12.4M208.8 636.9h12.4M216.3 624.8V635M210.1 624.8h12.4M210.1 635h12.4M217.6 628.3V638.4M211.4 628.3h12.4M211.4 638.4h12.4M218.9 625.2V635.3M212.7 625.2h12.4M212.7 635.3h12.4M220.2 629.9V640.1M214 629.9h12.4M214 640.1h12.4M221.5 628V638.2M215.3 628h12.4M215.3 638.2h12.4M222.7 623.8V634M216.5 623.8h12.4M216.5 634h12.4M224 617.6V627.8M217.8 617.6h12.4M217.8 627.8h12.4M225.3 620.9V631.1M219.1 620.9h12.4M219.1 631.1h12.4M226.6 630.8V641M220.4 630.8h12.4M220.4 641h12.4M227.9 626V636.2M221.7 626h12.4M221.7 636.2h12.4M229.2 626.5V636.7M223 626.5h12.4M223 636.7h12.4M230.5 624.6V634.8M224.3 624.6h12.4M224.3 634.8h12.4M231.7 627V637.2M225.5 627h12.4M225.5 637.2h12.4M233 619.7V630M226.8 619.7h12.4M226.8 630h12.4M234.3 619.3V629.6M228.1 619.3h12.4M228.1 629.6h12.4M235.6 620.3V630.5M229.4 620.3h12.4M229.4 630.5h12.4M236.9 625.4V635.7M230.7 625.4h12.4M230.7 635.7h12.4M238.2 627.2V637.5M232 627.2h12.4M232 637.5h12.4M239.5 626.4V636.6M233.3 626.4h12.4M233.3 636.6h12.4M240.8 624.4V634.6M234.6 624.4h12.4M234.6 634.6h12.4M242 620.7V630.9M235.8 620.7h12.4M235.8 630.9h12.4M243.3 626.9V637.2M237.1 626.9h12.4M237.1 637.2h12.4M244.6 623.4V633.8M238.4 623.4h12.4M238.4 633.8h12.4M245.9 624.1V634.4M239.7 624.1h12.4M239.7 634.4h12.4M247.2 623.8V634.1M241 623.8h12.4M241 634.1h12.4M248.5 622.4V632.8M242.3 622.4h12.4M242.3 632.8h12.4M249.8 621.5V631.8M243.6 621.5h12.4M243.6 631.8h12.4M251 621.7V632.1M244.8 621.7h12.4M244.8 632.1h12.4M252.3 619.4V629.8M246.1 619.4h12.4M246.1 629.8h12.4M253.6 624.1V634.4M247.4 624.1h12.4M247.4 634.4h12.4M254.9 622.6V633M248.7 622.6h12.4M248.7 633h12.4M256.2 626.2V636.5M250 626.2h12.4M250 636.5h12.4M257.5 617.2V627.6M251.3 617.2h12.4M251.3 627.6h12.4M258.8 626.4V636.8M252.6 626.4h12.4M252.6 636.8h12.4M260.1 622.4V632.7M253.9 622.4h12.4M253.9 632.7h12.4M261.3 622V632.4M255.1 622h12.4M255.1 632.4h12.4M262.6 619.8V630.2M256.4 619.8h12.4M256.4 630.2h12.4M263.9 619.7V630.1M257.7 619.7h12.4M257.7 630.1h12.4M265.2 617.5V627.9M259 617.5h12.4M259 627.9h12.4M266.5 624.8V635.3M260.3 624.8h12.4M260.3 635.3h12.4M267.8 621.2V631.7M261.6 621.2h12.4M261.6 631.7h12.4M269.1 624V634.5M262.9 624h12.4M262.9 634.5h12.4M270.4 624.3V634.7M264.2 624.3h12.4M264.2 634.7h12.4M271.6 620V630.4M265.4 620h12.4M265.4 630.4h12.4M272.9 620.7V631.2M266.7 620.7h12.4M266.7 631.2h12.4M274.2 620.2V630.7M268 620.2h12.4M268 630.7h12.4M275.5 624.4V634.9M269.3 624.4h12.4M269.3 634.9h12.4M276.8 621.5V632M270.6 621.5h12.4M270.6 632h12.4M278.1 621.5V632M271.9 621.5h12.4M271.9 632h12.4M279.4 623.1V633.6M273.2 623.1h12.4M273.2 633.6h12.4M280.6 620.5V631M274.4 620.5h12.4M274.4 631h12.4M281.9 627V637.5M275.7 627h12.4M275.7 637.5h12.4M283.2 617.5V628M277 617.5h12.4M277 628h12.4M284.5 624.3V634.8M278.3 624.3h12.4M278.3 634.8h12.4M285.8 624.6V635.2M279.6 624.6h12.4M279.6 635.2h12.4M287.1 616.4V627M280.9 616.4h12.4M280.9 627h12.4M288.4 622.7V633.2M282.2 622.7h12.4M282.2 633.2h12.4M289.7 620.7V631.2M283.5 620.7h12.4M283.5 631.2h12.4M290.9 622.4V633M284.7 622.4h12.4M284.7 633h12.4M292.2 615.7V626.3M286 615.7h12.4M286 626.3h12.4M293.5 620.2V630.7M287.3 620.2h12.4M287.3 630.7h12.4M294.8 616.1V626.7M288.6 616.1h12.4M288.6 626.7h12.4M296.1 618V628.6M289.9 618h12.4M289.9 628.6h12.4M297.4 623.5V634.1M291.2 623.5h12.4M291.2 634.1h12.4M298.7 618.4V629M292.5 618.4h12.4M292.5 629h12.4M299.9 611.5V622.1M293.7 611.5h12.4M293.7 622.1h12.4M301.2 614V624.6M295 614h12.4M295 624.6h12.4M302.5 610.6V621.3M296.3 610.6h12.4M296.3 621.3h12.4M303.8 621.3V632M297.6 621.3h12.4M297.6 632h12.4M305.1 615.6V626.3M298.9 615.6h12.4M298.9 626.3h12.4M306.4 612.7V623.4M300.2 612.7h12.4M300.2 623.4h12.4M307.7 621.1V631.8M301.5 621.1h12.4M301.5 631.8h12.4M309 618.1V628.8M302.8 618.1h12.4M302.8 628.8h12.4M310.2 618.2V628.9M304 618.2h12.4M304 628.9h12.4M311.5 614.3V625M305.3 614.3h12.4M305.3 625h12.4M312.8 621.3V632M306.6 621.3h12.4M306.6 632h12.4M314.1 616V626.8M307.9 616h12.4M307.9 626.8h12.4M315.4 609.7V620.5M309.2 609.7h12.4M309.2 620.5h12.4M316.7 612.2V623M310.5 612.2h12.4M310.5 623h12.4M318 612.9V623.7M311.8 612.9h12.4M311.8 623.7h12.4M319.2 614.9V625.7M313 614.9h12.4M313 625.7h12.4M320.5 617.7V628.5M314.3 617.7h12.4M314.3 628.5h12.4M321.8 612.5V623.3M315.6 612.5h12.4M315.6 623.3h12.4M323.1 612.6V623.5M316.9 612.6h12.4M316.9 623.5h12.4M324.4 621.7V632.5M318.2 621.7h12.4M318.2 632.5h12.4M325.7 614.3V625.2M319.5 614.3h12.4M319.5 625.2h12.4M327 612V622.9M320.8 612h12.4M320.8 622.9h12.4M328.3 613.6V624.5M322.1 613.6h12.4M322.1 624.5h12.4M329.5 609V619.9M323.3 609h12.4M323.3 619.9h12.4M330.8 614.7V625.6M324.6 614.7h12.4M324.6 625.6h12.4M332.1 615.9V626.8M325.9 615.9h12.4M325.9 626.8h12.4M333.4 610.3V621.3M327.2 610.3h12.4M327.2 621.3h12.4M334.7 615.4V626.4M328.5 615.4h12.4M328.5 626.4h12.4M336 610.7V621.7M329.8 610.7h12.4M329.8 621.7h12.4M337.3 612.4V623.4M331.1 612.4h12.4M331.1 623.4h12.4M338.6 608.6V619.6M332.4 608.6h12.4M332.4 619.6h12.4M339.8 608.1V619.2M333.6 608.1h12.4M333.6 619.2h12.4M341.1 605.4V616.5M334.9 605.4h12.4M334.9 616.5h12.4M342.4 611V622.1M336.2 611h12.4M336.2 622.1h12.4M343.7 607.9V619M337.5 607.9h12.4M337.5 619h12.4M345 608.8V620M338.8 608.8h12.4M338.8 620h12.4M346.3 605.5V616.6M340.1 605.5h12.4M340.1 616.6h12.4M347.6 605.1V616.2M341.4 605.1h12.4M341.4 616.2h12.4M348.8 606.6V617.8M342.6 606.6h12.4M342.6 617.8h12.4M350.1 610.2V621.4M343.9 610.2h12.4M343.9 621.4h12.4M351.4 609.3V620.5M345.2 609.3h12.4M345.2 620.5h12.4M352.7 605.5V616.7M346.5 605.5h12.4M346.5 616.7h12.4M354 608.6V619.8M347.8 608.6h12.4M347.8 619.8h12.4M355.3 613.4V624.7M349.1 613.4h12.4M349.1 624.7h12.4M356.6 607.2V618.5M350.4 607.2h12.4M350.4 618.5h12.4M357.9 621.6V632.9M351.7 621.6h12.4M351.7 632.9h12.4M359.1 607.6V618.9M352.9 607.6h12.4M352.9 618.9h12.4M360.4 610.4V621.8M354.2 610.4h12.4M354.2 621.8h12.4M361.7 603.3V614.7M355.5 603.3h12.4M355.5 614.7h12.4M363 609V620.4M356.8 609h12.4M356.8 620.4h12.4M364.3 600V611.4M358.1 600h12.4M358.1 611.4h12.4M365.6 604.7V616.2M359.4 604.7h12.4M359.4 616.2h12.4M366.9 602.1V613.6M360.7 602.1h12.4M360.7 613.6h12.4M368.1 595.5V607M361.9 595.5h12.4M361.9 607h12.4M369.4 597.3V608.8M363.2 597.3h12.4M363.2 608.8h12.4M370.7 606V617.6M364.5 606h12.4M364.5 617.6h12.4M372 603.1V614.7M365.8 603.1h12.4M365.8 614.7h12.4M373.3 605.6V617.3M367.1 605.6h12.4M367.1 617.3h12.4M374.6 601.8V613.4M368.4 601.8h12.4M368.4 613.4h12.4M375.9 588.6V600.3M369.7 588.6h12.4M369.7 600.3h12.4M377.2 600.1V611.8M371 600.1h12.4M371 611.8h12.4M378.4 596.4V608.1M372.2 596.4h12.4M372.2 608.1h12.4M379.7 593.9V605.7M373.5 593.9h12.4M373.5 605.7h12.4M381 595.7V607.5M374.8 595.7h12.4M374.8 607.5h12.4M382.3 593.9V605.7M376.1 593.9h12.4M376.1 605.7h12.4M383.6 592.5V604.4M377.4 592.5h12.4M377.4 604.4h12.4M384.9 600.7V612.6M378.7 600.7h12.4M378.7 612.6h12.4M386.2 596.9V608.9M380 596.9h12.4M380 608.9h12.4M387.4 592V604M381.2 592h12.4M381.2 604h12.4M388.7 592.3V604.4M382.5 592.3h12.4M382.5 604.4h12.4M390 601.8V613.8M383.8 601.8h12.4M383.8 613.8h12.4M391.3 594.5V606.6M385.1 594.5h12.4M385.1 606.6h12.4M392.6 593.2V605.3M386.4 593.2h12.4M386.4 605.3h12.4M393.9 586.8V599M387.7 586.8h12.4M387.7 599h12.4M395.2 589.5V601.7M389 589.5h12.4M389 601.7h12.4M396.5 586.1V598.3M390.3 586.1h12.4M390.3 598.3h12.4M397.7 582.3V594.5M391.5 582.3h12.4M391.5 594.5h12.4M399 593.5V605.7M392.8 593.5h12.4M392.8 605.7h12.4M400.3 587.8V600.1M394.1 587.8h12.4M394.1 600.1h12.4M401.6 586.9V599.2M395.4 586.9h12.4M395.4 599.2h12.4M402.9 584.1V596.4M396.7 584.1h12.4M396.7 596.4h12.4M404.2 590.8V603.2M398 590.8h12.4M398 603.2h12.4M405.5 596.1V608.5M399.3 596.1h12.4M399.3 608.5h12.4M406.8 589.1V601.5M400.6 589.1h12.4M400.6 601.5h12.4M408 590V602.5M401.8 590h12.4M401.8 602.5h12.4M409.3 580V592.5M403.1 580h12.4M403.1 592.5h12.4M410.6 585.7V598.2M404.4 585.7h12.4M404.4 598.2h12.4M411.9 585.3V597.9M405.7 585.3h12.4M405.7 597.9h12.4M413.2 590.4V603M407 590.4h12.4M407 603h12.4M414.5 583.3V595.9M408.3 583.3h12.4M408.3 595.9h12.4M415.8 578.4V591.1M409.6 578.4h12.4M409.6 591.1h12.4M417 581.4V594.1M410.8 581.4h12.4M410.8 594.1h12.4M418.3 579.5V592.2M412.1 579.5h12.4M412.1 592.2h12.4M419.6 587.4V600.2M413.4 587.4h12.4M413.4 600.2h12.4M420.9 583.3V596.1M414.7 583.3h12.4M414.7 596.1h12.4M422.2 581.3V594.1M416 581.3h12.4M416 594.1h12.4M423.5 579.9V592.8M417.3 579.9h12.4M417.3 592.8h12.4M424.8 582.4V595.3M418.6 582.4h12.4M418.6 595.3h12.4M426.1 575.6V588.5M419.9 575.6h12.4M419.9 588.5h12.4M427.3 572.9V585.9M421.1 572.9h12.4M421.1 585.9h12.4M428.6 567.6V580.6M422.4 567.6h12.4M422.4 580.6h12.4M429.9 581.5V594.5M423.7 581.5h12.4M423.7 594.5h12.4M431.2 577.6V590.6M425 577.6h12.4M425 590.6h12.4M432.5 577.5V590.6M426.3 577.5h12.4M426.3 590.6h12.4M433.8 573.9V587M427.6 573.9h12.4M427.6 587h12.4M435.1 581V594.2M428.9 581h12.4M428.9 594.2h12.4M436.3 567.3V580.5M430.1 567.3h12.4M430.1 580.5h12.4M437.6 577.3V590.6M431.4 577.3h12.4M431.4 590.6h12.4M438.9 566.3V579.6M432.7 566.3h12.4M432.7 579.6h12.4M440.2 567.4V580.8M434 567.4h12.4M434 580.8h12.4M441.5 562.7V576.1M435.3 562.7h12.4M435.3 576.1h12.4M442.8 568.4V581.9M436.6 568.4h12.4M436.6 581.9h12.4M444.1 565.6V579.1M437.9 565.6h12.4M437.9 579.1h12.4M445.4 568.4V582M439.2 568.4h12.4M439.2 582h12.4M446.6 562.2V575.8M440.4 562.2h12.4M440.4 575.8h12.4M447.9 557V570.7M441.7 557h12.4M441.7 570.7h12.4M449.2 566.4V580.1M443 566.4h12.4M443 580.1h12.4M450.5 569.3V583.1M444.3 569.3h12.4M444.3 583.1h12.4M451.8 565.4V579.2M445.6 565.4h12.4M445.6 579.2h12.4M453.1 560.1V574M446.9 560.1h12.4M446.9 574h12.4M454.4 561.6V575.5M448.2 561.6h12.4M448.2 575.5h12.4M455.7 548.9V562.9M449.5 548.9h12.4M449.5 562.9h12.4M456.9 555.4V569.4M450.7 555.4h12.4M450.7 569.4h12.4M458.2 562.6V576.8M452 562.6h12.4M452 576.8h12.4M459.5 557.6V571.8M453.3 557.6h12.4M453.3 571.8h12.4M460.8 548.9V563.2M454.6 548.9h12.4M454.6 563.2h12.4M462.1 557.6V571.9M455.9 557.6h12.4M455.9 571.9h12.4M463.4 550.7V565M457.2 550.7h12.4M457.2 565h12.4M464.7 554.5V569M458.5 554.5h12.4M458.5 569h12.4M465.9 531.2V545.7M459.7 531.2h12.4M459.7 545.7h12.4M467.2 544.5V559.1M461 544.5h12.4M461 559.1h12.4M468.5 548.4V563M462.3 548.4h12.4M462.3 563h12.4M469.8 547V561.7M463.6 547h12.4M463.6 561.7h12.4M471.1 547.2V562M464.9 547.2h12.4M464.9 562h12.4M472.4 542.3V557.2M466.2 542.3h12.4M466.2 557.2h12.4M473.7 539.7V554.6M467.5 539.7h12.4M467.5 554.6h12.4M475 542.5V557.5M468.8 542.5h12.4M468.8 557.5h12.4M476.2 543.6V558.7M470 543.6h12.4M470 558.7h12.4M477.5 526.6V541.8M471.3 526.6h12.4M471.3 541.8h12.4M478.8 532.8V548M472.6 532.8h12.4M472.6 548h12.4M480.1 532V547.3M473.9 532h12.4M473.9 547.3h12.4M481.4 532.7V548.1M475.2 532.7h12.4M475.2 548.1h12.4M482.7 536.8V552.3M476.5 536.8h12.4M476.5 552.3h12.4M484 518.9V534.5M477.8 518.9h12.4M477.8 534.5h12.4M485.2 530V545.6M479 530h12.4M479 545.6h12.4M486.5 512V527.8M480.3 512h12.4M480.3 527.8h12.4M487.8 516.9V532.7M481.6 516.9h12.4M481.6 532.7h12.4M489.1 516.4V532.3M482.9 516.4h12.4M482.9 532.3h12.4M490.4 516V532M484.2 516h12.4M484.2 532h12.4M491.7 511.1V527.2M485.5 511.1h12.4M485.5 527.2h12.4M493 509.5V525.7M486.8 509.5h12.4M486.8 525.7h12.4M494.3 508.3V524.7M488.1 508.3h12.4M488.1 524.7h12.4M495.5 506.4V522.8M489.3 506.4h12.4M489.3 522.8h12.4M496.8 491.5V508M490.6 491.5h12.4M490.6 508h12.4M498.1 492.2V508.9M491.9 492.2h12.4M491.9 508.9h12.4M499.4 497.2V514M493.2 497.2h12.4M493.2 514h12.4M500.7 502.2V519.1M494.5 502.2h12.4M494.5 519.1h12.4M502 503.2V520.3M495.8 503.2h12.4M495.8 520.3h12.4M503.3 515.5V532.6M497.1 515.5h12.4M497.1 532.6h12.4M504.5 490.2V507.5M498.3 490.2h12.4M498.3 507.5h12.4M505.8 479.8V497.2M499.6 479.8h12.4M499.6 497.2h12.4M507.1 486V503.6M500.9 486h12.4M500.9 503.6h12.4M508.4 485.6V503.3M502.2 485.6h12.4M502.2 503.3h12.4M509.7 477.7V495.6M503.5 477.7h12.4M503.5 495.6h12.4M511 464.1V482.1M504.8 464.1h12.4M504.8 482.1h12.4M512.3 468.7V486.8M506.1 468.7h12.4M506.1 486.8h12.4M513.6 465.5V483.8M507.4 465.5h12.4M507.4 483.8h12.4M514.8 449.8V468.2M508.6 449.8h12.4M508.6 468.2h12.4M516.1 447.5V466.1M509.9 447.5h12.4M509.9 466.1h12.4M517.4 476.3V495M511.2 476.3h12.4M511.2 495h12.4M518.7 430V449M512.5 430h12.4M512.5 449h12.4M520 447.3V466.4M513.8 447.3h12.4M513.8 466.4h12.4M521.3 439V458.3M515.1 439h12.4M515.1 458.3h12.4M522.6 449.5V469M516.4 449.5h12.4M516.4 469h12.4M523.9 437.5V457.2M517.7 437.5h12.4M517.7 457.2h12.4M525.1 418.6V438.4M518.9 418.6h12.4M518.9 438.4h12.4M526.4 433V453.1M520.2 433h12.4M520.2 453.1h12.4M527.7 409.7V430M521.5 409.7h12.4M521.5 430h12.4M529 427.6V448.1M522.8 427.6h12.4M522.8 448.1h12.4M530.3 416.8V437.6M524.1 416.8h12.4M524.1 437.6h12.4M531.6 391.3V412.4M525.4 391.3h12.4M525.4 412.4h12.4M532.9 391.3V412.7M526.7 391.3h12.4M526.7 412.7h12.4M534.1 376.7V398.4M527.9 376.7h12.4M527.9 398.4h12.4M535.4 356.5V378.5M529.2 356.5h12.4M529.2 378.5h12.4M536.7 367.9V390.2M530.5 367.9h12.4M530.5 390.2h12.4M538 351.5V374.2M531.8 351.5h12.4M531.8 374.2h12.4M539.3 345.8V368.8M533.1 345.8h12.4M533.1 368.8h12.4M540.6 349.9V373.3M534.4 349.9h12.4M534.4 373.3h12.4M541.9 328.8V352.6M535.7 328.8h12.4M535.7 352.6h12.4M543.2 311V335.2M537 311h12.4M537 335.2h12.4M544.4 282.7V307.4M538.2 282.7h12.4M538.2 307.4h12.4M545.7 266.3V291.6M539.5 266.3h12.4M539.5 291.6h12.4M547 248.4V274.3M540.8 248.4h12.4M540.8 274.3h12.4M548.3 217.1V243.7M542.1 217.1h12.4M542.1 243.7h12.4M549.6 188.8V216.2M543.4 188.8h12.4M543.4 216.2h12.4M550.9 190.5V218.5M544.7 190.5h12.4M544.7 218.5h12.4M552.2 154.6V183.3M546 154.6h12.4M546 183.3h12.4M553.4 132.1V161.8M547.2 132.1h12.4M547.2 161.8h12.4M554.7 16V47.6M548.5 16h12.4M548.5 47.6h12.4M601.1 -28.1V4.1M594.9 -28.1h12.4M594.9 4.1h12.4M602.3 70.7V101.5M596.1 70.7h12.4M596.1 101.5h12.4M603.6 114.8V144.5M597.4 114.8h12.4M597.4 144.5h12.4M604.9 170.2V199M598.7 170.2h12.4M598.7 199h12.4M606.2 176.8V204.9M600 176.8h12.4M600 204.9h12.4M607.5 213.7V241M601.3 213.7h12.4M601.3 241h12.4M608.8 223V249.7M602.6 223h12.4M602.6 249.7h12.4M610.1 231.5V257.6M603.9 231.5h12.4M603.9 257.6h12.4M611.4 260.6V286.2M605.2 260.6h12.4M605.2 286.2h12.4M612.6 257.2V282.2M606.4 257.2h12.4M606.4 282.2h12.4M613.9 287.7V312.4M607.7 287.7h12.4M607.7 312.4h12.4M615.2 295.9V320.2M609 295.9h12.4M609 320.2h12.4M616.5 296.5V320.4M610.3 296.5h12.4M610.3 320.4h12.4M617.8 332.2V355.8M611.6 332.2h12.4M611.6 355.8h12.4M619.1 340.4V363.7M612.9 340.4h12.4M612.9 363.7h12.4M620.4 341.9V364.9M614.2 341.9h12.4M614.2 364.9h12.4M621.6 353.8V376.6M615.4 353.8h12.4M615.4 376.6h12.4M622.9 389.4V411.9M616.7 389.4h12.4M616.7 411.9h12.4M624.2 358.7V380.9M618 358.7h12.4M618 380.9h12.4M625.5 353V375M619.3 353h12.4M619.3 375h12.4M626.8 363.9V385.7M620.6 363.9h12.4M620.6 385.7h12.4M628.1 387.2V408.7M621.9 387.2h12.4M621.9 408.7h12.4M629.4 388.7V410M623.2 388.7h12.4M623.2 410h12.4M630.7 361.5V382.6M624.5 361.5h12.4M624.5 382.6h12.4M631.9 425.6V446.5M625.7 425.6h12.4M625.7 446.5h12.4M633.2 405.9V426.6M627 405.9h12.4M627 426.6h12.4M634.5 424.6V445.1M628.3 424.6h12.4M628.3 445.1h12.4M635.8 424.8V445.1M629.6 424.8h12.4M629.6 445.1h12.4M637.1 414.6V434.8M630.9 414.6h12.4M630.9 434.8h12.4M638.4 424.3V444.2M632.2 424.3h12.4M632.2 444.2h12.4M639.7 420.9V440.7M633.5 420.9h12.4M633.5 440.7h12.4M640.9 424.2V443.9M634.7 424.2h12.4M634.7 443.9h12.4M642.2 433.3V452.8M636 433.3h12.4M636 452.8h12.4M643.5 444.5V463.9M637.3 444.5h12.4M637.3 463.9h12.4M644.8 456.2V475.4M638.6 456.2h12.4M638.6 475.4h12.4M646.1 439.6V458.6M639.9 439.6h12.4M639.9 458.6h12.4M647.4 457.5V476.4M641.2 457.5h12.4M641.2 476.4h12.4M648.7 455.3V474.1M642.5 455.3h12.4M642.5 474.1h12.4M650 456.8V475.4M643.8 456.8h12.4M643.8 475.4h12.4M651.2 472.2V490.7M645 472.2h12.4M645 490.7h12.4M652.5 463V481.3M646.3 463h12.4M646.3 481.3h12.4M653.8 481.5V499.6M647.6 481.5h12.4M647.6 499.6h12.4M655.1 470.4V488.4M648.9 470.4h12.4M648.9 488.4h12.4M656.4 469V486.9M650.2 469h12.4M650.2 486.9h12.4M657.7 486.7V504.4M651.5 486.7h12.4M651.5 504.4h12.4M659 471.6V489.2M652.8 471.6h12.4M652.8 489.2h12.4M660.3 477.3V494.8M654.1 477.3h12.4M654.1 494.8h12.4M661.5 488.9V506.2M655.3 488.9h12.4M655.3 506.2h12.4M662.8 493.7V510.9M656.6 493.7h12.4M656.6 510.9h12.4M664.1 494.9V511.9M657.9 494.9h12.4M657.9 511.9h12.4M665.4 484.7V501.5M659.2 484.7h12.4M659.2 501.5h12.4M666.7 493.1V509.8M660.5 493.1h12.4M660.5 509.8h12.4M668 515.5V532M661.8 515.5h12.4M661.8 532h12.4M669.3 514.2V530.6M663.1 514.2h12.4M663.1 530.6h12.4M670.5 505.3V521.5M664.3 505.3h12.4M664.3 521.5h12.4M671.8 517.8V534M665.6 517.8h12.4M665.6 534h12.4M673.1 520V536M666.9 520h12.4M666.9 536h12.4M674.4 528.4V544.3M668.2 528.4h12.4M668.2 544.3h12.4M675.7 518.2V534M669.5 518.2h12.4M669.5 534h12.4M677 535.9V551.6M670.8 535.9h12.4M670.8 551.6h12.4M678.3 525.8V541.4M672.1 525.8h12.4M672.1 541.4h12.4M679.6 539.9V555.3M673.4 539.9h12.4M673.4 555.3h12.4M680.8 538.3V553.6M674.6 538.3h12.4M674.6 553.6h12.4M682.1 527.4V542.6M675.9 527.4h12.4M675.9 542.6h12.4M683.4 533.9V549.1M677.2 533.9h12.4M677.2 549.1h12.4M684.7 539.7V554.7M678.5 539.7h12.4M678.5 554.7h12.4M686 546.1V561.1M679.8 546.1h12.4M679.8 561.1h12.4M687.3 532.6V547.5M681.1 532.6h12.4M681.1 547.5h12.4M688.6 539.9V554.7M682.4 539.9h12.4M682.4 554.7h12.4M689.8 548.5V563.2M683.6 548.5h12.4M683.6 563.2h12.4M691.1 549.2V563.8M684.9 549.2h12.4M684.9 563.8h12.4M692.4 541.5V556.1M686.2 541.5h12.4M686.2 556.1h12.4M693.7 544V558.5M687.5 544h12.4M687.5 558.5h12.4M695 553.3V567.7M688.8 553.3h12.4M688.8 567.7h12.4M696.3 546.3V560.7M690.1 546.3h12.4M690.1 560.7h12.4M697.6 555V569.3M691.4 555h12.4M691.4 569.3h12.4M698.9 560.2V574.4M692.7 560.2h12.4M692.7 574.4h12.4M700.1 556.5V570.6M693.9 556.5h12.4M693.9 570.6h12.4M701.4 542.8V556.9M695.2 542.8h12.4M695.2 556.9h12.4M702.7 565.4V579.3M696.5 565.4h12.4M696.5 579.3h12.4M704 573.5V587.4M697.8 573.5h12.4M697.8 587.4h12.4M705.3 568.9V582.8M699.1 568.9h12.4M699.1 582.8h12.4M706.6 567.1V580.8M700.4 567.1h12.4M700.4 580.8h12.4M707.9 554.7V568.4M701.7 554.7h12.4M701.7 568.4h12.4M709.1 572.1V585.7M702.9 572.1h12.4M702.9 585.7h12.4M710.4 567.5V581.1M704.2 567.5h12.4M704.2 581.1h12.4M711.7 571.5V585.1M705.5 571.5h12.4M705.5 585.1h12.4M713 566.9V580.4M706.8 566.9h12.4M706.8 580.4h12.4M714.3 567.4V580.9M708.1 567.4h12.4M708.1 580.9h12.4M715.6 568.4V581.8M709.4 568.4h12.4M709.4 581.8h12.4M716.9 578.4V591.8M710.7 578.4h12.4M710.7 591.8h12.4M718.2 572.7V586M712 572.7h12.4M712 586h12.4M719.4 571.2V584.5M713.2 571.2h12.4M713.2 584.5h12.4M720.7 566.8V580M714.5 566.8h12.4M714.5 580h12.4M722 576.1V589.3M715.8 576.1h12.4M715.8 589.3h12.4M723.3 574.7V587.8M717.1 574.7h12.4M717.1 587.8h12.4M724.6 576.2V589.2M718.4 576.2h12.4M718.4 589.2h12.4M725.9 580.8V593.9M719.7 580.8h12.4M719.7 593.9h12.4M727.2 584.2V597.2M721 584.2h12.4M721 597.2h12.4M728.5 577.7V590.6M722.3 577.7h12.4M722.3 590.6h12.4M729.7 580.7V593.6M723.5 580.7h12.4M723.5 593.6h12.4M731 579.5V592.4M724.8 579.5h12.4M724.8 592.4h12.4M732.3 583V595.9M726.1 583h12.4M726.1 595.9h12.4M733.6 587.2V600M727.4 587.2h12.4M727.4 600h12.4M734.9 581.7V594.5M728.7 581.7h12.4M728.7 594.5h12.4M736.2 577.9V590.6M730 577.9h12.4M730 590.6h12.4M737.5 586.1V598.8M731.3 586.1h12.4M731.3 598.8h12.4M738.7 586.9V599.6M732.5 586.9h12.4M732.5 599.6h12.4M740 578.8V591.4M733.8 578.8h12.4M733.8 591.4h12.4M741.3 585.8V598.4M735.1 585.8h12.4M735.1 598.4h12.4M742.6 583V595.5M736.4 583h12.4M736.4 595.5h12.4M743.9 575.8V588.3M737.7 575.8h12.4M737.7 588.3h12.4M745.2 585.6V598.1M739 585.6h12.4M739 598.1h12.4M746.5 590.5V602.9M740.3 590.5h12.4M740.3 602.9h12.4M747.8 583.8V596.2M741.6 583.8h12.4M741.6 596.2h12.4M749 584.5V596.9M742.8 584.5h12.4M742.8 596.9h12.4M750.3 592.4V604.7M744.1 592.4h12.4M744.1 604.7h12.4M751.6 584V596.3M745.4 584h12.4M745.4 596.3h12.4M752.9 585.3V597.5M746.7 585.3h12.4M746.7 597.5h12.4M754.2 588.4V600.7M748 588.4h12.4M748 600.7h12.4M755.5 592.9V605.1M749.3 592.9h12.4M749.3 605.1h12.4M756.8 593.4V605.6M750.6 593.4h12.4M750.6 605.6h12.4M758 587V599.1M751.8 587h12.4M751.8 599.1h12.4M759.3 590.7V602.7M753.1 590.7h12.4M753.1 602.7h12.4M760.6 592.8V604.9M754.4 592.8h12.4M754.4 604.9h12.4M761.9 591.4V603.4M755.7 591.4h12.4M755.7 603.4h12.4M763.2 590V602M757 590h12.4M757 602h12.4M764.5 589.6V601.6M758.3 589.6h12.4M758.3 601.6h12.4M765.8 597.3V609.3M759.6 597.3h12.4M759.6 609.3h12.4M767.1 594.2V606.1M760.9 594.2h12.4M760.9 606.1h12.4M768.3 619.2V631.1M762.1 619.2h12.4M762.1 631.1h12.4M769.6 601.2V613.1M763.4 601.2h12.4M763.4 613.1h12.4M770.9 593.6V605.4M764.7 593.6h12.4M764.7 605.4h12.4M772.2 597.1V608.8M766 597.1h12.4M766 608.8h12.4M773.5 598.9V610.6M767.3 598.9h12.4M767.3 610.6h12.4M774.8 599.6V611.3M768.6 599.6h12.4M768.6 611.3h12.4M776.1 600.3V612M769.9 600.3h12.4M769.9 612h12.4M777.4 600.8V612.5M771.2 600.8h12.4M771.2 612.5h12.4M778.6 599V610.7M772.4 599h12.4M772.4 610.7h12.4M779.9 602.4V614M773.7 602.4h12.4M773.7 614h12.4M781.2 608.5V620.1M775 608.5h12.4M775 620.1h12.4M782.5 599V610.6M776.3 599h12.4M776.3 610.6h12.4M783.8 599.6V611.1M777.6 599.6h12.4M777.6 611.1h12.4M785.1 603.9V615.4M778.9 603.9h12.4M778.9 615.4h12.4M786.4 606.2V617.7M780.2 606.2h12.4M780.2 617.7h12.4M787.6 604.9V616.4M781.4 604.9h12.4M781.4 616.4h12.4M788.9 606.6V618.1M782.7 606.6h12.4M782.7 618.1h12.4M790.2 602.3V613.7M784 602.3h12.4M784 613.7h12.4M791.5 602V613.4M785.3 602h12.4M785.3 613.4h12.4M792.8 605.5V616.9M786.6 605.5h12.4M786.6 616.9h12.4M794.1 605.8V617.2M787.9 605.8h12.4M787.9 617.2h12.4M795.4 609.7V621.1M789.2 609.7h12.4M789.2 621.1h12.4M796.7 609.6V620.9M790.5 609.6h12.4M790.5 620.9h12.4M797.9 597.8V609.1M791.7 597.8h12.4M791.7 609.1h12.4M799.2 607.4V618.7M793 607.4h12.4M793 618.7h12.4M800.5 602.5V613.8M794.3 602.5h12.4M794.3 613.8h12.4M801.8 597.7V609M795.6 597.7h12.4M795.6 609h12.4M803.1 606.9V618.1M796.9 606.9h12.4M796.9 618.1h12.4M804.4 605.2V616.4M798.2 605.2h12.4M798.2 616.4h12.4M805.7 604.8V616M799.5 604.8h12.4M799.5 616h12.4M806.9 601.8V613M800.7 601.8h12.4M800.7 613h12.4M808.2 603.1V614.2M802 603.1h12.4M802 614.2h12.4M809.5 606.1V617.3M803.3 606.1h12.4M803.3 617.3h12.4M810.8 602V613.1M804.6 602h12.4M804.6 613.1h12.4M812.1 607.1V618.2M805.9 607.1h12.4M805.9 618.2h12.4M813.4 608.1V619.2M807.2 608.1h12.4M807.2 619.2h12.4M814.7 607.5V618.5M808.5 607.5h12.4M808.5 618.5h12.4M816 610.4V621.5M809.8 610.4h12.4M809.8 621.5h12.4M817.2 608.3V619.3M811 608.3h12.4M811 619.3h12.4M818.5 604.8V615.9M812.3 604.8h12.4M812.3 615.9h12.4M819.8 605.5V616.5M813.6 605.5h12.4M813.6 616.5h12.4M821.1 609.7V620.7M814.9 609.7h12.4M814.9 620.7h12.4M822.4 612.8V623.8M816.2 612.8h12.4M816.2 623.8h12.4M823.7 610.3V621.3M817.5 610.3h12.4M817.5 621.3h12.4M825 608.4V619.3M818.8 608.4h12.4M818.8 619.3h12.4M826.2 610.9V621.8M820 610.9h12.4M820 621.8h12.4M827.5 604.5V615.4M821.3 604.5h12.4M821.3 615.4h12.4M828.8 607.5V618.4M822.6 607.5h12.4M822.6 618.4h12.4M830.1 609.8V620.6M823.9 609.8h12.4M823.9 620.6h12.4M831.4 611V621.9M825.2 611h12.4M825.2 621.9h12.4M832.7 609.2V620.1M826.5 609.2h12.4M826.5 620.1h12.4M834 610.8V621.7M827.8 610.8h12.4M827.8 621.7h12.4M835.3 608V618.9M829.1 608h12.4M829.1 618.9h12.4M836.5 608.2V619M830.3 608.2h12.4M830.3 619h12.4M837.8 613.2V624M831.6 613.2h12.4M831.6 624h12.4M839.1 606.6V617.4M832.9 606.6h12.4M832.9 617.4h12.4M840.4 608.9V619.6M834.2 608.9h12.4M834.2 619.6h12.4M841.7 610.6V621.4M835.5 610.6h12.4M835.5 621.4h12.4M843 618V628.7M836.8 618h12.4M836.8 628.7h12.4M844.3 615.6V626.3M838.1 615.6h12.4M838.1 626.3h12.4M845.6 618.6V629.3M839.4 618.6h12.4M839.4 629.3h12.4M846.8 622.8V633.5M840.6 622.8h12.4M840.6 633.5h12.4M848.1 612.5V623.2M841.9 612.5h12.4M841.9 623.2h12.4M849.4 613.9V624.6M843.2 613.9h12.4M843.2 624.6h12.4M850.7 610.5V621.2M844.5 610.5h12.4M844.5 621.2h12.4M852 618.2V628.9M845.8 618.2h12.4M845.8 628.9h12.4M853.3 617V627.6M847.1 617h12.4M847.1 627.6h12.4M854.6 616.7V627.3M848.4 616.7h12.4M848.4 627.3h12.4M855.8 617.1V627.7M849.6 617.1h12.4M849.6 627.7h12.4M857.1 616.6V627.2M850.9 616.6h12.4M850.9 627.2h12.4M858.4 616V626.6M852.2 616h12.4M852.2 626.6h12.4M859.7 616.4V627M853.5 616.4h12.4M853.5 627h12.4M861 619.5V630.1M854.8 619.5h12.4M854.8 630.1h12.4M862.3 613.3V623.9M856.1 613.3h12.4M856.1 623.9h12.4M863.6 612.7V623.3M857.4 612.7h12.4M857.4 623.3h12.4M864.9 616.2V626.7M858.7 616.2h12.4M858.7 626.7h12.4M866.1 620V630.5M859.9 620h12.4M859.9 630.5h12.4M867.4 617.3V627.8M861.2 617.3h12.4M861.2 627.8h12.4M868.7 616V626.5M862.5 616h12.4M862.5 626.5h12.4M870 619.5V630M863.8 619.5h12.4M863.8 630h12.4M871.3 617.4V627.9M865.1 617.4h12.4M865.1 627.9h12.4M872.6 611.3V621.7M866.4 611.3h12.4M866.4 621.7h12.4M873.9 614.2V624.7M867.7 614.2h12.4M867.7 624.7h12.4M875.1 611V621.5M868.9 611h12.4M868.9 621.5h12.4M876.4 617.1V627.5M870.2 617.1h12.4M870.2 627.5h12.4M877.7 616.6V627M871.5 616.6h12.4M871.5 627h12.4M879 621V631.4M872.8 621h12.4M872.8 631.4h12.4M880.3 624.9V635.3M874.1 624.9h12.4M874.1 635.3h12.4M881.6 616.7V627.1M875.4 616.7h12.4M875.4 627.1h12.4M882.9 618.7V629.1M876.7 618.7h12.4M876.7 629.1h12.4M884.2 617.7V628.1M878 617.7h12.4M878 628.1h12.4M885.4 610.4V620.8M879.2 610.4h12.4M879.2 620.8h12.4M886.7 616.9V627.3M880.5 616.9h12.4M880.5 627.3h12.4M888 617.3V627.6M881.8 617.3h12.4M881.8 627.6h12.4M889.3 620.5V630.8M883.1 620.5h12.4M883.1 630.8h12.4M890.6 617.3V627.6M884.4 617.3h12.4M884.4 627.6h12.4M891.9 616.1V626.4M885.7 616.1h12.4M885.7 626.4h12.4M893.2 622V632.3M887 622h12.4M887 632.3h12.4M894.4 620.2V630.5M888.2 620.2h12.4M888.2 630.5h12.4M895.7 617.8V628.1M889.5 617.8h12.4M889.5 628.1h12.4M897 618.4V628.7M890.8 618.4h12.4M890.8 628.7h12.4M898.3 620V630.2M892.1 620h12.4M892.1 630.2h12.4M899.6 623.6V633.8M893.4 623.6h12.4M893.4 633.8h12.4M900.9 625.5V635.7M894.7 625.5h12.4M894.7 635.7h12.4M902.2 617.3V627.5M896 617.3h12.4M896 627.5h12.4M903.5 625V635.1M897.3 625h12.4M897.3 635.1h12.4M904.7 621.7V631.9M898.5 621.7h12.4M898.5 631.9h12.4M906 622.7V632.9M899.8 622.7h12.4M899.8 632.9h12.4M907.3 624.6V634.8M901.1 624.6h12.4M901.1 634.8h12.4M908.6 618.8V629M902.4 618.8h12.4M902.4 629h12.4M909.9 624.5V634.6M903.7 624.5h12.4M903.7 634.6h12.4M911.2 618V628.1M905 618h12.4M905 628.1h12.4M912.5 620.6V630.7M906.3 620.6h12.4M906.3 630.7h12.4M913.8 619.5V629.6M907.6 619.5h12.4M907.6 629.6h12.4M915 627.2V637.3M908.8 627.2h12.4M908.8 637.3h12.4M916.3 627.1V637.3M910.1 627.1h12.4M910.1 637.3h12.4M917.6 624.5V634.6M911.4 624.5h12.4M911.4 634.6h12.4M918.9 623.9V634M912.7 623.9h12.4M912.7 634h12.4M920.2 620.8V630.9M914 620.8h12.4M914 630.9h12.4M921.5 627.7V637.8M915.3 627.7h12.4M915.3 637.8h12.4M922.8 626.7V636.8M916.6 626.7h12.4M916.6 636.8h12.4M924 625.3V635.3M917.8 625.3h12.4M917.8 635.3h12.4M925.3 622V632M919.1 622h12.4M919.1 632h12.4M926.6 620.6V630.6M920.4 620.6h12.4M920.4 630.6h12.4M927.9 622.5V632.6M921.7 622.5h12.4M921.7 632.6h12.4M929.2 626.8V636.9M923 626.8h12.4M923 636.9h12.4M930.5 617.1V627.1M924.3 617.1h12.4M924.3 627.1h12.4M931.8 623.4V633.4M925.6 623.4h12.4M925.6 633.4h12.4M933.1 628V638M926.9 628h12.4M926.9 638h12.4M934.3 625.9V635.9M928.1 625.9h12.4M928.1 635.9h12.4M935.6 628.5V638.5M929.4 628.5h12.4M929.4 638.5h12.4M936.9 624.7V634.7M930.7 624.7h12.4M930.7 634.7h12.4M938.2 626.4V636.3M932 626.4h12.4M932 636.3h12.4M939.5 627.9V637.8M933.3 627.9h12.4M933.3 637.8h12.4M940.8 625.9V635.8M934.6 625.9h12.4M934.6 635.8h12.4M942.1 625.2V635.1M935.9 625.2h12.4M935.9 635.1h12.4M943.3 622.8V632.8M937.1 622.8h12.4M937.1 632.8h12.4M944.6 620.2V630.1M938.4 620.2h12.4M938.4 630.1h12.4M945.9 629.1V639M939.7 629.1h12.4M939.7 639h12.4M947.2 623.7V633.6M941 623.7h12.4M941 633.6h12.4M948.5 622.9V632.7M942.3 622.9h12.4M942.3 632.7h12.4M949.8 630.7V640.5M943.6 630.7h12.4M943.6 640.5h12.4M951.1 622.7V632.6M944.9 622.7h12.4M944.9 632.6h12.4M952.4 621.5V631.3M946.2 621.5h12.4M946.2 631.3h12.4M953.6 623.9V633.7M947.4 623.9h12.4M947.4 633.7h12.4M954.9 625.5V635.3M948.7 625.5h12.4M948.7 635.3h12.4M956.2 626.5V636.3M950 626.5h12.4M950 636.3h12.4M957.5 627.3V637.1M951.3 627.3h12.4M951.3 637.1h12.4M958.8 632V641.8M952.6 632h12.4M952.6 641.8h12.4M960.1 625.7V635.5M953.9 625.7h12.4M953.9 635.5h12.4M961.4 627.2V637M955.2 627.2h12.4M955.2 637h12.4M962.6 625.9V635.7M956.4 625.9h12.4M956.4 635.7h12.4M963.9 624.4V634.2M957.7 624.4h12.4M957.7 634.2h12.4M965.2 627.5V637.3M959 627.5h12.4M959 637.3h12.4M966.5 627.5V637.2M960.3 627.5h12.4M960.3 637.2h12.4M967.8 631.9V641.6M961.6 631.9h12.4M961.6 641.6h12.4" fill="none" stroke="#808000" stroke-width="1"/>
<path d="M197 633.3l6 6-6 6-6-6zM198.3 626.1l6 6-6 6-6-6zM199.6 631l6 6-6 6-6-6zM200.9 633.4l6 6-6 6-6-6zM202.2 630.3l6 6-6 6-6-6zM203.4 629l6 6-6 6-6-6zM204.7 632.1l6 6-6 6-6-6zM206 628.9l6 6-6 6-6-6zM207.3 627.7l6 6-6 6-6-6zM208.6 626.9l6 6-6 6-6-6zM209.9 630.9l6 6-6 6-6-6zM211.2 629.4l6 6-6 6-6-6zM212.4 631.8l6 6-6 6-6-6zM213.7 625.9l6 6-6 6-6-6zM215 625.9l6 6-6 6-6-6zM216.3 623.9l6 6-6 6-6-6zM217.6 627.4l6 6-6 6-6-6zM218.9 624.2l6 6-6 6-6-6zM220.2 629l6 6-6 6-6-6zM221.5 627.1l6 6-6 6-6-6zM222.7 622.9l6 6-6 6-6-6zM224 616.7l6 6-6 6-6-6zM225.3 620l6 6-6 6-6-6zM226.6 629.9l6 6-6 6-6-6zM227.9 625.1l6 6-6 6-6-6zM229.2 625.6l6 6-6 6-6-6zM230.5 623.7l6 6-6 6-6-6zM231.7 626.1l6 6-6 6-6-6zM233 618.8l6 6-6 6-6-6zM234.3 618.4l6 6-6 6-6-6zM235.6 619.4l6 6-6 6-6-6zM236.9 624.5l6 6-6 6-6-6zM238.2 626.3l6 6-6 6-6-6zM239.5 625.5l6 6-6 6-6-6zM240.8 623.5l6 6-6 6-6-6zM242 619.8l6 6-6 6-6-6zM243.3 626.1l6 6-6 6-6-6zM244.6 622.6l6 6-6 6-6-6zM245.9 623.3l6 6-6 6-6-6zM247.2 623l6 6-6 6-6-6zM248.5 621.6l6 6-6 6-6-6zM249.8 620.6l6 6-6 6-6-6zM251 620.9l6 6-6 6-6-6zM252.3 618.6l6 6-6 6-6-6zM253.6 623.2l6 6-6 6-6-6zM254.9 621.8l6 6-6 6-6-6zM256.2 625.3l6 6-6 6-6-6zM257.5 616.4l6 6-6 6-6-6zM258.8 625.6l6 6-6 6-6-6zM260.1 621.5l6 6-6 6-6-6zM261.3 621.2l6 6-6 6-6-6zM262.6 619l6 6-6 6-6-6zM263.9 618.9l6 6-6 6-6-6zM265.2 616.7l6 6-6 6-6-6zM266.5 624l6 6-6 6-6-6zM267.8 620.4l6 6-6 6-6-6zM269.1 623.3l6 6-6 6-6-6zM270.4 623.5l6 6-6 6-6-6zM271.6 619.2l6 6-6 6-6-6zM272.9 619.9l6 6-6 6-6-6zM274.2 619.5l6 6-6 6-6-6zM275.5 623.7l6 6-6 6-6-6zM276.8 620.7l6 6-6 6-6-6zM278.1 620.7l6 6-6 6-6-6zM279.4 622.4l6 6-6 6-6-6zM280.6 619.7l6 6-6 6-6-6zM281.9 626.3l6 6-6 6-6-6zM283.2 616.8l6 6-6 6-6-6zM284.5 623.5l6 6-6 6-6-6zM285.8 623.9l6 6-6 6-6-6zM287.1 615.7l6 6-6 6-6-6zM288.4 621.9l6 6-6 6-6-6zM289.7 620l6 6-6 6-6-6zM290.9 621.7l6 6-6 6-6-6zM292.2 615l6 6-6 6-6-6zM293.5 619.4l6 6-6 6-6-6zM294.8 615.4l6 6-6 6-6-6zM296.1 617.3l6 6-6 6-6-6zM297.4 622.8l6 6-6 6-6-6zM298.7 617.7l6 6-6 6-6-6zM299.9 610.8l6 6-6 6-6-6zM301.2 613.3l6 6-6 6-6-6zM302.5 609.9l6 6-6 6-6-6zM303.8 620.7l6 6-6 6-6-6zM305.1 615l6 6-6 6-6-6zM306.4 612l6 6-6 6-6-6zM307.7 620.4l6 6-6 6-6-6zM309 617.4l6 6-6 6-6-6zM310.2 617.5l6 6-6 6-6-6zM311.5 613.6l6 6-6 6-6-6zM312.8 620.6l6 6-6 6-6-6zM314.1 615.4l6 6-6 6-6-6zM315.4 609.1l6 6-6 6-6-6zM316.7 611.6l6 6-6 6-6-6zM318 612.3l6 6-6 6-6-6zM319.2 614.3l6 6-6 6-6-6zM320.5 617.1l6 6-6 6-6-6zM321.8 611.9l6 6-6 6-6-6zM323.1 612.1l6 6-6 6-6-6zM324.4 621.1l6 6-6 6-6-6zM325.7 613.8l6 6-6 6-6-6zM327 611.5l6 6-6 6-6-6zM328.3 613l6 6-6 6-6-6zM329.5 608.5l6 6-6 6-6-6zM330.8 614.2l6 6-6 6-6-6zM332.1 615.3l6 6-6 6-6-6zM333.4 609.8l6 6-6 6-6-6zM334.7 614.9l6 6-6 6-6-6zM336 610.2l6 6-6 6-6-6zM337.3 611.9l6 6-6 6-6-6zM338.6 608.1l6 6-6 6-6-6zM339.8 607.6l6 6-6 6-6-6zM341.1 605l6 6-6 6-6-6zM342.4 610.6l6 6-6 6-6-6zM343.7 607.5l6 6-6 6-6-6zM345 608.4l6 6-6 6-6-6zM346.3 605.1l6 6-6 6-6-6zM347.6 604.6l6 6-6 6-6-6zM348.8 606.2l6 6-6 6-6-6zM350.1 609.8l6 6-6 6-6-6zM351.4 608.9l6 6-6 6-6-6zM352.7 605.1l6 6-6 6-6-6zM354 608.2l6 6-6 6-6-6zM355.3 613.1l6 6-6 6-6-6zM356.6 606.8l6 6-6 6-6-6zM357.9 621.3l6 6-6 6-6-6zM359.1 607.3l6 6-6 6-6-6zM360.4 610.1l6 6-6 6-6-6zM361.7 603l6 6-6 6-6-6zM363 608.7l6 6-6 6-6-6zM364.3 599.7l6 6-6 6-6-6zM365.6 604.4l6 6-6 6-6-6zM366.9 601.8l6 6-6 6-6-6zM368.1 595.2l6 6-6 6-6-6zM369.4 597l6 6-6 6-6-6zM370.7 605.8l6 6-6 6-6-6zM372 602.9l6 6-6 6-6-6zM373.3 605.5l6 6-6 6-6-6zM374.6 601.6l6 6-6 6-6-6zM375.9 588.4l6 6-6 6-6-6zM377.2 599.9l6 6-6 6-6-6zM378.4 596.2l6 6-6 6-6-6zM379.7 593.8l6 6-6 6-6-6zM381 595.6l6 6-6 6-6-6zM382.3 593.8l6 6-6 6-6-6zM383.6 592.5l6 6-6 6-6-6zM384.9 600.6l6 6-6 6-6-6zM386.2 596.9l6 6-6 6-6-6zM387.4 592l6 6-6 6-6-6zM388.7 592.3l6 6-6 6-6-6zM390 601.8l6 6-6 6-6-6zM391.3 594.5l6 6-6 6-6-6zM392.6 593.3l6 6-6 6-6-6zM393.9 586.9l6 6-6 6-6-6zM395.2 589.6l6 6-6 6-6-6zM396.5 586.2l6 6-6 6-6-6zM397.7 582.4l6 6-6 6-6-6zM399 593.6l6 6-6 6-6-6zM400.3 588l6 6-6 6-6-6zM401.6 587.1l6 6-6 6-6-6zM402.9 584.2l6 6-6 6-6-6zM404.2 591l6 6-6 6-6-6zM405.5 596.3l6 6-6 6-6-6zM406.8 589.3l6 6-6 6-6-6zM408 590.3l6 6-6 6-6-6zM409.3 580.3l6 6-6 6-6-6zM410.6 585.9l6 6-6 6-6-6zM411.9 585.6l6 6-6 6-6-6zM413.2 590.7l6 6-6 6-6-6zM414.5 583.6l6 6-6 6-6-6zM415.8 578.8l6 6-6 6-6-6zM417 581.7l6 6-6 6-6-6zM418.3 579.9l6 6-6 6-6-6zM419.6 587.8l6 6-6 6-6-6zM420.9 583.7l6 6-6 6-6-6zM422.2 581.7l6 6-6 6-6-6zM423.5 580.4l6 6-6 6-6-6zM424.8 582.8l6 6-6 6-6-6zM426.1 576l6 6-6 6-6-6zM427.3 573.4l6 6-6 6-6-6zM428.6 568.1l6 6-6 6-6-6zM429.9 582l6 6-6 6-6-6zM431.2 578.1l6 6-6 6-6-6zM432.5 578.1l6 6-6 6-6-6zM433.8 574.5l6 6-6 6-6-6zM435.1 581.6l6 6-6 6-6-6zM436.3 567.9l6 6-6 6-6-6zM437.6 577.9l6 6-6 6-6-6zM438.9 567l6 6-6 6-6-6zM440.2 568.1l6 6-6 6-6-6zM441.5 563.4l6 6-6 6-6-6zM442.8 569.1l6 6-6 6-6-6zM444.1 566.3l6 6-6 6-6-6zM445.4 569.2l6 6-6 6-6-6zM446.6 563l6 6-6 6-6-6zM447.9 557.8l6 6-6 6-6-6zM449.2 567.2l6 6-6 6-6-6zM450.5 570.2l6 6-6 6-6-6zM451.8 566.3l6 6-6 6-6-6zM453.1 561l6 6-6 6-6-6zM454.4 562.5l6 6-6 6-6-6zM455.7 549.9l6 6-6 6-6-6zM456.9 556.4l6 6-6 6-6-6zM458.2 563.7l6 6-6 6-6-6zM459.5 558.7l6 6-6 6-6-6zM460.8 550.1l6 6-6 6-6-6zM462.1 558.7l6 6-6 6-6-6zM463.4 551.8l6 6-6 6-6-6zM464.7 555.7l6 6-6 6-6-6zM465.9 532.5l6 6-6 6-6-6zM467.2 545.8l6 6-6 6-6-6zM468.5 549.7l6 6-6 6-6-6zM469.8 548.3l6 6-6 6-6-6zM471.1 548.6l6 6-6 6-6-6zM472.4 543.7l6 6-6 6-6-6zM473.7 541.2l6 6-6 6-6-6zM475 544l6 6-6 6-6-6zM476.2 545.1l6 6-6 6-6-6zM477.5 528.2l6 6-6 6-6-6zM478.8 534.4l6 6-6 6-6-6zM480.1 533.6l6 6-6 6-6-6zM481.4 534.4l6 6-6 6-6-6zM482.7 538.6l6 6-6 6-6-6zM484 520.7l6 6-6 6-6-6zM485.2 531.8l6 6-6 6-6-6zM486.5 513.9l6 6-6 6-6-6zM487.8 518.8l6 6-6 6-6-6zM489.1 518.3l6 6-6 6-6-6zM490.4 518l6 6-6 6-6-6zM491.7 513.2l6 6-6 6-6-6zM493 511.6l6 6-6 6-6-6zM494.3 510.5l6 6-6 6-6-6zM495.5 508.6l6 6-6 6-6-6zM496.8 493.7l6 6-6 6-6-6zM498.1 494.6l6 6-6 6-6-6zM499.4 499.6l6 6-6 6-6-6zM500.7 504.6l6 6-6 6-6-6zM502 505.8l6 6-6 6-6-6zM503.3 518l6 6-6 6-6-6zM504.5 492.8l6 6-6 6-6-6zM505.8 482.5l6 6-6 6-6-6zM507.1 488.8l6 6-6 6-6-6zM508.4 488.4l6 6-6 6-6-6zM509.7 480.6l6 6-6 6-6-6zM511 467.1l6 6-6 6-6-6zM512.3 471.8l6 6-6 6-6-6zM513.6 468.7l6 6-6 6-6-6zM514.8 453l6 6-6 6-6-6zM516.1 450.8l6 6-6 6-6-6zM517.4 479.6l6 6-6 6-6-6zM518.7 433.5l6 6-6 6-6-6zM520 450.8l6 6-6 6-6-6zM521.3 442.6l6 6-6 6-6-6zM522.6 453.2l6 6-6 6-6-6zM523.9 441.4l6 6-6 6-6-6zM525.1 422.5l6 6-6 6-6-6zM526.4 437.1l6 6-6 6-6-6zM527.7 413.8l6 6-6 6-6-6zM529 431.9l6 6-6 6-6-6zM530.3 421.2l6 6-6 6-6-6zM531.6 395.8l6 6-6 6-6-6zM532.9 396l6 6-6 6-6-6zM534.1 381.5l6 6-6 6-6-6zM535.4 361.5l6 6-6 6-6-6zM536.7 373.1l6 6-6 6-6-6zM538 356.8l6 6-6 6-6-6zM539.3 351.3l6 6-6 6-6-6zM540.6 355.6l6 6-6 6-6-6zM541.9 334.7l6 6-6 6-6-6zM543.2 317.1l6 6-6 6-6-6zM544.4 289.1l6 6-6 6-6-6zM545.7 273l6 6-6 6-6-6zM547 255.3l6 6-6 6-6-6zM548.3 224.4l6 6-6 6-6-6zM549.6 196.5l6 6-6 6-6-6zM550.9 198.5l6 6-6 6-6-6zM552.2 163l6 6-6 6-6-6zM553.4 140.9l6 6-6 6-6-6zM554.7 25.8l6 6-6 6-6-6zM601.1 -18l6 6-6 6-6-6zM602.3 80.1l6 6-6 6-6-6zM603.6 123.7l6 6-6 6-6-6zM604.9 178.6l6 6-6 6-6-6zM606.2 184.8l6 6-6 6-6-6zM607.5 221.3l6 6-6 6-6-6zM608.8 230.3l6 6-6 6-6-6zM610.1 238.6l6 6-6 6-6-6zM611.4 267.4l6 6-6 6-6-6zM612.6 263.7l6 6-6 6-6-6zM613.9 294.1l6 6-6 6-6-6zM615.2 302.1l6 6-6 6-6-6zM616.5 302.5l6 6-6 6-6-6zM617.8 338l6 6-6 6-6-6zM619.1 346l6 6-6 6-6-6zM620.4 347.4l6 6-6 6-6-6zM621.6 359.2l6 6-6 6-6-6zM622.9 394.6l6 6-6 6-6-6zM624.2 363.8l6 6-6 6-6-6zM625.5 358l6 6-6 6-6-6zM626.8 368.8l6 6-6 6-6-6zM628.1 391.9l6 6-6 6-6-6zM629.4 393.3l6 6-6 6-6-6zM630.7 366.1l6 6-6 6-6-6zM631.9 430.1l6 6-6 6-6-6zM633.2 410.2l6 6-6 6-6-6zM634.5 428.8l6 6-6 6-6-6zM635.8 428.9l6 6-6 6-6-6zM637.1 418.7l6 6-6 6-6-6zM638.4 428.3l6 6-6 6-6-6zM639.7 424.8l6 6-6 6-6-6zM640.9 428.1l6 6-6 6-6-6zM642.2 437.1l6 6-6 6-6-6zM643.5 448.2l6 6-6 6-6-6zM644.8 459.8l6 6-6 6-6-6zM646.1 443.1l6 6-6 6-6-6zM647.4 461l6 6-6 6-6-6zM648.7 458.7l6 6-6 6-6-6zM650 460.1l6 6-6 6-6-6zM651.2 475.4l6 6-6 6-6-6zM652.5 466.2l6 6-6 6-6-6zM653.8 484.5l6 6-6 6-6-6zM655.1 473.4l6 6-6 6-6-6zM656.4 472l6 6-6 6-6-6zM657.7 489.5l6 6-6 6-6-6zM659 474.4l6 6-6 6-6-6zM660.3 480l6 6-6 6-6-6zM661.5 491.5l6 6-6 6-6-6zM662.8 496.3l6 6-6 6-6-6zM664.1 497.4l6 6-6 6-6-6zM665.4 487.1l6 6-6 6-6-6zM666.7 495.5l6 6-6 6-6-6zM668 517.8l6 6-6 6-6-6zM669.3 516.4l6 6-6 6-6-6zM670.5 507.4l6 6-6 6-6-6zM671.8 519.9l6 6-6 6-6-6zM673.1 522l6 6-6 6-6-6zM674.4 530.3l6 6-6 6-6-6zM675.7 520.1l6 6-6 6-6-6zM677 537.8l6 6-6 6-6-6zM678.3 527.6l6 6-6 6-6-6zM679.6 541.6l6 6-6 6-6-6zM680.8 540l6 6-6 6-6-6zM682.1 529l6 6-6 6-6-6zM683.4 535.5l6 6-6 6-6-6zM684.7 541.2l6 6-6 6-6-6zM686 547.6l6 6-6 6-6-6zM687.3 534.1l6 6-6 6-6-6zM688.6 541.3l6 6-6 6-6-6zM689.8 549.8l6 6-6 6-6-6zM691.1 550.5l6 6-6 6-6-6zM692.4 542.8l6 6-6 6-6-6zM693.7 545.3l6 6-6 6-6-6zM695 554.5l6 6-6 6-6-6zM696.3 547.5l6 6-6 6-6-6zM697.6 556.1l6 6-6 6-6-6zM698.9 561.3l6 6-6 6-6-6zM700.1 557.5l6 6-6 6-6-6zM701.4 543.8l6 6-6 6-6-6zM702.7 566.4l6 6-6 6-6-6zM704 574.4l6 6-6 6-6-6zM705.3 569.9l6 6-6 6-6-6zM706.6 568l6 6-6 6-6-6zM707.9 555.6l6 6-6 6-6-6zM709.1 572.9l6 6-6 6-6-6zM710.4 568.3l6 6-6 6-6-6zM711.7 572.3l6 6-6 6-6-6zM713 567.6l6 6-6 6-6-6zM714.3 568.1l6 6-6 6-6-6zM715.6 569.1l6 6-6 6-6-6zM716.9 579.1l6 6-6 6-6-6zM718.2 573.4l6 6-6 6-6-6zM719.4 571.8l6 6-6 6-6-6zM720.7 567.4l6 6-6 6-6-6zM722 576.7l6 6-6 6-6-6zM723.3 575.3l6 6-6 6-6-6zM724.6 576.7l6 6-6 6-6-6zM725.9 581.4l6 6-6 6-6-6zM727.2 584.7l6 6-6 6-6-6zM728.5 578.1l6 6-6 6-6-6zM729.7 581.1l6 6-6 6-6-6zM731 579.9l6 6-6 6-6-6zM732.3 583.5l6 6-6 6-6-6zM733.6 587.6l6 6-6 6-6-6zM734.9 582.1l6 6-6 6-6-6zM736.2 578.2l6 6-6 6-6-6zM737.5 586.4l6 6-6 6-6-6zM738.7 587.3l6 6-6 6-6-6zM740 579.1l6 6-6 6-6-6zM741.3 586.1l6 6-6 6-6-6zM742.6 583.3l6 6-6 6-6-6zM743.9 576l6 6-6 6-6-6zM745.2 585.9l6 6-6 6-6-6zM746.5 590.7l6 6-6 6-6-6zM747.8 584l6 6-6 6-6-6zM749 584.7l6 6-6 6-6-6zM750.3 592.6l6 6-6 6-6-6zM751.6 584.2l6 6-6 6-6-6zM752.9 585.4l6 6-6 6-6-6zM754.2 588.5l6 6-6 6-6-6zM755.5 593l6 6-6 6-6-6zM756.8 593.5l6 6-6 6-6-6zM758 587l6 6-6 6-6-6zM759.3 590.7l6 6-6 6-6-6zM760.6 592.8l6 6-6 6-6-6zM761.9 591.4l6 6-6 6-6-6zM763.2 590l6 6-6 6-6-6zM764.5 589.6l6 6-6 6-6-6zM765.8 597.3l6 6-6 6-6-6zM767.1 594.1l6 6-6 6-6-6zM768.3 619.1l6 6-6 6-6-6zM769.6 601.2l6 6-6 6-6-6zM770.9 593.5l6 6-6 6-6-6zM772.2 597l6 6-6 6-6-6zM773.5 598.8l6 6-6 6-6-6zM774.8 599.5l6 6-6 6-6-6zM776.1 600.2l6 6-6 6-6-6zM777.4 600.6l6 6-6 6-6-6zM778.6 598.8l6 6-6 6-6-6zM779.9 602.2l6 6-6 6-6-6zM781.2 608.3l6 6-6 6-6-6zM782.5 598.8l6 6-6 6-6-6zM783.8 599.4l6 6-6 6-6-6zM785.1 603.7l6 6-6 6-6-6zM786.4 605.9l6 6-6 6-6-6zM787.6 604.6l6 6-6 6-6-6zM788.9 606.4l6 6-6 6-6-6zM790.2 602l6 6-6 6-6-6zM791.5 601.7l6 6-6 6-6-6zM792.8 605.2l6 6-6 6-6-6zM794.1 605.5l6 6-6 6-6-6zM795.4 609.4l6 6-6 6-6-6zM796.7 609.3l6 6-6 6-6-6zM797.9 597.4l6 6-6 6-6-6zM799.2 607l6 6-6 6-6-6zM800.5 602.2l6 6-6 6-6-6zM801.8 597.4l6 6-6 6-6-6zM803.1 606.5l6 6-6 6-6-6zM804.4 604.8l6 6-6 6-6-6zM805.7 604.4l6 6-6 6-6-6zM806.9 601.4l6 6-6 6-6-6zM808.2 602.7l6 6-6 6-6-6zM809.5 605.7l6 6-6 6-6-6zM810.8 601.6l6 6-6 6-6-6zM812.1 606.6l6 6-6 6-6-6zM813.4 607.6l6 6-6 6-6-6zM814.7 607l6 6-6 6-6-6zM816 610l6 6-6 6-6-6zM817.2 607.8l6 6-6 6-6-6zM818.5 604.3l6 6-6 6-6-6zM819.8 605l6 6-6 6-6-6zM821.1 609.2l6 6-6 6-6-6zM822.4 612.3l6 6-6 6-6-6zM823.7 609.8l6 6-6 6-6-6zM825 607.8l6 6-6 6-6-6zM826.2 610.3l6 6-6 6-6-6zM827.5 604l6 6-6 6-6-6zM828.8 606.9l6 6-6 6-6-6zM830.1 609.2l6 6-6 6-6-6zM831.4 610.5l6 6-6 6-6-6zM832.7 608.7l6 6-6 6-6-6zM834 610.2l6 6-6 6-6-6zM835.3 607.4l6 6-6 6-6-6zM836.5 607.6l6 6-6 6-6-6zM837.8 612.6l6 6-6 6-6-6zM839.1 606l6 6-6 6-6-6zM840.4 608.3l6 6-6 6-6-6zM841.7 610l6 6-6 6-6-6zM843 617.3l6 6-6 6-6-6zM844.3 614.9l6 6-6 6-6-6zM845.6 618l6 6-6 6-6-6zM846.8 622.2l6 6-6 6-6-6zM848.1 611.8l6 6-6 6-6-6zM849.4 613.2l6 6-6 6-6-6zM850.7 609.9l6 6-6 6-6-6zM852 617.5l6 6-6 6-6-6zM853.3 616.3l6 6-6 6-6-6zM854.6 616l6 6-6 6-6-6zM855.8 616.4l6 6-6 6-6-6zM857.1 615.9l6 6-6 6-6-6zM858.4 615.3l6 6-6 6-6-6zM859.7 615.7l6 6-6 6-6-6zM861 618.8l6 6-6 6-6-6zM862.3 612.6l6 6-6 6-6-6zM863.6 612l6 6-6 6-6-6zM864.9 615.5l6 6-6 6-6-6zM866.1 619.3l6 6-6 6-6-6zM867.4 616.5l6 6-6 6-6-6zM868.7 615.3l6 6-6 6-6-6zM870 618.7l6 6-6 6-6-6zM871.3 616.6l6 6-6 6-6-6zM872.6 610.5l6 6-6 6-6-6zM873.9 613.5l6 6-6 6-6-6zM875.1 610.3l6 6-6 6-6-6zM876.4 616.3l6 6-6 6-6-6zM877.7 615.8l6 6-6 6-6-6zM879 620.2l6 6-6 6-6-6zM880.3 624.1l6 6-6 6-6-6zM881.6 615.9l6 6-6 6-6-6zM882.9 617.9l6 6-6 6-6-6zM884.2 616.9l6 6-6 6-6-6zM885.4 609.6l6 6-6 6-6-6zM886.7 616.1l6 6-6 6-6-6zM888 616.4l6 6-6 6-6-6zM889.3 619.7l6 6-6 6-6-6zM890.6 616.4l6 6-6 6-6-6zM891.9 615.2l6 6-6 6-6-6zM893.2 621.2l6 6-6 6-6-6zM894.4 619.3l6 6-6 6-6-6zM895.7 617l6 6-6 6-6-6zM897 617.5l6 6-6 6-6-6zM898.3 619.1l6 6-6 6-6-6zM899.6 622.7l6 6-6 6-6-6zM900.9 624.6l6 6-6 6-6-6zM902.2 616.4l6 6-6 6-6-6zM903.5 624l6 6-6 6-6-6zM904.7 620.8l6 6-6 6-6-6zM906 621.8l6 6-6 6-6-6zM907.3 623.7l6 6-6 6-6-6zM908.6 617.9l6 6-6 6-6-6zM909.9 623.5l6 6-6 6-6-6zM911.2 617l6 6-6 6-6-6zM912.5 619.6l6 6-6 6-6-6zM913.8 618.6l6 6-6 6-6-6zM915 626.3l6 6-6 6-6-6zM916.3 626.2l6 6-6 6-6-6zM917.6 623.6l6 6-6 6-6-6zM918.9 622.9l6 6-6 6-6-6zM920.2 619.8l6 6-6 6-6-6zM921.5 626.7l6 6-6 6-6-6zM922.8 625.7l6 6-6 6-6-6zM924 624.3l6 6-6 6-6-6zM925.3 621l6 6-6 6-6-6zM926.6 619.6l6 6-6 6-6-6zM927.9 621.6l6 6-6 6-6-6zM929.2 625.9l6 6-6 6-6-6zM930.5 616.1l6 6-6 6-6-6zM931.8 622.4l6 6-6 6-6-6zM933.1 627l6 6-6 6-6-6zM934.3 624.9l6 6-6 6-6-6zM935.6 627.5l6 6-6 6-6-6zM936.9 623.7l6 6-6 6-6-6zM938.2 625.4l6 6-6 6-6-6zM939.5 626.9l6 6-6 6-6-6zM940.8 624.9l6 6-6 6-6-6zM942.1 624.1l6 6-6 6-6-6zM943.3 621.8l6 6-6 6-6-6zM944.6 619.1l6 6-6 6-6-6zM945.9 628.1l6 6-6 6-6-6zM947.2 622.6l6 6-6 6-6-6zM948.5 621.8l6 6-6 6-6-6zM949.8 629.6l6 6-6 6-6-6zM951.1 621.7l6 6-6 6-6-6zM952.4 620.4l6 6-6 6-6-6zM953.6 622.8l6 6-6 6-6-6zM954.9 624.4l6 6-6 6-6-6zM956.2 625.4l6 6-6 6-6-6zM957.5 626.2l6 6-6 6-6-6zM958.8 630.9l6 6-6 6-6-6zM960.1 624.6l6 6-6 6-6-6zM961.4 626.1l6 6-6 6-6-6zM962.6 624.8l6 6-6 6-6-6zM963.9 623.3l6 6-6 6-6-6zM965.2 626.4l6 6-6 6-6-6zM966.5 626.3l6 6-6 6-6-6zM967.8 630.7l6 6-6 6-6-6z" fill="#808000"/>
<path d="M197 656L197.4 648L198.5 638L200.5 631.5L203.5 628L206 625.8L207.3 626.2L208.6 625.2L209.9 626.9L211.2 625.8L212.4 626L213.7 627L215 624L216.3 625.9L217.6 626.4L218.9 627L220.2 626L221.5 625L222.7 626.6L224 626.5L225.3 627.7L226.6 627.5L227.9 625L229.2 626.5L230.5 625.2L231.7 623.9L233 625.5L234.3 626.1L235.6 622.2L236.9 625.9L238.2 623.6L239.5 626L240.8 624.5L242 624.3L243.3 625.5L244.6 623.6L245.9 626L247.2 622.8L248.5 623.1L249.8 622.5L251 624L252.3 623.3L253.6 624.1L254.9 624.3L256.2 623.9L257.5 624.1L258.8 624L260.1 622.7L261.3 622L262.6 621.6L263.9 623.3L265.2 621.9L266.5 621.4L267.8 621.4L269.1 621.9L270.4 622.3L271.6 621.7L272.9 620.8L274.2 622.3L275.5 619.4L276.8 621.2L278.1 622.5L279.4 621.6L280.6 622.4L281.9 621.2L283.2 621.6L284.5 620.9L285.8 620.3L287.1 621L288.4 621.5L289.7 618.4L290.9 619.5L292.2 618.1L293.5 619.1L294.8 618.6L296.1 619.3L297.4 619.4L298.7 620.5L299.9 620.7L301.2 618.5L302.5 618.6L303.8 619.6L305.1 618.2L306.4 618.3L307.7 616.7L309 619.2L310.2 618.5L311.5 617.2L312.8 616.6L314.1 616.7L315.4 618.1L316.7 616.9L318 616L319.2 616.7L320.5 617.7L321.8 617.9L323.1 617.8L324.4 616.3L325.7 616.2L327 616.1L328.3 616.2L329.5 615.9L330.8 614.1L332.1 614.1L333.4 614.2L334.7 615.1L336 613.6L337.3 613.2L338.6 614.7L339.8 614.9L341.1 612.3L342.4 612.9L343.7 613.9L345 612.2L346.3 613.3L347.6 610.7L348.8 611.7L350.1 612.3L351.4 612.9L352.7 612L354 609.2L355.3 609L356.6 609.4L357.9 610.7L359.1 610.3L360.4 610.3L361.7 609.5L363 607.9L364.3 607.7L365.6 606.8L366.9 608.1L368.1 605.6L369.4 606.4L370.7 606.2L372 606.7L373.3 604.3L374.6 604.9L375.9 603.1L377.2 604.5L378.4 602.7L379.7 602.3L381 601.1L382.3 601L383.6 600.4L384.9 599.9L386.2 601.1L387.4 598.6L388.7 599.2L390 599.3L391.3 596.9L392.6 595.5L393.9 597.5L395.2 595L396.5 595.4L397.7 595.5L399 595.4L400.3 594.4L401.6 593.5L402.9 594.7L404.2 593.5L405.5 594.7L406.8 591.5L408 591.8L409.3 591.3L410.6 591.4L411.9 590.6L413.2 589.9L414.5 591.2L415.8 588.7L417 588.7L418.3 588L419.6 586.7L420.9 587.4L422.2 584.3L423.5 586.6L424.8 583.5L426.1 584L427.3 583.8L428.6 582.6L429.9 581.9L431.2 582.8L432.5 583.2L433.8 581.3L435.1 579.7L436.3 578.2L437.6 577.3L438.9 578.3L440.2 577.2L441.5 576.8L442.8 575.7L444.1 575.1L445.4 572.5L446.6 571.4L447.9 570.3L449.2 570.3L450.5 569.2L451.8 568.5L453.1 566.3L454.4 566.6L455.7 566.1L456.9 564.4L458.2 560.8L459.5 562.1L460.8 560.7L462.1 560.7L463.4 558.6L464.7 558.1L465.9 556L467.2 555.4L468.5 554.7L469.8 552.3L471.1 551.5L472.4 550.1L473.7 549.1L475 547L476.2 546.1L477.5 542.6L478.8 542.5L480.1 541.8L481.4 540L482.7 537L484 535.4L485.2 534.5L486.5 532.6L487.8 530.7L489.1 528.3L490.4 526.2L491.7 524.7L493 520.9L494.3 518.2L495.5 517.6L496.8 513.8L498.1 512.3L499.4 508.7L500.7 505.7L502 505L503.3 500.9L504.5 497L505.8 495L507.1 491.9L508.4 488.7L509.7 485.7L511 481.4L512.3 478.6L513.6 475.5L514.8 471.9L516.1 467.6L517.4 463.1L518.7 458.3L520 456.4L521.3 450.4L522.6 446.3L523.9 441.9L525.1 437L526.4 431.3L527.7 424.9L529 418.7L530.3 412.1L531.6 404.1L532.9 394.2L534.1 386.1L535.4 376.2L536.7 368.1L538 358.8L539.3 348.1L540.6 337.9L541.9 325.3L543.2 311.7L544.4 295.4L545.7 277.8L547 256.6L548.3 231.9L549.6 205.2L550.9 179.8L552.2 155.6L553.4 120.6L554.7 43.5L556 -60L557.3 -60L558.6 -60L559.9 -60L561.2 -60L562.5 -60L563.7 -60L565 -60L566.3 -60L567.6 -60L568.9 -60L570.2 -60L571.5 -60L572.7 -60L574 -60L575.3 -60L576.6 -60L577.9 -60L579.2 -60L580.5 -60L581.8 -60L583 -60L584.3 -60L585.6 -60L586.9 -60L588.2 -60L589.5 -60L590.8 -60L592.1 -60L593.3 -60L594.6 -60L595.9 -60L597.2 -60L598.5 -60L599.8 -60L601.1 21.2L602.3 76.9L603.6 118.7L604.9 152.1L606.2 181.5L607.5 206.1L608.8 228.8L610.1 249.7L611.4 267.4L612.6 283.8L613.9 297.9L615.2 309.1L616.5 321.3L617.8 331.1L619.1 339.7L620.4 348.5L621.6 356.1L622.9 364.2L624.2 371.7L625.5 378.6L626.8 384.7L628.1 390.6L629.4 396.6L630.7 402.5L631.9 408.5L633.2 414.5L634.5 418.8L635.8 423.6L637.1 428.1L638.4 433.7L639.7 437.5L640.9 440.7L642.2 446.5L643.5 450.3L644.8 453.3L646.1 456.7L647.4 460.6L648.7 463.6L650 468.6L651.2 472.5L652.5 475.8L653.8 478.8L655.1 482.3L656.4 485.9L657.7 490.2L659 491.7L660.3 495.6L661.5 498.3L662.8 501.2L664.1 505.6L665.4 509.4L666.7 511L668 515.6L669.3 518.5L670.5 521.2L671.8 524.7L673.1 525.8L674.4 530L675.7 530.8L677 533.7L678.3 534.2L679.6 538.3L680.8 539.6L682.1 541L683.4 542.5L684.7 545.3L686 548L687.3 549L688.6 549.9L689.8 551.2L691.1 552.5L692.4 554.6L693.7 555L695 557.5L696.3 560.2L697.6 560.5L698.9 561.8L700.1 562.7L701.4 565.1L702.7 566.3L704 568.2L705.3 567.4L706.6 568.2L707.9 569.7L709.1 570.2L710.4 572.3L711.7 572.9L713 573.5L714.3 575.1L715.6 577L716.9 577.6L718.2 577.2L719.4 578.7L720.7 579.7L722 580.8L723.3 580.7L724.6 580.6L725.9 582.8L727.2 582.3L728.5 583.6L729.7 584.4L731 586.2L732.3 585.5L733.6 586.8L734.9 587L736.2 587.4L737.5 589.3L738.7 588.6L740 590.1L741.3 590.5L742.6 589L743.9 589.8L745.2 588.9L746.5 592.7L747.8 593.2L749 593.1L750.3 593.6L751.6 594.4L752.9 594.6L754.2 595.7L755.5 596.2L756.8 595.9L758 598.6L759.3 598.8L760.6 598L761.9 600.9L763.2 601.7L764.5 601L765.8 601.5L767.1 600.3L768.3 601L769.6 600.3L770.9 601.9L772.2 603.8L773.5 603L774.8 602.3L776.1 605.9L777.4 606.7L778.6 606.7L779.9 604.2L781.2 606.8L782.5 605.5L783.8 606.5L785.1 607.6L786.4 608.7L787.6 606.9L788.9 607.4L790.2 606.8L791.5 608.3L792.8 607.6L794.1 608.4L795.4 609.9L796.7 609.4L797.9 609.8L799.2 610.3L800.5 611L801.8 611.9L803.1 609.7L804.4 609.5L805.7 611.9L806.9 612.3L808.2 613.2L809.5 612.9L810.8 614.1L812.1 613.2L813.4 612.3L814.7 614.1L816 612.5L817.2 613L818.5 614.3L819.8 613.9L821.1 615.3L822.4 614.3L823.7 616.7L825 614.1L826.2 616L827.5 615.1L828.8 617.2L830.1 615.4L831.4 617L832.7 613.3L834 615.9L835.3 618.5L836.5 617.3L837.8 617.3L839.1 618.3L840.4 620L841.7 616.8L843 617.9L844.3 617.7L845.6 619.1L846.8 617.8L848.1 617.2L849.4 617.4L850.7 619.7L852 619.4L853.3 620.2L854.6 617.9L855.8 618.8L857.1 619.3L858.4 620.8L859.7 620.6L861 620.1L862.3 619.4L863.6 620.8L864.9 620.3L866.1 621.8L867.4 622.8L868.7 621.3L870 620.2L871.3 623.9L872.6 622.3L873.9 622.4L875.1 622.1L876.4 622.3L877.7 622.4L879 622.8L880.3 621.2L881.6 622.2L882.9 623L884.2 623.4L885.4 623.6L886.7 624L888 621.9L889.3 623L890.6 623.4L891.9 624.4L893.2 624.2L894.4 626.5L895.7 624.3L897 624.6L898.3 623.5L899.6 627L900.9 625.4L902.2 625.3L903.5 624.9L904.7 625.8L906 625.4L907.3 627.1L908.6 625.2L909.9 625.7L911.2 625.7L912.5 626.9L913.8 626.7L915 627.4L916.3 627.1L917.6 627.2L918.9 626.8L920.2 627.7L921.5 627.4L922.8 627.3L924 625.5L925.3 626.7L926.6 626.5L927.9 625.5L929.2 628.7L930.5 629L931.8 628.7L933.1 628.3L934.3 629.3L935.6 626.3L936.9 629.4L938.2 626.3L939.5 628.6L940.8 628.8L942.1 629.3L943.3 629.7L944.6 630L945.9 628.8L947.2 629L948.5 629L949.8 630.1L951.1 629.8L952.4 628.6L953.6 631.3L954.9 629.3L956.2 630L960 632.6L963.5 637L965.8 643L967.2 650L968 656" fill="none" stroke="#000" stroke-width="2.6" stroke-linejoin="round"/>
</g>
<rect x="181.0" y="18.5" width="804.0" height="646.7" fill="none" stroke="#000" stroke-width="2.5"/>
<path d="M167.0 659.3H181.0M985.0 659.3h13.5M174.0 595.2H181.0M985.0 595.2h-8M167.0 531.2H181.0M985.0 531.2h13.5M174.0 467.1H181.0M985.0 467.1h-8M167.0 403H181.0M985.0 403h13.5M174.0 339H181.0M985.0 339h-8M167.0 274.9H181.0M985.0 274.9h13.5M174.0 210.8H181.0M985.0 210.8h-8M167.0 146.8H181.0M985.0 146.8h13.5M174.0 82.7H181.0M985.0 82.7h-8M167.0 18.5H181.0M985.0 18.5h13.5M260.7 665.2v13.5M260.7 18.5v-13.5M421.5 665.2v7.5M421.5 18.5v7.5M582.4 665.2v13.5M582.4 18.5v-13.5M743.2 665.2v7.5M743.2 18.5v7.5M904.1 665.2v13.5M904.1 18.5v-13.5" fill="none" stroke="#000" stroke-width="2.5"/>
<path d="M780.5 48.8H859" stroke="#000" stroke-width="3" stroke-dasharray="16 15.2" fill="none"/>
<circle cx="822.8" cy="93.8" r="4.5" fill="#f00"/>
<path d="M822.8 133l5.3 9h-10.6z" fill="#00f"/>
<path d="M822.8 178.2l5.5 5.5-5.5 5.5-5.5-5.5z" fill="#808000"/>
<text transform="translate(158 670.2) scale(1 1.035)" text-anchor="end" font-size="36">0.00</text>
<text transform="translate(158 542.1) scale(1 1.035)" text-anchor="end" font-size="36">0.01</text>
<text transform="translate(158 413.9) scale(1 1.035)" text-anchor="end" font-size="36">0.02</text>
<text transform="translate(158 285.8) scale(1 1.035)" text-anchor="end" font-size="36">0.03</text>
<text transform="translate(158 157.7) scale(1 1.035)" text-anchor="end" font-size="36">0.04</text>
<text transform="translate(158 29.5) scale(1 1.035)" text-anchor="end" font-size="36">0.05</text>
<text id="xl-100" transform="translate(260 715) scale(1 1.035)" text-anchor="middle" font-size="36">-100</text>
<text id="xl0" transform="translate(582.4 715) scale(1 1.035)" text-anchor="middle" font-size="36">0</text>
<text id="xl100" transform="translate(904.1 715) scale(1 1.035)" text-anchor="middle" font-size="36">100</text>
<text id="xt1" transform="translate(309 796.8) scale(1 1.035)" font-size="55.3">Energy Transfer (</text>
<text id="xt2" transform="translate(738.5 796.8) scale(1.03 1)" font-size="55.5" style="font-family:'Liberation Serif','DejaVu Serif',serif">μ</text>
<text id="xt3" transform="translate(770 796.8) scale(1 1.035)" font-size="55.5">eV)</text>
<text id="yt" transform="translate(43 583) rotate(-90) scale(1 1.035)" font-size="55.1">Intensity (arb. units)</text>
<text transform="translate(959.6 61.4) scale(1 1.035)" text-anchor="end" font-size="37">4K</text>
<text transform="translate(959.6 106.2) scale(1 1.035)" text-anchor="end" font-size="37">230K</text>
<text transform="translate(959.6 150.9) scale(1 1.035)" text-anchor="end" font-size="37">250K</text>
<text transform="translate(959.6 195.7) scale(1 1.035)" text-anchor="end" font-size="37">265K</text>
</svg>
</body></html>
